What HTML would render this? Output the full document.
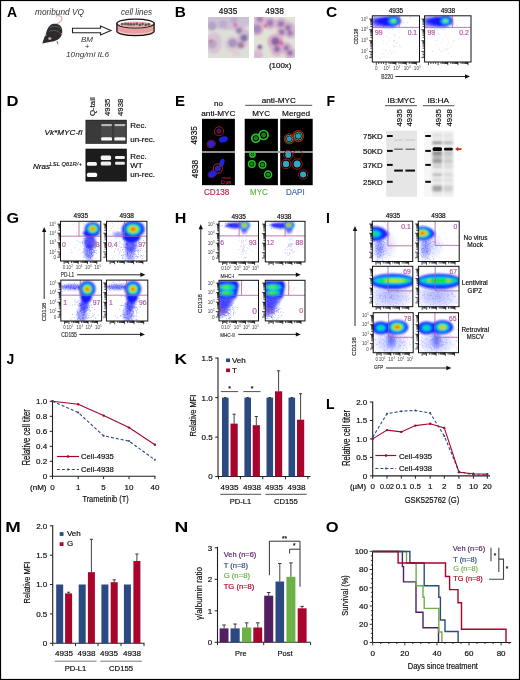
<!DOCTYPE html>
<html><head><meta charset="utf-8"><style>
html,body{margin:0;padding:0;background:#fff;}
svg{display:block;will-change:transform;}
text{font-family:"Liberation Sans", sans-serif;}
</style></head><body>
<svg width="520" height="680" viewBox="0 0 520 680">
<rect x="0" y="0" width="520" height="680" fill="#fff"/>
<defs>
<filter id="bl08" x="-30%" y="-30%" width="160%" height="160%"><feGaussianBlur stdDeviation="0.85"/></filter>
<filter id="bl1" x="-30%" y="-30%" width="160%" height="160%"><feGaussianBlur stdDeviation="1.2"/></filter>
<filter id="bl05" x="-30%" y="-30%" width="160%" height="160%"><feGaussianBlur stdDeviation="0.6"/></filter>
<filter id="bl2" x="-30%" y="-30%" width="160%" height="160%"><feGaussianBlur stdDeviation="2"/></filter>
<filter id="bl3" x="-50%" y="-50%" width="200%" height="200%"><feGaussianBlur stdDeviation="3"/></filter>
<radialGradient id="hz"><stop offset="0" stop-color="#2030ff" stop-opacity="1"/><stop offset="0.5" stop-color="#3040ff" stop-opacity="0.6"/><stop offset="1" stop-color="#4050ff" stop-opacity="0"/></radialGradient>
<linearGradient id="gel1" x1="0" y1="0" x2="0" y2="1"><stop offset="0" stop-color="#2a2a2a"/><stop offset="0.6" stop-color="#3c3c3c"/><stop offset="1" stop-color="#2c2c2c"/></linearGradient>
</defs>
<text x="7" y="17" font-size="14" fill="#000" font-weight="bold" >A</text>
<text x="35" y="14.5" font-size="9" fill="#333" textLength="49" lengthAdjust="spacingAndGlyphs" font-style="italic" >moribund VQ</text>
<path d="M56 24.5 C59 23 62.5 20.5 61.8 17.8 C61 15.5 58 15.2 55.8 16.2" fill="none" stroke="#e6a8a8" stroke-width="1.1"/>
<path d="M42.3 43.4 C43.5 40 44.6 36.5 46 33.5 C46.8 30 48 27 50.5 25 C53 23.3 57.5 23.4 60.3 25.8 C62.6 28 62.8 32.5 61.5 35.5 C60 38.5 57.5 40.3 54 41.2 C50.5 42 46.5 42.6 42.3 43.4 Z" fill="#2c2c2c"/>
<path d="M50 27.5 C53.5 25.5 58.5 26 61.3 29.5 M49 31.5 C52.5 29.5 57.5 30 60.5 33.5" fill="none" stroke="#5a5a5a" stroke-width="1"/>
<ellipse cx="49.8" cy="38.6" rx="1.6" ry="1.3" fill="#e8a0a8"/>
<circle cx="45.6" cy="35" r="0.9" fill="#e8a0a8"/>
<circle cx="57.7" cy="43.5" r="0.9" fill="#e8a0a8"/>
<path d="M57 41 L57.7 43.5" stroke="#555" stroke-width="0.8"/>
<circle cx="61.8" cy="33.8" r="0.8" fill="#e8a0a8"/>
<circle cx="42.7" cy="43.2" r="0.7" fill="#e8a0a8"/>
<path d="M72.5 28.2 L100.5 28.2 L100.5 26 L111 30.5 L100.5 35 L100.5 32.8 L72.5 32.8 Z" fill="#fff" stroke="#222" stroke-width="1.1"/>
<text x="87" y="42" font-size="8" text-anchor="middle" fill="#333" font-style="italic" >BM</text>
<text x="87" y="49" font-size="8" text-anchor="middle" fill="#333" font-style="italic" >+</text>
<text x="66" y="56.5" font-size="8" fill="#333" textLength="43" lengthAdjust="spacingAndGlyphs" font-style="italic" >10ng/ml IL6</text>
<text x="121" y="14.5" font-size="9" fill="#333" textLength="31" lengthAdjust="spacingAndGlyphs" font-style="italic" >cell lines</text>
<path d="M116.9 23.5 L116.9 31.3 A18.6 4.4 0 0 0 154.1 31.3 L154.1 23.5 Z" fill="#e6a0a0" stroke="#111" stroke-width="1.3"/>
<path d="M118.5 30.5 A17 3.6 0 0 0 152.5 30.5" fill="none" stroke="#f6d0d0" stroke-width="0.9"/>
<ellipse cx="135.5" cy="23.5" rx="18.6" ry="4.4" fill="#fff" stroke="#111" stroke-width="1.3"/>
<ellipse cx="135.5" cy="24.6" rx="16.2" ry="3.0" fill="#eaa8a8"/>
<circle cx="122.4" cy="24.0" r="1.35" fill="#5a5a5a"/>
<circle cx="125.5" cy="23.9" r="1.35" fill="#5a5a5a"/>
<circle cx="128.3" cy="24.2" r="1.35" fill="#5a5a5a"/>
<circle cx="130.8" cy="24.4" r="1.35" fill="#5a5a5a"/>
<circle cx="133.7" cy="24.3" r="1.35" fill="#5a5a5a"/>
<circle cx="136.7" cy="23.9" r="1.35" fill="#5a5a5a"/>
<circle cx="139.8" cy="24.8" r="1.35" fill="#5a5a5a"/>
<circle cx="142.5" cy="24.1" r="1.35" fill="#5a5a5a"/>
<circle cx="145.8" cy="24.9" r="1.35" fill="#5a5a5a"/>
<circle cx="148.7" cy="24.3" r="1.35" fill="#5a5a5a"/>
<text x="174.8" y="17" font-size="14" fill="#000" textLength="11.1" lengthAdjust="spacingAndGlyphs" font-weight="bold" >B</text>
<text x="228.1" y="13.8" font-size="8.3" text-anchor="middle" stroke="#231f20" stroke-width="0.18" >4935</text>
<text x="274.6" y="13.8" font-size="8.3" text-anchor="middle" stroke="#231f20" stroke-width="0.18" >4938</text>
<text x="268.9" y="67.7" font-size="7" stroke="#231f20" stroke-width="0.18" textLength="22.6" lengthAdjust="spacingAndGlyphs" >(100x)</text>
<svg x="208" y="17" width="41" height="41" overflow="hidden"><rect width="41" height="41" fill="#dde0d6"/><g filter="url(#bl1)" opacity="0.82">
<ellipse cx="20" cy="4" rx="24" ry="9" fill="#cbbad6"/>
<ellipse cx="6" cy="26" rx="8" ry="11" fill="#d6bed6"/>
<circle cx="24.5" cy="27" r="8" fill="#dcc4d6"/>
<circle cx="33" cy="26" r="6.5" fill="#d2b8d2"/>
<circle cx="36" cy="18" r="6" fill="#ccb0d0"/>
<circle cx="31" cy="12" r="5" fill="#cdb2d2"/>
<circle cx="4" cy="9" r="4.5" fill="#a896c4"/>
<circle cx="15" cy="7" r="4" fill="#b4a2cc"/>
<circle cx="26" cy="3" r="3.5" fill="#b6a0ca"/>
<circle cx="31" cy="13.5" r="3" fill="#8c74ac"/>
<circle cx="36" cy="21" r="3.6" fill="#6e5e9a"/>
<circle cx="24.5" cy="26" r="4.5" fill="#9c86b8"/>
<circle cx="32.7" cy="28" r="3.2" fill="#8a6aa6"/>
<circle cx="4.4" cy="27" r="4.5" fill="#b09ac2"/>
<circle cx="27.3" cy="8" r="2.2" fill="#e05c9c"/>
<circle cx="2.5" cy="24" r="1.6" fill="#c0306e"/>
<circle cx="34" cy="29" r="1.5" fill="#c05088"/>
<ellipse cx="28.5" cy="37" rx="4" ry="3" fill="#e2ccd6"/>
</g></svg>
<svg x="254" y="17" width="41" height="41" overflow="hidden"><rect width="41" height="41" fill="#e0e3d6"/><g filter="url(#bl1)" opacity="0.82">
<circle cx="5.8" cy="2.5" r="6" fill="#d8a6cc"/>
<circle cx="16" cy="6" r="6.5" fill="#d6aacd"/>
<circle cx="27" cy="7" r="6.5" fill="#d4a6cb"/>
<circle cx="35" cy="10.7" r="6" fill="#d2a4cb"/>
<circle cx="3" cy="12" r="6.5" fill="#cfa0c8"/>
<circle cx="28" cy="15" r="5.5" fill="#d8acd0"/>
<circle cx="36.5" cy="16" r="5.5" fill="#d4a8cc"/>
<circle cx="21.4" cy="25" r="8" fill="#d4a2c8"/>
<circle cx="23" cy="33" r="6.5" fill="#d8a8cc"/>
<circle cx="32.3" cy="31" r="6" fill="#d2a4ca"/>
<circle cx="36" cy="36" r="6" fill="#d4a8cc"/>
<circle cx="4" cy="38" r="5" fill="#dab2d0"/>
<circle cx="5.8" cy="31" r="3.5" fill="#dcc0d4"/>
<circle cx="5.8" cy="2" r="3" fill="#9270b0"/>
<circle cx="16" cy="6" r="3.4" fill="#8e6cae"/>
<circle cx="27" cy="7" r="3.2" fill="#8a68ac"/>
<circle cx="34" cy="10.7" r="2.8" fill="#8060a4"/>
<circle cx="3" cy="12" r="4" fill="#9a78b6"/>
<circle cx="27.8" cy="15" r="3" fill="#8a68ac"/>
<circle cx="36" cy="16" r="2.8" fill="#8a68ac"/>
<circle cx="21.4" cy="24.4" r="4.2" fill="#74489a"/>
<circle cx="23" cy="32" r="3.2" fill="#8460a6"/>
<circle cx="32.3" cy="31" r="2.8" fill="#8862a8"/>
<circle cx="36" cy="36" r="2.8" fill="#7a5ba0"/>
<circle cx="5.8" cy="30" r="2.2" fill="#5a3a8a"/>
<circle cx="11.3" cy="9" r="1.8" fill="#e0307a"/>
<circle cx="27" cy="26" r="2.4" fill="#e0408a"/>
</g></svg>
<text x="326.1" y="17" font-size="14" fill="#000" textLength="11.2" lengthAdjust="spacingAndGlyphs" font-weight="bold" >C</text>
<text x="395.9" y="12.5" font-size="6.5" text-anchor="middle" stroke="#231f20" stroke-width="0.18" >4935</text>
<text x="447.9" y="12.5" font-size="6.5" text-anchor="middle" stroke="#231f20" stroke-width="0.18" >4938</text>
<clipPath id="c372_15"><rect x="372.3" y="15.8" width="47.19999999999999" height="46.2"/></clipPath>
<g clip-path="url(#c372_15)">
<path fill="#b8b8f0" d="M392.9 40.8h.6v.6h-.6zM394.1 35.3h.6v.6h-.6zM392.9 44.9h.6v.6h-.6zM387.4 57.1h.6v.6h-.6zM394.3 52.3h.6v.6h-.6zM387.7 34.4h.6v.6h-.6zM389.2 40.2h.6v.6h-.6zM394.8 43.5h.6v.6h-.6zM388.6 32.4h.6v.6h-.6zM388.2 52.5h.6v.6h-.6zM386.6 43.5h.6v.6h-.6zM393.6 27.4h.6v.6h-.6zM391.5 53.3h.6v.6h-.6zM379.8 38.2h.6v.6h-.6zM390.6 33.7h.6v.6h-.6zM394.0 40.6h.6v.6h-.6zM382.9 48.9h.6v.6h-.6zM395.0 49.9h.6v.6h-.6zM399.3 44.6h.6v.6h-.6zM391.9 29.2h.6v.6h-.6zM394.7 35.6h.6v.6h-.6zM388.6 29.5h.6v.6h-.6zM385.7 36.3h.6v.6h-.6zM398.5 22.4h.6v.6h-.6zM382.9 43.4h.6v.6h-.6zM399.4 46.6h.6v.6h-.6zM380.4 17.9h.6v.6h-.6zM393.2 34.4h.6v.6h-.6zM384.8 50.2h.6v.6h-.6zM397.4 42.7h.6v.6h-.6zM392.6 45.2h.6v.6h-.6zM400.2 46.9h.6v.6h-.6zM394.1 46.3h.6v.6h-.6zM382.3 53.1h.6v.6h-.6zM396.6 46.1h.6v.6h-.6zM380.0 35.4h.6v.6h-.6zM396.0 24.5h.6v.6h-.6zM390.1 50.6h.6v.6h-.6zM383.8 56.1h.6v.6h-.6zM394.3 39.8h.6v.6h-.6zM393.0 47.2h.6v.6h-.6zM391.9 51.8h.6v.6h-.6zM387.4 37.4h.6v.6h-.6zM397.1 41.5h.6v.6h-.6zM386.2 50.0h.6v.6h-.6zM399.5 37.1h.6v.6h-.6zM383.4 40.0h.6v.6h-.6zM390.3 38.5h.6v.6h-.6zM399.1 31.7h.6v.6h-.6zM398.3 29.5h.6v.6h-.6z"/>
<path fill="#6060ff" d="M376.7 23.4h.6v.6h-.6zM394.8 24.1h.6v.6h-.6zM387.4 21.8h.6v.6h-.6zM385.5 23.2h.6v.6h-.6zM382.4 22.2h.6v.6h-.6zM389.5 21.3h.6v.6h-.6zM391.3 23.2h.6v.6h-.6zM403.1 22.4h.6v.6h-.6zM380.1 20.1h.6v.6h-.6zM384.0 24.3h.6v.6h-.6zM380.9 22.6h.6v.6h-.6zM401.4 13.0h.6v.6h-.6zM373.5 22.1h.6v.6h-.6zM387.9 22.1h.6v.6h-.6zM380.0 23.5h.6v.6h-.6zM386.8 19.7h.6v.6h-.6zM407.0 22.5h.6v.6h-.6zM378.9 21.0h.6v.6h-.6zM382.0 21.1h.6v.6h-.6zM358.3 19.8h.6v.6h-.6zM393.6 17.6h.6v.6h-.6zM383.5 24.4h.6v.6h-.6zM392.2 26.2h.6v.6h-.6zM368.0 20.2h.6v.6h-.6zM380.9 23.4h.6v.6h-.6zM394.4 12.7h.6v.6h-.6zM394.4 16.7h.6v.6h-.6zM390.5 16.5h.6v.6h-.6zM385.8 25.2h.6v.6h-.6zM382.7 22.0h.6v.6h-.6zM391.6 21.8h.6v.6h-.6zM383.3 26.3h.6v.6h-.6zM394.0 20.4h.6v.6h-.6zM410.0 17.6h.6v.6h-.6zM392.7 20.5h.6v.6h-.6zM385.3 23.6h.6v.6h-.6zM386.2 23.4h.6v.6h-.6zM369.7 16.5h.6v.6h-.6zM389.9 18.2h.6v.6h-.6zM374.4 16.6h.6v.6h-.6zM396.1 23.8h.6v.6h-.6zM398.0 18.3h.6v.6h-.6zM384.1 17.7h.6v.6h-.6zM391.3 26.5h.6v.6h-.6zM375.7 26.4h.6v.6h-.6zM393.4 20.8h.6v.6h-.6zM365.5 25.9h.6v.6h-.6zM383.2 19.4h.6v.6h-.6zM387.9 22.7h.6v.6h-.6zM398.2 18.0h.6v.6h-.6zM394.8 26.2h.6v.6h-.6zM397.8 20.8h.6v.6h-.6zM377.1 24.6h.6v.6h-.6zM385.2 21.7h.6v.6h-.6zM397.5 20.5h.6v.6h-.6zM362.4 20.1h.6v.6h-.6zM366.6 24.0h.6v.6h-.6zM387.1 19.4h.6v.6h-.6zM384.0 24.0h.6v.6h-.6zM384.8 25.6h.6v.6h-.6z"/>
<g filter="url(#bl08)">
<polygon points="372.3,17.2 386.5,16.7 398.3,16.7 399.2,24.1 393.5,27.8 381.7,27.4 372.3,26.4" fill="#1818ff" opacity="0.55"/>
<ellipse cx="387.9" cy="21.3" rx="10.4" ry="4.6" fill="#1818ff"/>
<ellipse cx="393.5" cy="20.9" rx="7.6" ry="5.1" fill="#1818ff"/>
<ellipse cx="379.9" cy="21.3" rx="6.6" ry="3.2" fill="#1818ff" opacity="0.7"/>
<ellipse cx="393.5" cy="20.9" rx="5.9" ry="4.0" fill="#0048ff"/>
<ellipse cx="393.5" cy="20.9" rx="4.4" ry="2.9" fill="#00c8ff"/>
<ellipse cx="393.5" cy="20.9" rx="2.9" ry="1.9" fill="#18e040"/>
<ellipse cx="393.5" cy="20.9" rx="1.5" ry="1.0" fill="#d0f000"/>
</g></g>
<polyline points="372.3,27.4 419.5,27.4" fill="none" stroke="#b05aa0" stroke-width="0.8"/>
<polyline points="399.2,15.8 399.2,27.4" fill="none" stroke="#b05aa0" stroke-width="0.8"/>
<text x="375.1" y="35.0" font-size="6.8" fill="#b05aa0" stroke="#b05aa0" stroke-width="0.18" >99</text>
<text x="417.1" y="35.0" font-size="6.8" text-anchor="end" fill="#b05aa0" stroke="#b05aa0" stroke-width="0.18" >0.1</text>
<rect x="372.3" y="15.8" width="47.19999999999999" height="46.2" fill="none" stroke="#111" stroke-width="1"/>
<path d="M369.1 57.6H372.3M369.1 51.4H372.3M370.3 48.2H372.3M370.3 46.3H372.3M370.3 45.0H372.3M370.3 43.9H372.3M370.3 43.1H372.3M370.3 42.4H372.3M370.3 41.8H372.3M370.3 41.2H372.3M369.1 40.7H372.3M370.3 37.4H372.3M370.3 35.5H372.3M370.3 34.1H372.3M370.3 33.0H372.3M370.3 32.1H372.3M370.3 31.4H372.3M370.3 30.7H372.3M370.3 30.2H372.3M369.1 29.7H372.3M370.3 26.5H372.3M370.3 24.6H372.3M370.3 23.3H372.3M370.3 22.2H372.3M370.3 21.4H372.3M370.3 20.7H372.3M370.3 20.1H372.3M370.3 19.5H372.3M369.1 19.0H372.3M370.3 56.1H372.3M370.3 54.5H372.3M370.3 52.9H372.3M376.3 62V65.2M386.0 62V65.2M389.0 62V64.0M390.7 62V64.0M392.0 62V64.0M392.9 62V64.0M393.7 62V64.0M394.4 62V64.0M394.9 62V64.0M395.4 62V64.0M395.9 62V65.2M399.0 62V64.0M400.9 62V64.0M402.2 62V64.0M403.2 62V64.0M404.0 62V64.0M404.7 62V64.0M405.3 62V64.0M405.8 62V64.0M406.3 62V65.2M409.3 62V64.0M411.1 62V64.0M412.4 62V64.0M413.4 62V64.0M414.2 62V64.0M414.9 62V64.0M415.4 62V64.0M416.0 62V64.0M416.4 62V65.2M378.7 62V64.0M381.2 62V64.0M383.6 62V64.0" stroke="#111" stroke-width="0.75"/>
<text x="367.8" y="59.2" font-size="4.6" text-anchor="end" fill="#444" >0</text>
<text x="367.8" y="53.0" font-size="4.6" text-anchor="end" fill="#444" >10<tspan font-size="2.8" dy="-2">2</tspan></text>
<text x="367.8" y="42.4" font-size="4.6" text-anchor="end" fill="#444" >10<tspan font-size="2.8" dy="-2">3</tspan></text>
<text x="367.8" y="31.3" font-size="4.6" text-anchor="end" fill="#444" >10<tspan font-size="2.8" dy="-2">4</tspan></text>
<text x="367.8" y="20.6" font-size="4.6" text-anchor="end" fill="#444" >10<tspan font-size="2.8" dy="-2">5</tspan></text>
<text x="376.3" y="70.4" font-size="4.6" text-anchor="middle" fill="#444" >0</text>
<text x="386.8" y="70.4" font-size="4.6" text-anchor="middle" fill="#444" >10<tspan font-size="2.8" dy="-2">2</tspan></text>
<text x="396.7" y="70.4" font-size="4.6" text-anchor="middle" fill="#444" >10<tspan font-size="2.8" dy="-2">3</tspan></text>
<text x="407.1" y="70.4" font-size="4.6" text-anchor="middle" fill="#444" >10<tspan font-size="2.8" dy="-2">4</tspan></text>
<text x="417.2" y="70.4" font-size="4.6" text-anchor="middle" fill="#444" >10<tspan font-size="2.8" dy="-2">5</tspan></text>
<clipPath id="c424_15"><rect x="424.6" y="15.8" width="46.39999999999998" height="46.2"/></clipPath>
<g clip-path="url(#c424_15)">
<path fill="#b8b8f0" d="M442.8 50.8h.6v.6h-.6zM451.5 56.1h.6v.6h-.6zM439.4 49.3h.6v.6h-.6zM432.7 31.2h.6v.6h-.6zM432.2 51.1h.6v.6h-.6zM436.3 41.1h.6v.6h-.6zM442.1 40.9h.6v.6h-.6zM439.9 43.4h.6v.6h-.6zM453.1 41.6h.6v.6h-.6zM446.1 50.5h.6v.6h-.6zM442.1 29.6h.6v.6h-.6zM440.1 51.1h.6v.6h-.6zM434.0 35.7h.6v.6h-.6zM448.8 48.5h.6v.6h-.6zM443.2 48.7h.6v.6h-.6zM444.1 30.3h.6v.6h-.6zM434.5 35.3h.6v.6h-.6zM448.3 36.0h.6v.6h-.6zM438.1 34.1h.6v.6h-.6zM434.6 40.1h.6v.6h-.6zM436.6 44.6h.6v.6h-.6zM430.0 44.2h.6v.6h-.6zM439.6 23.3h.6v.6h-.6zM447.2 38.7h.6v.6h-.6zM430.7 33.1h.6v.6h-.6zM444.8 37.0h.6v.6h-.6zM447.5 48.1h.6v.6h-.6zM446.9 44.2h.6v.6h-.6zM450.6 47.3h.6v.6h-.6zM445.7 22.0h.6v.6h-.6zM448.2 53.3h.6v.6h-.6zM441.5 36.9h.6v.6h-.6zM454.0 25.0h.6v.6h-.6zM445.8 63.6h.6v.6h-.6zM438.0 47.6h.6v.6h-.6zM453.7 40.1h.6v.6h-.6zM446.3 49.5h.6v.6h-.6zM438.1 40.4h.6v.6h-.6zM444.8 48.8h.6v.6h-.6zM443.0 39.4h.6v.6h-.6zM437.5 37.9h.6v.6h-.6zM448.1 42.2h.6v.6h-.6zM438.4 33.4h.6v.6h-.6zM458.0 51.7h.6v.6h-.6zM446.7 17.3h.6v.6h-.6zM446.6 45.7h.6v.6h-.6zM452.5 45.2h.6v.6h-.6zM442.8 46.0h.6v.6h-.6zM432.3 50.8h.6v.6h-.6zM445.0 34.7h.6v.6h-.6z"/>
<path fill="#6060ff" d="M448.5 27.2h.6v.6h-.6zM423.2 19.2h.6v.6h-.6zM438.9 21.9h.6v.6h-.6zM432.5 18.2h.6v.6h-.6zM455.9 24.7h.6v.6h-.6zM425.1 17.0h.6v.6h-.6zM452.0 24.5h.6v.6h-.6zM453.1 24.0h.6v.6h-.6zM428.1 22.2h.6v.6h-.6zM416.2 18.9h.6v.6h-.6zM435.7 23.0h.6v.6h-.6zM429.4 20.9h.6v.6h-.6zM440.5 22.6h.6v.6h-.6zM442.1 22.0h.6v.6h-.6zM433.2 23.9h.6v.6h-.6zM436.7 18.7h.6v.6h-.6zM430.4 21.3h.6v.6h-.6zM435.2 21.9h.6v.6h-.6zM436.2 21.9h.6v.6h-.6zM435.0 17.3h.6v.6h-.6zM440.1 24.8h.6v.6h-.6zM440.2 20.7h.6v.6h-.6zM440.3 18.2h.6v.6h-.6zM418.6 21.5h.6v.6h-.6zM427.6 23.7h.6v.6h-.6zM426.1 12.8h.6v.6h-.6zM426.6 26.4h.6v.6h-.6zM432.7 16.9h.6v.6h-.6zM429.1 23.0h.6v.6h-.6zM440.8 21.9h.6v.6h-.6zM450.0 23.6h.6v.6h-.6zM436.0 23.3h.6v.6h-.6zM451.6 24.5h.6v.6h-.6zM445.7 17.8h.6v.6h-.6zM434.8 23.7h.6v.6h-.6zM433.4 24.8h.6v.6h-.6zM441.7 24.3h.6v.6h-.6zM434.2 29.6h.6v.6h-.6zM447.7 20.6h.6v.6h-.6zM437.0 29.7h.6v.6h-.6zM433.0 24.2h.6v.6h-.6zM445.3 21.4h.6v.6h-.6zM425.4 22.0h.6v.6h-.6zM439.5 25.0h.6v.6h-.6zM443.5 21.4h.6v.6h-.6zM444.1 23.1h.6v.6h-.6zM438.1 21.5h.6v.6h-.6zM433.9 23.6h.6v.6h-.6zM426.4 19.3h.6v.6h-.6zM436.2 16.6h.6v.6h-.6zM432.2 14.8h.6v.6h-.6zM429.9 23.2h.6v.6h-.6zM441.5 21.2h.6v.6h-.6zM434.0 16.8h.6v.6h-.6zM453.2 23.0h.6v.6h-.6zM446.3 18.5h.6v.6h-.6zM434.5 15.5h.6v.6h-.6zM443.4 24.4h.6v.6h-.6zM418.6 21.2h.6v.6h-.6zM442.0 15.6h.6v.6h-.6z"/>
<g filter="url(#bl08)">
<polygon points="424.6,17.2 438.5,16.7 450.1,16.7 451.0,24.1 445.5,27.8 433.9,27.4 424.6,26.4" fill="#1818ff" opacity="0.55"/>
<ellipse cx="439.9" cy="21.3" rx="10.2" ry="4.6" fill="#1818ff"/>
<ellipse cx="445.5" cy="20.9" rx="7.4" ry="5.1" fill="#1818ff"/>
<ellipse cx="432.0" cy="21.3" rx="6.5" ry="3.2" fill="#1818ff" opacity="0.7"/>
<ellipse cx="445.5" cy="20.9" rx="5.8" ry="4.0" fill="#0048ff"/>
<ellipse cx="445.5" cy="20.9" rx="4.3" ry="2.9" fill="#00c8ff"/>
<ellipse cx="445.5" cy="20.9" rx="2.8" ry="1.9" fill="#18e040"/>
<ellipse cx="445.5" cy="20.9" rx="1.5" ry="1.0" fill="#d0f000"/>
</g></g>
<polyline points="424.6,27.4 471.0,27.4" fill="none" stroke="#b05aa0" stroke-width="0.8"/>
<polyline points="452.4,15.8 452.4,27.4" fill="none" stroke="#b05aa0" stroke-width="0.8"/>
<text x="427.4" y="35.0" font-size="6.8" fill="#b05aa0" stroke="#b05aa0" stroke-width="0.18" >99</text>
<text x="468.7" y="35.0" font-size="6.8" text-anchor="end" fill="#b05aa0" stroke="#b05aa0" stroke-width="0.18" >0.2</text>
<rect x="424.6" y="15.8" width="46.39999999999998" height="46.2" fill="none" stroke="#111" stroke-width="1"/>
<path d="M421.4 57.6H424.6M421.4 51.4H424.6M422.6 48.2H424.6M422.6 46.3H424.6M422.6 45.0H424.6M422.6 43.9H424.6M422.6 43.1H424.6M422.6 42.4H424.6M422.6 41.8H424.6M422.6 41.2H424.6M421.4 40.7H424.6M422.6 37.4H424.6M422.6 35.5H424.6M422.6 34.1H424.6M422.6 33.0H424.6M422.6 32.1H424.6M422.6 31.4H424.6M422.6 30.7H424.6M422.6 30.2H424.6M421.4 29.7H424.6M422.6 26.5H424.6M422.6 24.6H424.6M422.6 23.3H424.6M422.6 22.2H424.6M422.6 21.4H424.6M422.6 20.7H424.6M422.6 20.1H424.6M422.6 19.5H424.6M421.4 19.0H424.6M422.6 56.1H424.6M422.6 54.5H424.6M422.6 52.9H424.6M428.5 62V65.2M438.1 62V65.2M441.0 62V64.0M442.7 62V64.0M443.9 62V64.0M444.9 62V64.0M445.6 62V64.0M446.3 62V64.0M446.9 62V64.0M447.4 62V64.0M447.8 62V65.2M450.9 62V64.0M452.7 62V64.0M453.9 62V64.0M454.9 62V64.0M455.7 62V64.0M456.4 62V64.0M457.0 62V64.0M457.5 62V64.0M458.0 62V65.2M461.0 62V64.0M462.8 62V64.0M464.0 62V64.0M465.0 62V64.0M465.8 62V64.0M466.4 62V64.0M467.0 62V64.0M467.5 62V64.0M468.0 62V65.2M430.9 62V64.0M433.3 62V64.0M435.7 62V64.0" stroke="#111" stroke-width="0.75"/>
<text x="357.6" y="36.6" font-size="5.8" text-anchor="middle" fill="#333" stroke="#333" stroke-width="0.18" textLength="15.8" lengthAdjust="spacingAndGlyphs" transform="rotate(-90 357.6 36.6)" >CD138</text>
<text x="381.3" y="79.3" font-size="7" fill="#333" stroke="#333" stroke-width="0.18" textLength="11.8" lengthAdjust="spacingAndGlyphs" >B220</text>
<line x1="395.4" y1="76.5" x2="466" y2="76.5" stroke="#111" stroke-width="0.9"/>
<path d="M470 76.5 L465 74.3 L465 78.7 Z" fill="#111"/>
<text x="6.6" y="105.8" font-size="14" fill="#000" textLength="12" lengthAdjust="spacingAndGlyphs" font-weight="bold" >D</text>
<text x="44.6" y="134.7" font-size="8" textLength="37.6" lengthAdjust="spacingAndGlyphs" font-style="italic" stroke="#231f20" stroke-width="0.18">Vk*MYC-fl</text>
<text x="33.1" y="168.8" font-size="8" font-style="italic" stroke="#231f20" stroke-width="0.18">Nras</text>
<text x="49.6" y="166" font-size="5.6" textLength="32.3" lengthAdjust="spacingAndGlyphs" font-style="italic" stroke="#231f20" stroke-width="0.12">LSL Q61R/+</text>
<text x="95" y="116" font-size="7.8" stroke="#231f20" stroke-width="0.18" transform="rotate(-90 95 116)" >Q-tail</text>
<text x="110" y="116" font-size="7.8" stroke="#231f20" stroke-width="0.18" transform="rotate(-90 110 116)" >4935</text>
<text x="123" y="116" font-size="7.8" stroke="#231f20" stroke-width="0.18" transform="rotate(-90 123 116)" >4938</text>
<rect x="85.5" y="119.8" width="41.3" height="24" fill="#222"/>
<rect x="86.3" y="120.6" width="39.7" height="22.4" fill="#3a3a3a"/>
<rect x="85.5" y="148.7" width="41.3" height="32.8" fill="#0c0c0c"/>
<rect x="86.3" y="149.5" width="39.7" height="31.2" fill="#1c1c1c"/>
<g filter="url(#bl05)">
<rect x="101.2" y="127" width="10.799999999999997" height="10" fill="#4a4a4a"/>
<rect x="101.2" y="124" width="10.799999999999997" height="2.2" rx="1" fill="#b8b8b8"/>
<rect x="101.2" y="137.2" width="10.799999999999997" height="3.4" rx="1.2" fill="#fafafa"/>
<rect x="114.3" y="127" width="11.100000000000009" height="10" fill="#4a4a4a"/>
<rect x="114.3" y="124" width="11.100000000000009" height="2.2" rx="1" fill="#b8b8b8"/>
<rect x="114.3" y="137.2" width="11.100000000000009" height="3.4" rx="1.2" fill="#fafafa"/>
<rect x="86.9" y="162.1" width="10" height="3.7" rx="1.5" fill="#f4f4f4"/>
<rect x="86.9" y="172.7" width="10.2" height="4.4" rx="1.5" fill="#fafafa"/>
<rect x="100.7" y="155.4" width="10.4" height="4.5" rx="1.5" fill="#f4f4f4"/>
<rect x="100.7" y="161.5" width="10.4" height="4" rx="1.5" fill="#eeeeee"/>
<rect x="115" y="155.9" width="9.9" height="3.1" rx="1.3" fill="#eeeeee"/>
<rect x="115" y="161.8" width="9.9" height="3" rx="1.3" fill="#e8e8e8"/>
</g>
<text x="130.2" y="128" font-size="8" stroke="#231f20" stroke-width="0.18" >Rec.</text>
<text x="130.2" y="141.8" font-size="8" stroke="#231f20" stroke-width="0.18" >un-rec.</text>
<text x="130.2" y="158.6" font-size="8" stroke="#231f20" stroke-width="0.18" >Rec.</text>
<text x="130.2" y="167.8" font-size="8" stroke="#231f20" stroke-width="0.18" >WT</text>
<text x="130.2" y="177.3" font-size="8" stroke="#231f20" stroke-width="0.18" >un-rec.</text>
<text x="174.9" y="105.8" font-size="14" fill="#000" textLength="10" lengthAdjust="spacingAndGlyphs" font-weight="bold" >E</text>
<text x="218.4" y="106" font-size="8" text-anchor="middle" stroke="#231f20" stroke-width="0.18" >no</text>
<text x="218.4" y="115.7" font-size="8" text-anchor="middle" stroke="#231f20" stroke-width="0.18" textLength="34.2" lengthAdjust="spacingAndGlyphs" >anti-MYC</text>
<text x="278.8" y="102.7" font-size="8" text-anchor="middle" stroke="#231f20" stroke-width="0.18" textLength="34.2" lengthAdjust="spacingAndGlyphs" >anti-MYC</text>
<line x1="245.2" y1="105.3" x2="312.2" y2="105.3" stroke="#231f20" stroke-width="0.8" />
<text x="261.1" y="115.7" font-size="8" text-anchor="middle" stroke="#231f20" stroke-width="0.18" >MYC</text>
<text x="296.1" y="115.7" font-size="8" text-anchor="middle" stroke="#231f20" stroke-width="0.18" textLength="28" lengthAdjust="spacingAndGlyphs" >Merged</text>
<text x="197.5" y="135.3" font-size="8.3" text-anchor="middle" stroke="#231f20" stroke-width="0.18" transform="rotate(-90 197.5 135.3)" >4935</text>
<text x="197.5" y="169" font-size="8.3" text-anchor="middle" stroke="#231f20" stroke-width="0.18" transform="rotate(-90 197.5 169)" >4938</text>
<rect x="202" y="151.1" width="32.9" height="1.8" fill="#9a9a9a" />
<rect x="244.7" y="151.1" width="68" height="1.8" fill="#9a9a9a" />
<rect x="202" y="118.8" width="32.900000000000006" height="32.3" fill="#000" />
<rect x="202" y="152.9" width="32.900000000000006" height="32.3" fill="#000" />
<rect x="244.7" y="118.8" width="33.19999999999999" height="32.3" fill="#000" />
<rect x="244.7" y="152.9" width="33.19999999999999" height="32.3" fill="#000" />
<rect x="280.2" y="118.8" width="32.5" height="32.3" fill="#000" />
<rect x="280.2" y="152.9" width="32.5" height="32.3" fill="#000" />
<g filter="url(#bl05)">
<ellipse cx="219" cy="131.2" rx="4.5" ry="4.5" fill="none" stroke="#901828" stroke-width="1.1"/>
<ellipse cx="219" cy="131.2" rx="2.70" ry="2.70" fill="#4a1448"/>
<ellipse cx="223.4" cy="139.4" rx="4.60" ry="3.00" fill="#1a20d8" transform="rotate(-15 223.4 139.4)"/>
<ellipse cx="211.2" cy="143.9" rx="4.2" ry="3.6" fill="none" stroke="#801840" stroke-width="1" transform="rotate(-20 211.2 143.9)"/>
<ellipse cx="211.2" cy="143.9" rx="3.57" ry="3.06" fill="#3020d0" transform="rotate(-20 211.2 143.9)"/>
<ellipse cx="221.9" cy="162.9" rx="2.40" ry="4.20" fill="#1a28e0" transform="rotate(20 221.9 162.9)"/>
<ellipse cx="217.9" cy="168.5" rx="4.6" ry="4.6" fill="none" stroke="#981828" stroke-width="1.2"/>
<ellipse cx="217.9" cy="168.5" rx="2.99" ry="2.99" fill="#2828b0"/>
<ellipse cx="212.3" cy="174" rx="4.5" ry="3.4" fill="none" stroke="#701850" stroke-width="0.8" transform="rotate(-25 212.3 174)"/>
<ellipse cx="212.3" cy="174" rx="4.05" ry="3.06" fill="#2020e0" transform="rotate(-25 212.3 174)"/>
<ellipse cx="255.8" cy="138.3" rx="4" ry="4" fill="none" stroke="#2ac42a" stroke-width="1.7"/>
<ellipse cx="255.8" cy="138.3" rx="2.20" ry="2.20" fill="#138013"/>
<ellipse cx="263.6" cy="135" rx="4.5" ry="4.5" fill="none" stroke="#2ac42a" stroke-width="1.7"/>
<ellipse cx="263.6" cy="135" rx="2.48" ry="2.48" fill="#138013"/>
<ellipse cx="252.5" cy="154.5" rx="2.6" ry="2.6" fill="none" stroke="#2ac42a" stroke-width="1.5"/>
<ellipse cx="252.5" cy="154.5" rx="1.56" ry="1.56" fill="#139013"/>
<ellipse cx="251.8" cy="164" rx="3.3" ry="3.3" fill="none" stroke="#2ac42a" stroke-width="1.5"/>
<ellipse cx="251.8" cy="164" rx="1.98" ry="1.98" fill="#139013"/>
<ellipse cx="262.5" cy="164.7" rx="3.4" ry="3.4" fill="none" stroke="#2ac42a" stroke-width="1.5"/>
<ellipse cx="262.5" cy="164.7" rx="2.04" ry="2.04" fill="#139013"/>
<ellipse cx="268.1" cy="174.5" rx="3.5" ry="3.5" fill="none" stroke="#2ac42a" stroke-width="1.5"/>
<ellipse cx="268.1" cy="174.5" rx="2.10" ry="2.10" fill="#139013"/>
<ellipse cx="289.3" cy="138.8" rx="5" ry="5" fill="none" stroke="#b81818" stroke-width="1.1"/>
<ellipse cx="289.3" cy="138.8" rx="3.5999999999999996" ry="3.5999999999999996" fill="none" stroke="#40c040" stroke-width="0.9"/>
<ellipse cx="289.3" cy="138.8" rx="2.52" ry="2.52" fill="#3090c8"/>
<ellipse cx="298.2" cy="136.1" rx="5.5" ry="5.5" fill="none" stroke="#b81818" stroke-width="1.1"/>
<ellipse cx="298.2" cy="136.1" rx="3.96" ry="3.96" fill="none" stroke="#40c040" stroke-width="0.9"/>
<ellipse cx="298.2" cy="136.1" rx="2.77" ry="2.77" fill="#3090c8"/>
<ellipse cx="288.2" cy="155" rx="4.5" ry="4.5" fill="none" stroke="#981818" stroke-width="1.0"/>
<ellipse cx="288.2" cy="155" rx="2.97" ry="2.97" fill="#34a4c4"/>
<ellipse cx="286" cy="164" rx="4.8" ry="4.8" fill="none" stroke="#981818" stroke-width="1.0"/>
<ellipse cx="286" cy="164" rx="3.17" ry="3.17" fill="#34a4c4"/>
<ellipse cx="297.1" cy="164" rx="5.3" ry="5.3" fill="none" stroke="#981818" stroke-width="1.0"/>
<ellipse cx="297.1" cy="164" rx="3.50" ry="3.50" fill="#34a4c4"/>
<ellipse cx="303.1" cy="174.5" rx="4.6" ry="4.6" fill="none" stroke="#981818" stroke-width="1.0"/>
<ellipse cx="303.1" cy="174.5" rx="3.04" ry="3.04" fill="#34a4c4"/>
<ellipse cx="297.8" cy="154.5" rx="4.5" ry="4.5" fill="none" stroke="#701010" stroke-width="0.8"/>
</g>
<line x1="221.6" y1="178" x2="230.9" y2="178" stroke="#c02040" stroke-width="0.9" />
<text x="220.5" y="184" font-size="5.5" fill="#c02040" stroke="#c02040" stroke-width="0.18" textLength="10.5" lengthAdjust="spacingAndGlyphs" >10 µm</text>
<text x="204" y="195" font-size="8.5" fill="#c0284c" stroke="#c0284c" stroke-width="0.18" textLength="25.2" lengthAdjust="spacingAndGlyphs" >CD138</text>
<text x="250" y="195" font-size="8.5" fill="#6ab04c" stroke="#6ab04c" stroke-width="0.18" textLength="17.7" lengthAdjust="spacingAndGlyphs" >MYC</text>
<text x="286" y="195" font-size="8.5" fill="#4a6ab0" stroke="#4a6ab0" stroke-width="0.18" textLength="18.6" lengthAdjust="spacingAndGlyphs" >DAPI</text>
<text x="326.5" y="105.8" font-size="14" fill="#000" font-weight="bold" >F</text>
<text x="401.2" y="103" font-size="7.5" text-anchor="middle" stroke="#231f20" stroke-width="0.18" textLength="27.5" lengthAdjust="spacingAndGlyphs" >IB:MYC</text>
<line x1="385" y1="105.7" x2="417" y2="105.7" stroke="#231f20" stroke-width="0.8" />
<text x="438.3" y="103" font-size="7.5" text-anchor="middle" stroke="#231f20" stroke-width="0.18" textLength="21.7" lengthAdjust="spacingAndGlyphs" >IB:HA</text>
<line x1="422.7" y1="105.7" x2="454.4" y2="105.7" stroke="#231f20" stroke-width="0.8" />
<text x="402.40000000000003" y="126.5" font-size="7.8" stroke="#231f20" stroke-width="0.18" textLength="17.5" lengthAdjust="spacingAndGlyphs" transform="rotate(-90 402.40000000000003 126.5)" >4935</text>
<text x="412.40000000000003" y="126.5" font-size="7.8" stroke="#231f20" stroke-width="0.18" textLength="17.5" lengthAdjust="spacingAndGlyphs" transform="rotate(-90 412.40000000000003 126.5)" >4938</text>
<text x="440.8" y="126.5" font-size="7.8" stroke="#231f20" stroke-width="0.18" textLength="17.5" lengthAdjust="spacingAndGlyphs" transform="rotate(-90 440.8 126.5)" >4935</text>
<text x="451.5" y="126.5" font-size="7.8" stroke="#231f20" stroke-width="0.18" textLength="17.5" lengthAdjust="spacingAndGlyphs" transform="rotate(-90 451.5 126.5)" >4938</text>
<rect x="386.2" y="130.7" width="30.8" height="66" fill="#e6e6e6" />
<rect x="424" y="130.7" width="30" height="66" fill="#f6f6f6" />
<text x="382.7" y="138.8" font-size="7.8" text-anchor="end" stroke="#231f20" stroke-width="0.18" textLength="19.7" lengthAdjust="spacingAndGlyphs" >75KD</text>
<rect x="387" y="135" width="5.7" height="2" fill="#0a0a0a" />
<rect x="425.3" y="135" width="5.6" height="2" fill="#0a0a0a" />
<text x="382.7" y="153.70000000000002" font-size="7.8" text-anchor="end" stroke="#231f20" stroke-width="0.18" textLength="19.7" lengthAdjust="spacingAndGlyphs" >50KD</text>
<rect x="387" y="149.9" width="5.7" height="2" fill="#0a0a0a" />
<rect x="425.3" y="149.9" width="5.6" height="2" fill="#0a0a0a" />
<text x="382.7" y="167.70000000000002" font-size="7.8" text-anchor="end" stroke="#231f20" stroke-width="0.18" textLength="19.7" lengthAdjust="spacingAndGlyphs" >37KD</text>
<rect x="387" y="163.9" width="5.7" height="2" fill="#0a0a0a" />
<rect x="425.3" y="163.9" width="5.6" height="2" fill="#0a0a0a" />
<text x="382.7" y="184.60000000000002" font-size="7.8" text-anchor="end" stroke="#231f20" stroke-width="0.18" textLength="19.7" lengthAdjust="spacingAndGlyphs" >25KD</text>
<rect x="387" y="180.8" width="5.7" height="2" fill="#0a0a0a" />
<rect x="425.3" y="180.8" width="5.6" height="2" fill="#0a0a0a" />
<g filter="url(#bl05)">
<rect x="394.2" y="139.4" width="8.699999999999989" height="1.4" fill="#d0d0d0" />
<rect x="394.2" y="148.6" width="8.699999999999989" height="1.2" fill="#606060" />
<rect x="394.2" y="169.6" width="8.699999999999989" height="2.0" fill="#101010" />
<rect x="405.4" y="139.4" width="9.600000000000023" height="1.4" fill="#d0d0d0" />
<rect x="405.4" y="148.6" width="9.600000000000023" height="1.2" fill="#606060" />
<rect x="405.4" y="169.6" width="9.600000000000023" height="2.0" fill="#101010" />
</g>
<g filter="url(#bl08)">
<rect x="432.5" y="132" width="9.5" height="64" fill="#ebebeb" />
<rect x="432.5" y="134" width="9.5" height="3" fill="#dedede" />
<rect x="432.5" y="141.5" width="9.5" height="2.6" fill="#8a8a8a" />
<rect x="432.5" y="151" width="9.5" height="4" fill="#8c8c8c" />
<rect x="432.5" y="155" width="9.5" height="3" fill="#b4b4b4" />
<rect x="432.5" y="158.5" width="9.5" height="5" fill="#9c9c9c" />
<rect x="432.5" y="165" width="9.5" height="3" fill="#cacaca" />
<rect x="432.5" y="173.5" width="9.5" height="2.5" fill="#b4b4b4" />
<rect x="432.5" y="179" width="9.5" height="2" fill="#d0d0d0" />
<rect x="432.5" y="185.5" width="9.5" height="6" fill="#a4a4a4" />
<rect x="443.8" y="132" width="9.0" height="64" fill="#ebebeb" />
<rect x="443.8" y="134" width="9.0" height="3" fill="#e4e4e4" />
<rect x="443.8" y="141.5" width="9.0" height="2.6" fill="#b0b0b0" />
<rect x="443.8" y="151" width="9.0" height="4" fill="#c4c4c4" />
<rect x="443.8" y="155" width="9.0" height="3" fill="#d4d4d4" />
<rect x="443.8" y="158.5" width="9.0" height="5" fill="#cccccc" />
<rect x="443.8" y="165" width="9.0" height="3" fill="#dadada" />
<rect x="443.8" y="173.5" width="9.0" height="2.5" fill="#d6d6d6" />
<rect x="443.8" y="179" width="9.0" height="2" fill="#dcdcdc" />
<rect x="443.8" y="185.5" width="9.0" height="6" fill="#d0d0d0" />
</g>
<g filter="url(#bl05)">
<rect x="432.6" y="147.3" width="9.4" height="3.6" rx="1.5" fill="#000"/>
<rect x="444" y="147.8" width="8.8" height="2.6" rx="1.2" fill="#080808"/>
</g>
<path d="M455 149.1 L458.2 147 L458.2 148.2 L461.5 148.2 L461.5 150 L458.2 150 L458.2 151.2 Z" fill="#d02a10"/>
<text x="6.5" y="222.8" font-size="14" fill="#000" textLength="12.6" lengthAdjust="spacingAndGlyphs" font-weight="bold" >G</text>
<text x="80.8" y="218.3" font-size="6.5" text-anchor="middle" stroke="#231f20" stroke-width="0.18" >4935</text>
<text x="126.7" y="218.3" font-size="6.5" text-anchor="middle" stroke="#231f20" stroke-width="0.18" >4938</text>
<clipPath id="c60_221"><rect x="60.5" y="221.3" width="40.3" height="39.69999999999999"/></clipPath>
<g clip-path="url(#c60_221)">
<path fill="#6070ff" d="M82.2 242.3h.6v.6h-.6zM87.0 239.9h.6v.6h-.6zM89.6 251.7h.6v.6h-.6zM92.1 254.9h.6v.6h-.6zM95.6 258.2h.6v.6h-.6zM84.2 246.3h.6v.6h-.6zM85.2 242.2h.6v.6h-.6zM89.2 249.9h.6v.6h-.6zM91.5 238.5h.6v.6h-.6zM84.5 249.7h.6v.6h-.6zM88.7 247.7h.6v.6h-.6zM89.3 244.5h.6v.6h-.6zM92.3 252.4h.6v.6h-.6zM89.2 245.1h.6v.6h-.6zM88.8 230.4h.6v.6h-.6zM85.6 250.2h.6v.6h-.6zM83.5 251.3h.6v.6h-.6zM90.1 240.0h.6v.6h-.6zM88.5 247.6h.6v.6h-.6zM91.4 254.3h.6v.6h-.6zM89.4 243.8h.6v.6h-.6zM88.9 249.4h.6v.6h-.6zM92.5 252.0h.6v.6h-.6zM86.6 240.2h.6v.6h-.6zM88.0 244.6h.6v.6h-.6zM85.0 249.1h.6v.6h-.6zM87.5 250.6h.6v.6h-.6zM91.6 246.9h.6v.6h-.6zM98.9 247.6h.6v.6h-.6zM94.0 250.8h.6v.6h-.6zM94.0 232.9h.6v.6h-.6zM86.5 251.6h.6v.6h-.6zM91.9 266.6h.6v.6h-.6zM90.8 259.0h.6v.6h-.6zM92.6 256.7h.6v.6h-.6zM91.6 248.8h.6v.6h-.6zM91.6 242.2h.6v.6h-.6zM94.3 242.6h.6v.6h-.6zM90.5 265.0h.6v.6h-.6zM88.6 250.0h.6v.6h-.6zM94.2 250.1h.6v.6h-.6zM86.3 251.7h.6v.6h-.6zM91.9 255.0h.6v.6h-.6zM86.4 262.4h.6v.6h-.6zM96.2 250.0h.6v.6h-.6zM90.6 246.8h.6v.6h-.6zM95.2 244.8h.6v.6h-.6zM92.2 246.5h.6v.6h-.6zM86.7 255.0h.6v.6h-.6zM94.9 249.8h.6v.6h-.6zM86.8 255.7h.6v.6h-.6zM89.3 252.1h.6v.6h-.6zM95.7 258.0h.6v.6h-.6zM87.4 266.2h.6v.6h-.6zM89.5 255.5h.6v.6h-.6zM86.9 249.6h.6v.6h-.6zM82.5 262.7h.6v.6h-.6zM95.0 241.2h.6v.6h-.6zM83.5 238.3h.6v.6h-.6zM94.3 246.6h.6v.6h-.6zM89.3 247.6h.6v.6h-.6zM89.0 242.1h.6v.6h-.6zM89.6 239.6h.6v.6h-.6zM89.2 252.1h.6v.6h-.6zM91.4 248.2h.6v.6h-.6zM85.9 251.0h.6v.6h-.6zM87.6 261.1h.6v.6h-.6zM92.6 249.1h.6v.6h-.6zM87.6 244.9h.6v.6h-.6zM85.7 247.4h.6v.6h-.6zM90.7 253.6h.6v.6h-.6zM91.8 264.9h.6v.6h-.6zM86.7 250.0h.6v.6h-.6zM100.8 236.5h.6v.6h-.6zM87.4 251.1h.6v.6h-.6zM90.1 252.8h.6v.6h-.6zM88.6 252.5h.6v.6h-.6zM89.7 255.4h.6v.6h-.6zM81.9 243.6h.6v.6h-.6zM89.5 242.5h.6v.6h-.6zM85.3 254.4h.6v.6h-.6zM86.9 254.4h.6v.6h-.6zM92.5 252.1h.6v.6h-.6zM91.6 249.1h.6v.6h-.6zM83.8 249.7h.6v.6h-.6zM91.3 246.1h.6v.6h-.6zM89.1 255.2h.6v.6h-.6zM86.0 254.5h.6v.6h-.6zM97.0 245.9h.6v.6h-.6zM90.1 248.8h.6v.6h-.6zM95.7 252.1h.6v.6h-.6zM93.1 245.0h.6v.6h-.6zM89.5 249.8h.6v.6h-.6zM82.4 260.2h.6v.6h-.6zM93.1 237.4h.6v.6h-.6zM92.5 248.9h.6v.6h-.6zM91.3 252.5h.6v.6h-.6zM83.5 248.4h.6v.6h-.6zM95.5 245.8h.6v.6h-.6zM85.4 240.2h.6v.6h-.6zM84.6 252.3h.6v.6h-.6zM96.3 253.0h.6v.6h-.6zM90.5 265.8h.6v.6h-.6zM87.4 245.1h.6v.6h-.6zM91.6 253.8h.6v.6h-.6zM85.4 241.5h.6v.6h-.6zM90.7 251.7h.6v.6h-.6zM84.2 248.4h.6v.6h-.6zM87.3 253.2h.6v.6h-.6zM89.0 249.3h.6v.6h-.6zM88.1 257.4h.6v.6h-.6zM95.1 247.3h.6v.6h-.6zM92.9 244.5h.6v.6h-.6zM89.8 255.2h.6v.6h-.6zM95.6 247.2h.6v.6h-.6zM89.2 251.3h.6v.6h-.6zM83.5 250.0h.6v.6h-.6zM86.8 252.5h.6v.6h-.6zM85.0 235.8h.6v.6h-.6zM89.7 251.7h.6v.6h-.6zM87.3 256.2h.6v.6h-.6zM88.4 245.6h.6v.6h-.6zM91.4 238.7h.6v.6h-.6zM86.8 249.7h.6v.6h-.6zM92.9 248.7h.6v.6h-.6zM90.8 245.2h.6v.6h-.6zM90.7 261.8h.6v.6h-.6zM86.7 266.8h.6v.6h-.6zM86.9 250.0h.6v.6h-.6zM90.2 257.2h.6v.6h-.6zM84.5 234.9h.6v.6h-.6zM92.0 255.6h.6v.6h-.6zM92.0 268.7h.6v.6h-.6zM90.3 251.7h.6v.6h-.6zM93.3 252.5h.6v.6h-.6zM96.2 241.0h.6v.6h-.6zM88.0 225.3h.6v.6h-.6zM92.8 247.2h.6v.6h-.6zM93.2 265.3h.6v.6h-.6zM89.5 248.1h.6v.6h-.6zM87.5 243.9h.6v.6h-.6zM87.0 254.5h.6v.6h-.6zM89.7 250.4h.6v.6h-.6zM88.8 256.4h.6v.6h-.6zM91.5 248.9h.6v.6h-.6zM92.2 248.8h.6v.6h-.6zM84.9 260.3h.6v.6h-.6zM91.4 243.0h.6v.6h-.6zM93.9 252.3h.6v.6h-.6zM83.2 261.4h.6v.6h-.6zM90.9 256.3h.6v.6h-.6zM90.3 248.8h.6v.6h-.6zM83.3 256.8h.6v.6h-.6zM89.6 247.8h.6v.6h-.6zM90.9 250.4h.6v.6h-.6zM92.2 247.2h.6v.6h-.6zM89.4 234.6h.6v.6h-.6zM87.8 254.7h.6v.6h-.6zM94.9 247.3h.6v.6h-.6zM89.0 261.2h.6v.6h-.6zM88.2 255.1h.6v.6h-.6zM96.3 250.2h.6v.6h-.6zM94.5 244.8h.6v.6h-.6zM90.4 249.3h.6v.6h-.6zM90.0 258.0h.6v.6h-.6zM99.1 245.1h.6v.6h-.6zM87.2 253.4h.6v.6h-.6zM85.3 253.4h.6v.6h-.6zM91.8 247.9h.6v.6h-.6zM91.7 238.8h.6v.6h-.6zM92.6 238.8h.6v.6h-.6zM86.7 245.9h.6v.6h-.6zM87.9 256.0h.6v.6h-.6zM89.8 247.0h.6v.6h-.6zM91.7 261.2h.6v.6h-.6zM89.5 252.5h.6v.6h-.6zM94.5 251.8h.6v.6h-.6zM84.3 267.7h.6v.6h-.6zM98.4 235.7h.6v.6h-.6zM89.4 252.9h.6v.6h-.6zM93.4 254.7h.6v.6h-.6zM88.4 242.4h.6v.6h-.6zM89.9 257.3h.6v.6h-.6zM85.1 242.5h.6v.6h-.6zM89.4 236.0h.6v.6h-.6zM88.5 246.8h.6v.6h-.6zM91.3 244.9h.6v.6h-.6zM86.0 247.1h.6v.6h-.6zM89.3 245.1h.6v.6h-.6zM89.6 255.2h.6v.6h-.6zM94.3 262.1h.6v.6h-.6zM86.4 246.9h.6v.6h-.6zM79.5 263.5h.6v.6h-.6zM86.6 249.6h.6v.6h-.6zM91.6 240.2h.6v.6h-.6zM91.4 249.7h.6v.6h-.6zM82.2 252.0h.6v.6h-.6zM94.3 236.5h.6v.6h-.6zM92.8 251.4h.6v.6h-.6zM91.4 253.0h.6v.6h-.6zM94.8 248.3h.6v.6h-.6zM93.0 247.0h.6v.6h-.6zM92.4 244.1h.6v.6h-.6zM89.1 262.3h.6v.6h-.6zM91.3 248.8h.6v.6h-.6zM84.9 244.2h.6v.6h-.6zM90.3 256.6h.6v.6h-.6zM91.2 253.6h.6v.6h-.6zM89.3 259.5h.6v.6h-.6zM87.9 246.0h.6v.6h-.6zM93.1 250.3h.6v.6h-.6zM88.4 245.8h.6v.6h-.6zM88.5 254.3h.6v.6h-.6zM90.9 241.2h.6v.6h-.6zM91.2 251.2h.6v.6h-.6zM85.5 255.4h.6v.6h-.6zM88.4 247.5h.6v.6h-.6zM92.7 259.3h.6v.6h-.6zM86.7 253.0h.6v.6h-.6zM86.0 266.4h.6v.6h-.6z"/>
<path fill="#a0a8ff" d="M80.7 253.0h.6v.6h-.6zM79.5 249.2h.6v.6h-.6zM102.6 215.9h.6v.6h-.6zM81.2 246.1h.6v.6h-.6zM83.9 234.5h.6v.6h-.6zM102.0 241.9h.6v.6h-.6zM71.4 249.6h.6v.6h-.6zM70.8 252.6h.6v.6h-.6zM80.0 242.6h.6v.6h-.6zM94.8 242.3h.6v.6h-.6zM73.5 224.3h.6v.6h-.6zM94.2 248.5h.6v.6h-.6zM78.1 249.7h.6v.6h-.6zM88.7 247.6h.6v.6h-.6zM66.5 238.2h.6v.6h-.6zM91.9 248.4h.6v.6h-.6zM91.8 216.8h.6v.6h-.6zM86.0 246.0h.6v.6h-.6zM105.2 231.7h.6v.6h-.6zM82.0 241.5h.6v.6h-.6zM91.8 236.7h.6v.6h-.6zM93.9 233.3h.6v.6h-.6zM86.8 235.9h.6v.6h-.6zM86.0 234.3h.6v.6h-.6zM71.8 252.0h.6v.6h-.6zM87.1 235.6h.6v.6h-.6zM86.3 251.0h.6v.6h-.6zM76.8 240.1h.6v.6h-.6zM89.0 246.4h.6v.6h-.6zM82.0 220.2h.6v.6h-.6zM94.7 244.4h.6v.6h-.6zM84.8 238.4h.6v.6h-.6zM86.8 236.9h.6v.6h-.6zM76.4 233.8h.6v.6h-.6zM79.9 235.1h.6v.6h-.6zM75.3 247.5h.6v.6h-.6zM74.1 247.7h.6v.6h-.6zM76.5 244.6h.6v.6h-.6zM95.8 243.2h.6v.6h-.6zM78.8 241.6h.6v.6h-.6zM85.9 223.9h.6v.6h-.6zM79.8 242.8h.6v.6h-.6zM80.9 241.9h.6v.6h-.6zM90.6 248.8h.6v.6h-.6zM92.0 247.0h.6v.6h-.6zM82.4 241.0h.6v.6h-.6zM82.5 238.0h.6v.6h-.6zM83.2 224.0h.6v.6h-.6zM82.0 240.9h.6v.6h-.6zM76.8 240.9h.6v.6h-.6zM88.8 239.5h.6v.6h-.6zM101.4 215.3h.6v.6h-.6zM83.0 223.0h.6v.6h-.6zM92.6 267.5h.6v.6h-.6zM64.5 242.4h.6v.6h-.6zM88.9 238.1h.6v.6h-.6zM89.1 218.9h.6v.6h-.6zM91.5 244.8h.6v.6h-.6zM84.9 235.3h.6v.6h-.6zM89.8 236.3h.6v.6h-.6z"/>
<g filter="url(#bl08)">
<ellipse cx="91.1" cy="233.2" rx="8.1" ry="3.6" fill="#1818ff"/>
<ellipse cx="92.7" cy="228.8" rx="8.1" ry="6.7" fill="#1818ff"/>
<ellipse cx="89.9" cy="241.9" rx="6.0" ry="7.1" fill="#1818ff" opacity="0.75"/>
<ellipse cx="88.7" cy="252.3" rx="4.8" ry="7.9" fill="#1818ff" opacity="0.4"/>
<ellipse cx="92.7" cy="228.8" rx="6.8" ry="5.7" fill="#0048ff"/>
<ellipse cx="92.7" cy="228.8" rx="5.6" ry="4.7" fill="#00c8ff"/>
<ellipse cx="92.7" cy="228.8" rx="4.4" ry="3.7" fill="#18e040"/>
<ellipse cx="92.7" cy="228.8" rx="3.2" ry="2.7" fill="#d0f000"/>
<ellipse cx="92.7" cy="228.8" rx="2.1" ry="1.8" fill="#ff9000"/>
<ellipse cx="92.7" cy="228.8" rx="1.1" ry="0.9" fill="#ff0800"/>
</g></g>
<polyline points="60.5,236.2 100.8,236.2" fill="none" stroke="#b05aa0" stroke-width="0.8"/>
<polyline points="79.0,221.3 79.0,236.2" fill="none" stroke="#b05aa0" stroke-width="0.8"/>
<text x="62.1" y="246.7" font-size="6.8" fill="#b05aa0" stroke="#b05aa0" stroke-width="0.18" >0</text>
<text x="99.6" y="246.7" font-size="6.8" text-anchor="end" fill="#b05aa0" stroke="#b05aa0" stroke-width="0.18" >98</text>
<rect x="60.5" y="221.3" width="40.3" height="39.69999999999999" fill="none" stroke="#111" stroke-width="1"/>
<path d="M57.3 257.2H60.5M57.3 251.9H60.5M58.5 249.1H60.5M58.5 247.5H60.5M58.5 246.4H60.5M58.5 245.5H60.5M58.5 244.8H60.5M58.5 244.2H60.5M58.5 243.6H60.5M58.5 243.2H60.5M57.3 242.7H60.5M58.5 239.9H60.5M58.5 238.2H60.5M58.5 237.0H60.5M58.5 236.1H60.5M58.5 235.3H60.5M58.5 234.7H60.5M58.5 234.1H60.5M58.5 233.6H60.5M57.3 233.2H60.5M58.5 230.5H60.5M58.5 228.9H60.5M58.5 227.7H60.5M58.5 226.8H60.5M58.5 226.1H60.5M58.5 225.5H60.5M58.5 225.0H60.5M58.5 224.5H60.5M57.3 224.1H60.5M58.5 255.9H60.5M58.5 254.5H60.5M58.5 253.2H60.5M64.1 261V264.2M68.6 261V264.2M71.5 261V263.0M73.2 261V263.0M74.4 261V263.0M75.3 261V263.0M76.1 261V263.0M76.7 261V263.0M77.3 261V263.0M77.8 261V263.0M78.2 261V264.2M81.0 261V263.0M82.7 261V263.0M83.8 261V263.0M84.7 261V263.0M85.4 261V263.0M86.1 261V263.0M86.6 261V263.0M87.1 261V263.0M87.5 261V264.2M90.3 261V263.0M91.9 261V263.0M93.1 261V263.0M94.0 261V263.0M94.7 261V263.0M95.3 261V263.0M95.9 261V263.0M96.3 261V263.0M96.8 261V264.2M65.2 261V263.0M66.3 261V263.0M67.5 261V263.0" stroke="#111" stroke-width="0.75"/>
<text x="56.0" y="258.8" font-size="4.6" text-anchor="end" fill="#444" >0</text>
<text x="56.0" y="253.5" font-size="4.6" text-anchor="end" fill="#444" >10<tspan font-size="2.8" dy="-2">2</tspan></text>
<text x="56.0" y="244.3" font-size="4.6" text-anchor="end" fill="#444" >10<tspan font-size="2.8" dy="-2">3</tspan></text>
<text x="56.0" y="234.8" font-size="4.6" text-anchor="end" fill="#444" >10<tspan font-size="2.8" dy="-2">4</tspan></text>
<text x="56.0" y="225.7" font-size="4.6" text-anchor="end" fill="#444" >10<tspan font-size="2.8" dy="-2">5</tspan></text>
<text x="64.1" y="269.4" font-size="4.6" text-anchor="middle" fill="#444" >0</text>
<text x="69.4" y="269.4" font-size="4.6" text-anchor="middle" fill="#444" >10<tspan font-size="2.8" dy="-2">2</tspan></text>
<text x="79.0" y="269.4" font-size="4.6" text-anchor="middle" fill="#444" >10<tspan font-size="2.8" dy="-2">3</tspan></text>
<text x="88.3" y="269.4" font-size="4.6" text-anchor="middle" fill="#444" >10<tspan font-size="2.8" dy="-2">4</tspan></text>
<text x="97.6" y="269.4" font-size="4.6" text-anchor="middle" fill="#444" >10<tspan font-size="2.8" dy="-2">5</tspan></text>
<clipPath id="c106_221"><rect x="106.5" y="221.3" width="40.400000000000006" height="39.69999999999999"/></clipPath>
<g clip-path="url(#c106_221)">
<path fill="#6070ff" d="M132.1 245.8h.6v.6h-.6zM117.1 249.6h.6v.6h-.6zM132.0 255.9h.6v.6h-.6zM125.4 249.6h.6v.6h-.6zM134.5 251.0h.6v.6h-.6zM138.3 265.7h.6v.6h-.6zM125.2 234.6h.6v.6h-.6zM135.9 262.0h.6v.6h-.6zM136.3 256.3h.6v.6h-.6zM127.0 244.2h.6v.6h-.6zM136.1 242.6h.6v.6h-.6zM119.8 242.0h.6v.6h-.6zM145.8 265.2h.6v.6h-.6zM126.6 244.1h.6v.6h-.6zM132.1 243.9h.6v.6h-.6zM138.7 249.3h.6v.6h-.6zM124.2 260.3h.6v.6h-.6zM127.2 251.6h.6v.6h-.6zM130.7 247.4h.6v.6h-.6zM132.7 244.4h.6v.6h-.6zM119.6 232.4h.6v.6h-.6zM123.1 243.9h.6v.6h-.6zM130.6 250.3h.6v.6h-.6zM134.1 250.8h.6v.6h-.6zM125.9 244.3h.6v.6h-.6zM117.9 248.5h.6v.6h-.6zM133.7 254.1h.6v.6h-.6zM130.0 248.5h.6v.6h-.6zM136.4 250.0h.6v.6h-.6zM135.2 254.5h.6v.6h-.6zM132.0 260.3h.6v.6h-.6zM127.3 247.0h.6v.6h-.6zM125.8 243.6h.6v.6h-.6zM140.2 263.9h.6v.6h-.6zM130.9 254.4h.6v.6h-.6zM137.9 256.3h.6v.6h-.6zM138.0 239.9h.6v.6h-.6zM126.9 253.5h.6v.6h-.6zM139.4 250.7h.6v.6h-.6zM125.5 247.1h.6v.6h-.6zM126.7 243.1h.6v.6h-.6zM139.8 244.9h.6v.6h-.6zM130.9 267.1h.6v.6h-.6zM137.9 252.6h.6v.6h-.6zM127.0 253.1h.6v.6h-.6zM140.6 254.8h.6v.6h-.6zM138.4 250.7h.6v.6h-.6zM133.9 248.3h.6v.6h-.6zM133.3 260.2h.6v.6h-.6zM122.1 249.4h.6v.6h-.6zM132.2 245.3h.6v.6h-.6zM128.9 256.1h.6v.6h-.6zM142.9 254.9h.6v.6h-.6zM132.7 237.6h.6v.6h-.6zM142.4 250.5h.6v.6h-.6zM130.5 241.0h.6v.6h-.6zM130.4 241.2h.6v.6h-.6zM131.2 253.6h.6v.6h-.6zM130.9 252.1h.6v.6h-.6zM125.6 261.2h.6v.6h-.6zM126.8 235.4h.6v.6h-.6zM129.6 243.8h.6v.6h-.6zM124.6 247.1h.6v.6h-.6zM132.5 240.5h.6v.6h-.6zM129.9 261.2h.6v.6h-.6zM134.9 248.7h.6v.6h-.6zM131.5 248.9h.6v.6h-.6zM130.5 255.7h.6v.6h-.6zM130.2 230.8h.6v.6h-.6zM130.6 242.8h.6v.6h-.6zM134.7 245.0h.6v.6h-.6zM131.6 267.2h.6v.6h-.6zM124.4 241.0h.6v.6h-.6zM122.2 230.9h.6v.6h-.6zM119.4 252.8h.6v.6h-.6zM126.9 235.1h.6v.6h-.6zM121.8 254.8h.6v.6h-.6zM126.0 247.0h.6v.6h-.6zM132.7 260.7h.6v.6h-.6zM142.5 258.1h.6v.6h-.6zM131.6 251.3h.6v.6h-.6zM141.7 261.2h.6v.6h-.6zM128.9 253.5h.6v.6h-.6zM132.5 250.3h.6v.6h-.6zM127.7 239.4h.6v.6h-.6zM127.5 237.6h.6v.6h-.6zM138.2 254.1h.6v.6h-.6zM123.4 261.0h.6v.6h-.6zM136.1 234.7h.6v.6h-.6zM141.9 256.3h.6v.6h-.6zM143.2 240.1h.6v.6h-.6zM134.0 253.2h.6v.6h-.6zM132.0 251.2h.6v.6h-.6zM137.1 238.0h.6v.6h-.6zM123.2 238.8h.6v.6h-.6zM127.4 245.1h.6v.6h-.6zM133.0 252.0h.6v.6h-.6zM130.9 244.5h.6v.6h-.6zM128.1 257.4h.6v.6h-.6zM135.4 250.7h.6v.6h-.6zM128.8 262.2h.6v.6h-.6zM127.1 255.0h.6v.6h-.6zM137.7 247.8h.6v.6h-.6zM135.7 241.0h.6v.6h-.6zM136.9 251.5h.6v.6h-.6zM121.1 255.2h.6v.6h-.6zM125.3 260.1h.6v.6h-.6zM126.6 248.6h.6v.6h-.6zM132.5 247.2h.6v.6h-.6zM132.3 245.5h.6v.6h-.6zM134.8 249.9h.6v.6h-.6zM132.0 228.0h.6v.6h-.6zM137.8 250.1h.6v.6h-.6zM119.9 250.6h.6v.6h-.6zM133.6 258.4h.6v.6h-.6zM124.2 262.2h.6v.6h-.6zM129.8 268.9h.6v.6h-.6zM129.9 255.3h.6v.6h-.6zM128.5 241.0h.6v.6h-.6zM137.4 257.1h.6v.6h-.6zM140.1 256.7h.6v.6h-.6zM127.3 236.7h.6v.6h-.6zM126.8 244.5h.6v.6h-.6zM125.8 254.5h.6v.6h-.6zM132.7 247.7h.6v.6h-.6zM131.8 248.7h.6v.6h-.6zM132.0 255.9h.6v.6h-.6zM136.6 244.4h.6v.6h-.6zM121.6 261.2h.6v.6h-.6zM131.4 258.7h.6v.6h-.6zM120.8 247.3h.6v.6h-.6zM130.9 238.4h.6v.6h-.6zM127.6 255.6h.6v.6h-.6zM137.3 262.5h.6v.6h-.6zM125.5 238.8h.6v.6h-.6zM133.9 257.4h.6v.6h-.6zM131.9 239.6h.6v.6h-.6zM135.5 256.2h.6v.6h-.6zM134.1 246.0h.6v.6h-.6zM132.6 256.2h.6v.6h-.6zM127.4 235.2h.6v.6h-.6zM132.7 253.7h.6v.6h-.6zM130.8 256.9h.6v.6h-.6zM127.2 249.2h.6v.6h-.6zM128.9 254.4h.6v.6h-.6zM140.4 247.9h.6v.6h-.6zM143.2 262.0h.6v.6h-.6zM135.5 254.5h.6v.6h-.6zM141.5 248.5h.6v.6h-.6zM130.1 241.4h.6v.6h-.6zM133.6 260.6h.6v.6h-.6zM134.0 253.2h.6v.6h-.6zM129.5 251.2h.6v.6h-.6zM122.1 258.2h.6v.6h-.6zM128.3 241.1h.6v.6h-.6zM126.2 243.3h.6v.6h-.6zM135.9 258.3h.6v.6h-.6zM122.5 257.2h.6v.6h-.6zM136.1 245.3h.6v.6h-.6zM121.7 244.0h.6v.6h-.6zM126.9 252.6h.6v.6h-.6zM128.6 233.8h.6v.6h-.6zM132.2 237.7h.6v.6h-.6zM136.2 240.3h.6v.6h-.6zM126.5 243.1h.6v.6h-.6zM127.5 260.2h.6v.6h-.6zM135.9 254.7h.6v.6h-.6zM132.7 237.6h.6v.6h-.6zM127.6 245.5h.6v.6h-.6zM124.8 253.9h.6v.6h-.6zM126.2 244.2h.6v.6h-.6zM124.4 233.5h.6v.6h-.6zM134.3 260.5h.6v.6h-.6zM131.8 242.1h.6v.6h-.6zM114.3 251.3h.6v.6h-.6zM138.1 252.2h.6v.6h-.6zM136.4 261.6h.6v.6h-.6zM137.6 246.4h.6v.6h-.6zM137.1 256.0h.6v.6h-.6zM121.4 246.7h.6v.6h-.6zM122.1 249.0h.6v.6h-.6zM134.2 241.4h.6v.6h-.6zM118.3 260.2h.6v.6h-.6zM133.0 261.6h.6v.6h-.6zM122.7 258.3h.6v.6h-.6zM143.3 265.8h.6v.6h-.6zM129.5 252.0h.6v.6h-.6zM129.8 257.8h.6v.6h-.6zM137.0 250.6h.6v.6h-.6zM122.5 255.8h.6v.6h-.6zM127.9 254.9h.6v.6h-.6zM132.3 262.8h.6v.6h-.6zM137.6 246.3h.6v.6h-.6zM132.9 263.9h.6v.6h-.6zM127.5 253.3h.6v.6h-.6zM138.0 259.9h.6v.6h-.6zM133.9 239.4h.6v.6h-.6zM123.1 251.8h.6v.6h-.6zM133.1 270.1h.6v.6h-.6zM125.5 258.9h.6v.6h-.6zM135.4 236.6h.6v.6h-.6zM125.8 251.2h.6v.6h-.6zM127.7 248.7h.6v.6h-.6zM133.6 243.5h.6v.6h-.6zM133.6 244.8h.6v.6h-.6zM127.4 254.1h.6v.6h-.6zM127.3 252.2h.6v.6h-.6zM140.4 250.1h.6v.6h-.6zM129.9 255.7h.6v.6h-.6zM128.5 258.5h.6v.6h-.6zM123.0 254.8h.6v.6h-.6zM127.6 243.5h.6v.6h-.6zM141.5 243.1h.6v.6h-.6zM141.4 255.1h.6v.6h-.6zM139.5 242.1h.6v.6h-.6zM138.0 261.5h.6v.6h-.6zM130.0 248.9h.6v.6h-.6zM145.6 251.3h.6v.6h-.6zM128.2 244.9h.6v.6h-.6zM133.4 252.5h.6v.6h-.6z"/>
<path fill="#a0a8ff" d="M124.5 258.2h.6v.6h-.6zM119.3 245.8h.6v.6h-.6zM137.4 231.2h.6v.6h-.6zM133.2 259.3h.6v.6h-.6zM109.0 230.3h.6v.6h-.6zM112.2 222.8h.6v.6h-.6zM127.2 222.7h.6v.6h-.6zM127.7 255.6h.6v.6h-.6zM106.3 238.0h.6v.6h-.6zM103.3 248.9h.6v.6h-.6zM115.2 238.5h.6v.6h-.6zM123.2 246.6h.6v.6h-.6zM119.2 241.3h.6v.6h-.6zM117.1 242.3h.6v.6h-.6zM110.8 241.8h.6v.6h-.6zM103.1 236.3h.6v.6h-.6zM142.0 241.9h.6v.6h-.6zM109.9 243.7h.6v.6h-.6zM112.8 224.8h.6v.6h-.6zM115.2 248.5h.6v.6h-.6zM126.5 240.2h.6v.6h-.6zM113.3 230.4h.6v.6h-.6zM136.3 243.6h.6v.6h-.6zM113.0 220.2h.6v.6h-.6zM108.8 265.7h.6v.6h-.6zM111.1 240.4h.6v.6h-.6zM124.8 239.6h.6v.6h-.6zM119.8 227.5h.6v.6h-.6zM112.0 257.9h.6v.6h-.6zM115.0 249.5h.6v.6h-.6zM105.6 238.4h.6v.6h-.6zM125.3 251.4h.6v.6h-.6zM111.3 247.1h.6v.6h-.6zM126.6 233.8h.6v.6h-.6zM127.5 232.2h.6v.6h-.6zM114.6 241.0h.6v.6h-.6zM95.2 240.1h.6v.6h-.6zM112.6 226.6h.6v.6h-.6zM118.4 248.7h.6v.6h-.6zM118.6 253.7h.6v.6h-.6zM110.9 228.1h.6v.6h-.6zM138.3 245.1h.6v.6h-.6zM132.2 232.9h.6v.6h-.6zM130.8 243.7h.6v.6h-.6zM129.2 241.4h.6v.6h-.6zM134.8 234.7h.6v.6h-.6zM112.9 226.5h.6v.6h-.6zM134.4 233.8h.6v.6h-.6zM112.1 231.8h.6v.6h-.6zM118.2 228.5h.6v.6h-.6zM119.7 234.9h.6v.6h-.6zM117.1 231.6h.6v.6h-.6zM123.0 236.6h.6v.6h-.6zM123.8 243.6h.6v.6h-.6zM126.1 219.4h.6v.6h-.6zM117.2 233.3h.6v.6h-.6zM130.5 225.5h.6v.6h-.6zM115.4 238.2h.6v.6h-.6zM119.3 251.0h.6v.6h-.6zM118.2 250.7h.6v.6h-.6zM107.9 223.2h.6v.6h-.6zM135.0 245.5h.6v.6h-.6zM127.6 242.4h.6v.6h-.6zM127.6 229.1h.6v.6h-.6zM132.2 235.9h.6v.6h-.6zM132.6 242.0h.6v.6h-.6zM102.7 228.4h.6v.6h-.6zM134.0 239.8h.6v.6h-.6zM118.7 243.6h.6v.6h-.6zM118.4 235.7h.6v.6h-.6zM123.7 242.6h.6v.6h-.6zM138.0 241.6h.6v.6h-.6zM141.6 259.0h.6v.6h-.6zM140.0 251.7h.6v.6h-.6zM124.0 242.5h.6v.6h-.6zM121.2 233.9h.6v.6h-.6zM122.0 234.8h.6v.6h-.6zM139.2 246.5h.6v.6h-.6zM118.2 222.1h.6v.6h-.6zM122.1 237.0h.6v.6h-.6z"/>
<g filter="url(#bl08)">
<ellipse cx="133.2" cy="229.2" rx="11.3" ry="8.3" fill="#1818ff"/>
<ellipse cx="131.5" cy="237.2" rx="8.9" ry="5.2" fill="#1818ff"/>
<ellipse cx="130.7" cy="245.9" rx="6.1" ry="6.0" fill="#1818ff" opacity="0.6"/>
<ellipse cx="129.9" cy="253.9" rx="4.8" ry="7.1" fill="#1818ff" opacity="0.35"/>
<ellipse cx="118.6" cy="234.4" rx="5.7" ry="2.4" fill="#1818ff" opacity="0.45"/>
<ellipse cx="133.2" cy="229.2" rx="9.5" ry="7.0" fill="#0048ff"/>
<ellipse cx="133.2" cy="229.2" rx="7.8" ry="5.8" fill="#00c8ff"/>
<ellipse cx="133.2" cy="229.2" rx="6.2" ry="4.5" fill="#18e040"/>
<ellipse cx="133.2" cy="229.2" rx="4.5" ry="3.3" fill="#d0f000"/>
<ellipse cx="133.2" cy="229.2" rx="3.0" ry="2.2" fill="#ff9000"/>
<ellipse cx="133.2" cy="229.2" rx="1.6" ry="1.1" fill="#ff0800"/>
</g></g>
<polyline points="106.5,236.2 146.9,236.2" fill="none" stroke="#b05aa0" stroke-width="0.8"/>
<polyline points="124.6,221.3 124.6,236.2" fill="none" stroke="#b05aa0" stroke-width="0.8"/>
<text x="108.1" y="246.7" font-size="6.8" fill="#b05aa0" stroke="#b05aa0" stroke-width="0.18" >0.4</text>
<text x="145.7" y="246.7" font-size="6.8" text-anchor="end" fill="#b05aa0" stroke="#b05aa0" stroke-width="0.18" >97</text>
<rect x="106.5" y="221.3" width="40.400000000000006" height="39.69999999999999" fill="none" stroke="#111" stroke-width="1"/>
<path d="M103.3 257.2H106.5M103.3 251.9H106.5M104.5 249.1H106.5M104.5 247.5H106.5M104.5 246.4H106.5M104.5 245.5H106.5M104.5 244.8H106.5M104.5 244.2H106.5M104.5 243.6H106.5M104.5 243.2H106.5M103.3 242.7H106.5M104.5 239.9H106.5M104.5 238.2H106.5M104.5 237.0H106.5M104.5 236.1H106.5M104.5 235.3H106.5M104.5 234.7H106.5M104.5 234.1H106.5M104.5 233.6H106.5M103.3 233.2H106.5M104.5 230.5H106.5M104.5 228.9H106.5M104.5 227.7H106.5M104.5 226.8H106.5M104.5 226.1H106.5M104.5 225.5H106.5M104.5 225.0H106.5M104.5 224.5H106.5M103.3 224.1H106.5M104.5 255.9H106.5M104.5 254.5H106.5M104.5 253.2H106.5M110.1 261V264.2M114.6 261V264.2M117.5 261V263.0M119.2 261V263.0M120.4 261V263.0M121.4 261V263.0M122.1 261V263.0M122.8 261V263.0M123.3 261V263.0M123.8 261V263.0M124.3 261V264.2M127.1 261V263.0M128.7 261V263.0M129.9 261V263.0M130.8 261V263.0M131.5 261V263.0M132.1 261V263.0M132.7 261V263.0M133.1 261V263.0M133.6 261V264.2M136.4 261V263.0M138.0 261V263.0M139.2 261V263.0M140.1 261V263.0M140.8 261V263.0M141.4 261V263.0M142.0 261V263.0M142.4 261V263.0M142.9 261V264.2M111.2 261V263.0M112.4 261V263.0M113.5 261V263.0" stroke="#111" stroke-width="0.75"/>
<clipPath id="c60_280"><rect x="60.8" y="280.1" width="40.8" height="40.89999999999998"/></clipPath>
<g clip-path="url(#c60_280)">
<path fill="#6070ff" d="M77.9 300.3h.6v.6h-.6zM72.2 314.2h.6v.6h-.6zM82.9 330.7h.6v.6h-.6zM83.1 308.3h.6v.6h-.6zM90.3 310.6h.6v.6h-.6zM84.1 306.5h.6v.6h-.6zM80.3 321.8h.6v.6h-.6zM88.1 323.6h.6v.6h-.6zM81.5 309.8h.6v.6h-.6zM78.9 317.5h.6v.6h-.6zM76.4 314.2h.6v.6h-.6zM88.6 321.1h.6v.6h-.6zM78.6 318.5h.6v.6h-.6zM79.7 303.4h.6v.6h-.6zM76.8 319.0h.6v.6h-.6zM91.3 304.7h.6v.6h-.6zM79.5 306.8h.6v.6h-.6zM95.5 317.8h.6v.6h-.6zM80.6 294.9h.6v.6h-.6zM79.9 319.3h.6v.6h-.6zM92.4 307.4h.6v.6h-.6zM79.9 305.4h.6v.6h-.6zM74.0 317.0h.6v.6h-.6zM77.9 318.2h.6v.6h-.6zM74.9 299.2h.6v.6h-.6zM84.7 303.3h.6v.6h-.6zM87.1 309.6h.6v.6h-.6zM77.5 314.6h.6v.6h-.6zM87.4 293.9h.6v.6h-.6zM92.2 313.6h.6v.6h-.6zM87.0 294.3h.6v.6h-.6zM79.7 306.7h.6v.6h-.6zM88.5 297.6h.6v.6h-.6zM78.9 292.9h.6v.6h-.6zM82.1 312.4h.6v.6h-.6zM75.0 304.7h.6v.6h-.6zM85.7 322.5h.6v.6h-.6zM86.5 307.1h.6v.6h-.6zM77.5 301.9h.6v.6h-.6zM80.0 310.8h.6v.6h-.6zM83.0 323.2h.6v.6h-.6zM84.6 300.8h.6v.6h-.6zM90.8 317.3h.6v.6h-.6zM83.7 303.6h.6v.6h-.6zM74.1 301.2h.6v.6h-.6zM87.7 303.0h.6v.6h-.6zM76.8 311.1h.6v.6h-.6zM84.4 314.5h.6v.6h-.6zM86.4 321.1h.6v.6h-.6zM79.1 317.6h.6v.6h-.6zM78.4 315.2h.6v.6h-.6zM84.1 311.5h.6v.6h-.6zM88.0 309.4h.6v.6h-.6zM88.7 316.7h.6v.6h-.6zM83.9 304.9h.6v.6h-.6zM79.6 305.2h.6v.6h-.6zM82.2 309.3h.6v.6h-.6zM97.8 314.8h.6v.6h-.6zM87.0 302.5h.6v.6h-.6zM79.8 306.9h.6v.6h-.6zM84.2 301.1h.6v.6h-.6zM91.1 304.9h.6v.6h-.6zM88.5 290.4h.6v.6h-.6zM83.2 311.8h.6v.6h-.6zM84.2 314.5h.6v.6h-.6zM84.6 310.9h.6v.6h-.6zM74.0 303.7h.6v.6h-.6zM71.8 314.7h.6v.6h-.6zM84.7 308.0h.6v.6h-.6zM79.2 304.8h.6v.6h-.6zM92.3 323.7h.6v.6h-.6zM83.0 320.1h.6v.6h-.6zM75.5 293.7h.6v.6h-.6zM80.9 302.4h.6v.6h-.6zM80.5 311.1h.6v.6h-.6zM98.0 304.1h.6v.6h-.6zM83.5 311.8h.6v.6h-.6zM83.1 317.2h.6v.6h-.6zM91.9 299.4h.6v.6h-.6zM84.0 307.4h.6v.6h-.6zM85.0 297.0h.6v.6h-.6zM74.6 290.6h.6v.6h-.6zM85.8 311.1h.6v.6h-.6zM83.6 290.2h.6v.6h-.6zM81.4 303.4h.6v.6h-.6zM76.3 302.1h.6v.6h-.6zM86.7 314.0h.6v.6h-.6zM83.1 313.8h.6v.6h-.6zM80.3 310.1h.6v.6h-.6zM83.4 314.1h.6v.6h-.6zM82.9 308.4h.6v.6h-.6zM82.6 304.3h.6v.6h-.6zM94.2 313.8h.6v.6h-.6zM85.3 328.3h.6v.6h-.6zM90.1 296.8h.6v.6h-.6zM86.6 316.4h.6v.6h-.6zM92.5 320.3h.6v.6h-.6zM87.0 299.9h.6v.6h-.6zM79.0 311.7h.6v.6h-.6zM85.7 301.2h.6v.6h-.6zM81.4 306.3h.6v.6h-.6zM83.5 312.3h.6v.6h-.6zM81.8 299.4h.6v.6h-.6zM89.3 322.6h.6v.6h-.6zM82.7 317.9h.6v.6h-.6zM85.4 314.9h.6v.6h-.6zM85.6 303.3h.6v.6h-.6zM86.0 317.8h.6v.6h-.6zM78.9 325.6h.6v.6h-.6zM93.5 324.5h.6v.6h-.6zM93.0 315.6h.6v.6h-.6zM81.6 304.6h.6v.6h-.6zM79.3 310.5h.6v.6h-.6zM83.1 315.0h.6v.6h-.6zM73.4 328.5h.6v.6h-.6zM94.4 309.3h.6v.6h-.6zM86.6 313.4h.6v.6h-.6zM84.6 307.8h.6v.6h-.6zM82.6 302.8h.6v.6h-.6zM84.1 309.4h.6v.6h-.6zM84.8 302.6h.6v.6h-.6zM83.4 309.9h.6v.6h-.6zM86.2 300.9h.6v.6h-.6zM85.3 317.6h.6v.6h-.6zM86.2 306.5h.6v.6h-.6zM80.8 307.6h.6v.6h-.6zM86.8 322.3h.6v.6h-.6zM82.5 304.3h.6v.6h-.6zM85.1 311.2h.6v.6h-.6zM78.8 303.5h.6v.6h-.6zM82.7 315.0h.6v.6h-.6zM77.4 301.2h.6v.6h-.6zM85.7 299.5h.6v.6h-.6zM83.8 312.4h.6v.6h-.6zM82.7 301.2h.6v.6h-.6zM82.9 306.8h.6v.6h-.6zM84.9 302.7h.6v.6h-.6zM88.6 295.8h.6v.6h-.6zM82.4 309.6h.6v.6h-.6zM87.9 304.6h.6v.6h-.6zM85.9 304.9h.6v.6h-.6zM86.9 323.8h.6v.6h-.6zM81.3 313.2h.6v.6h-.6zM78.7 317.5h.6v.6h-.6zM89.2 309.8h.6v.6h-.6zM77.7 312.8h.6v.6h-.6zM88.9 318.5h.6v.6h-.6zM87.2 294.6h.6v.6h-.6zM79.9 321.2h.6v.6h-.6zM77.2 318.8h.6v.6h-.6zM92.5 315.8h.6v.6h-.6zM88.7 306.8h.6v.6h-.6zM77.2 308.7h.6v.6h-.6zM82.3 309.2h.6v.6h-.6zM86.7 308.4h.6v.6h-.6zM84.2 313.0h.6v.6h-.6zM83.2 324.6h.6v.6h-.6zM85.4 310.2h.6v.6h-.6zM82.2 304.4h.6v.6h-.6zM89.8 310.8h.6v.6h-.6zM78.0 304.9h.6v.6h-.6zM82.6 305.9h.6v.6h-.6zM88.5 300.0h.6v.6h-.6zM85.6 310.7h.6v.6h-.6zM77.5 309.9h.6v.6h-.6zM82.8 313.6h.6v.6h-.6zM81.0 312.0h.6v.6h-.6zM75.1 300.7h.6v.6h-.6zM87.1 318.1h.6v.6h-.6zM83.2 304.6h.6v.6h-.6zM88.5 292.4h.6v.6h-.6zM79.3 315.0h.6v.6h-.6zM86.4 301.1h.6v.6h-.6zM74.0 321.4h.6v.6h-.6zM84.0 302.2h.6v.6h-.6zM83.5 316.9h.6v.6h-.6zM70.6 318.6h.6v.6h-.6zM86.9 292.5h.6v.6h-.6zM87.0 295.0h.6v.6h-.6zM88.8 312.8h.6v.6h-.6zM94.3 304.6h.6v.6h-.6zM83.3 318.1h.6v.6h-.6zM80.1 303.8h.6v.6h-.6zM81.4 309.0h.6v.6h-.6zM77.9 313.5h.6v.6h-.6zM85.9 310.1h.6v.6h-.6zM91.6 306.9h.6v.6h-.6zM89.6 305.1h.6v.6h-.6zM86.9 293.7h.6v.6h-.6zM84.2 308.1h.6v.6h-.6zM80.8 304.6h.6v.6h-.6zM81.5 303.7h.6v.6h-.6zM72.5 304.7h.6v.6h-.6zM80.5 305.3h.6v.6h-.6zM78.1 308.4h.6v.6h-.6zM87.1 307.5h.6v.6h-.6zM80.8 320.7h.6v.6h-.6zM88.0 317.1h.6v.6h-.6zM88.9 306.9h.6v.6h-.6zM82.6 318.7h.6v.6h-.6zM80.5 308.6h.6v.6h-.6zM85.1 312.6h.6v.6h-.6zM81.9 317.6h.6v.6h-.6zM82.4 315.5h.6v.6h-.6zM88.5 314.9h.6v.6h-.6zM86.8 300.1h.6v.6h-.6zM76.8 304.5h.6v.6h-.6zM85.6 321.8h.6v.6h-.6zM77.3 312.1h.6v.6h-.6zM79.1 303.6h.6v.6h-.6zM81.9 315.2h.6v.6h-.6zM84.3 319.2h.6v.6h-.6zM78.4 316.8h.6v.6h-.6zM87.8 310.1h.6v.6h-.6zM85.6 304.9h.6v.6h-.6zM77.9 306.2h.6v.6h-.6zM80.1 333.2h.6v.6h-.6zM80.9 323.0h.6v.6h-.6zM84.2 312.1h.6v.6h-.6zM86.9 303.2h.6v.6h-.6z"/>
<path fill="#6070ff" d="M79.1 287.8h.6v.6h-.6zM54.3 288.3h.6v.6h-.6zM75.4 288.0h.6v.6h-.6zM85.9 286.2h.6v.6h-.6zM75.0 288.6h.6v.6h-.6zM60.6 289.5h.6v.6h-.6zM55.0 284.4h.6v.6h-.6zM75.1 284.8h.6v.6h-.6zM68.6 283.7h.6v.6h-.6zM70.5 284.7h.6v.6h-.6zM73.3 283.9h.6v.6h-.6zM74.4 286.5h.6v.6h-.6zM70.4 286.9h.6v.6h-.6zM71.1 284.4h.6v.6h-.6zM43.6 287.1h.6v.6h-.6zM60.2 286.1h.6v.6h-.6zM74.1 283.0h.6v.6h-.6zM62.0 285.8h.6v.6h-.6zM59.0 287.7h.6v.6h-.6zM68.3 285.4h.6v.6h-.6zM59.7 288.7h.6v.6h-.6zM63.0 288.2h.6v.6h-.6zM74.4 283.2h.6v.6h-.6zM58.7 287.1h.6v.6h-.6zM73.3 288.6h.6v.6h-.6zM78.0 289.2h.6v.6h-.6zM66.0 286.6h.6v.6h-.6zM77.7 286.2h.6v.6h-.6zM80.6 283.8h.6v.6h-.6zM76.4 286.7h.6v.6h-.6zM49.7 289.1h.6v.6h-.6zM72.9 287.1h.6v.6h-.6zM58.8 286.1h.6v.6h-.6zM85.2 285.4h.6v.6h-.6zM34.4 285.3h.6v.6h-.6zM57.5 286.8h.6v.6h-.6zM65.8 285.2h.6v.6h-.6zM61.2 289.2h.6v.6h-.6zM55.1 291.1h.6v.6h-.6zM64.2 284.8h.6v.6h-.6zM77.8 288.2h.6v.6h-.6zM59.1 288.6h.6v.6h-.6zM51.0 285.2h.6v.6h-.6zM81.3 286.5h.6v.6h-.6zM56.5 288.1h.6v.6h-.6zM79.1 287.0h.6v.6h-.6zM51.3 286.3h.6v.6h-.6zM74.0 288.6h.6v.6h-.6zM88.7 286.5h.6v.6h-.6zM64.9 287.0h.6v.6h-.6zM82.1 285.1h.6v.6h-.6zM83.1 281.4h.6v.6h-.6zM77.9 285.7h.6v.6h-.6zM74.5 288.5h.6v.6h-.6zM57.7 286.9h.6v.6h-.6zM72.2 288.3h.6v.6h-.6zM60.3 285.0h.6v.6h-.6zM50.2 292.2h.6v.6h-.6zM67.8 286.6h.6v.6h-.6zM54.5 289.0h.6v.6h-.6zM64.3 290.0h.6v.6h-.6zM78.5 287.1h.6v.6h-.6zM77.2 284.8h.6v.6h-.6zM66.5 285.9h.6v.6h-.6zM56.8 287.1h.6v.6h-.6zM68.3 290.0h.6v.6h-.6zM35.6 285.7h.6v.6h-.6zM60.4 286.1h.6v.6h-.6zM74.1 287.9h.6v.6h-.6zM70.1 286.1h.6v.6h-.6zM74.8 287.8h.6v.6h-.6zM51.0 286.5h.6v.6h-.6zM55.8 284.6h.6v.6h-.6zM71.3 287.2h.6v.6h-.6zM70.9 285.3h.6v.6h-.6zM67.7 285.2h.6v.6h-.6zM73.7 288.5h.6v.6h-.6zM87.7 289.6h.6v.6h-.6zM61.6 286.1h.6v.6h-.6zM60.2 287.7h.6v.6h-.6zM90.0 288.5h.6v.6h-.6zM47.3 284.5h.6v.6h-.6zM56.6 288.1h.6v.6h-.6zM69.8 287.7h.6v.6h-.6zM87.9 285.4h.6v.6h-.6zM61.1 291.1h.6v.6h-.6zM73.3 285.5h.6v.6h-.6zM49.1 283.9h.6v.6h-.6zM44.8 287.2h.6v.6h-.6zM70.2 289.1h.6v.6h-.6zM68.4 285.6h.6v.6h-.6zM62.2 290.9h.6v.6h-.6zM51.8 287.4h.6v.6h-.6zM70.0 288.3h.6v.6h-.6zM65.6 288.1h.6v.6h-.6zM78.1 286.8h.6v.6h-.6zM65.1 286.7h.6v.6h-.6zM59.9 286.6h.6v.6h-.6zM66.7 287.5h.6v.6h-.6zM83.4 289.7h.6v.6h-.6z"/>
<g filter="url(#bl08)">
<ellipse cx="87.3" cy="289.1" rx="8.2" ry="8.2" fill="#1818ff"/>
<ellipse cx="72.2" cy="287.1" rx="12.2" ry="2.5" fill="#1818ff" opacity="0.55"/>
<ellipse cx="86.1" cy="297.3" rx="5.7" ry="5.7" fill="#1818ff"/>
<ellipse cx="84.1" cy="305.5" rx="4.5" ry="5.7" fill="#1818ff" opacity="0.7"/>
<ellipse cx="82.0" cy="314.9" rx="4.9" ry="6.5" fill="#1818ff" opacity="0.4"/>
<ellipse cx="87.3" cy="289.1" rx="6.9" ry="6.9" fill="#0048ff"/>
<ellipse cx="87.3" cy="289.1" rx="5.6" ry="5.7" fill="#00c8ff"/>
<ellipse cx="87.3" cy="289.1" rx="4.4" ry="4.5" fill="#18e040"/>
<ellipse cx="87.3" cy="289.1" rx="3.3" ry="3.3" fill="#d0f000"/>
<ellipse cx="87.3" cy="289.1" rx="2.2" ry="2.2" fill="#ff9000"/>
<ellipse cx="87.3" cy="289.1" rx="1.1" ry="1.1" fill="#ff0800"/>
</g></g>
<polyline points="60.8,295.2 101.6,295.2" fill="none" stroke="#b05aa0" stroke-width="0.8"/>
<polyline points="80.3,280.1 80.3,295.2" fill="none" stroke="#b05aa0" stroke-width="0.8"/>
<text x="63.2" y="304.6" font-size="6.8" fill="#b05aa0" stroke="#b05aa0" stroke-width="0.18" >1</text>
<text x="100.4" y="304.6" font-size="6.8" text-anchor="end" fill="#b05aa0" stroke="#b05aa0" stroke-width="0.18" >97</text>
<rect x="60.8" y="280.1" width="40.8" height="40.89999999999998" fill="none" stroke="#111" stroke-width="1"/>
<path d="M57.6 317.1H60.8M57.6 311.6H60.8M58.8 308.8H60.8M58.8 307.1H60.8M58.8 305.9H60.8M58.8 305.0H60.8M58.8 304.3H60.8M58.8 303.6H60.8M58.8 303.1H60.8M58.8 302.6H60.8M57.6 302.2H60.8M58.8 299.2H60.8M58.8 297.5H60.8M58.8 296.3H60.8M58.8 295.3H60.8M58.8 294.5H60.8M58.8 293.9H60.8M58.8 293.3H60.8M58.8 292.8H60.8M57.6 292.4H60.8M58.8 289.5H60.8M58.8 287.9H60.8M58.8 286.7H60.8M58.8 285.8H60.8M58.8 285.0H60.8M58.8 284.4H60.8M58.8 283.9H60.8M58.8 283.4H60.8M57.6 283.0H60.8M58.8 315.7H60.8M58.8 314.4H60.8M58.8 313.0H60.8M64.5 321V324.2M69.0 321V324.2M71.9 321V323.0M73.6 321V323.0M74.9 321V323.0M75.8 321V323.0M76.6 321V323.0M77.2 321V323.0M77.8 321V323.0M78.3 321V323.0M78.8 321V324.2M81.6 321V323.0M83.2 321V323.0M84.4 321V323.0M85.3 321V323.0M86.1 321V323.0M86.7 321V323.0M87.2 321V323.0M87.7 321V323.0M88.1 321V324.2M91.0 321V323.0M92.6 321V323.0M93.8 321V323.0M94.7 321V323.0M95.4 321V323.0M96.1 321V323.0M96.6 321V323.0M97.1 321V323.0M97.5 321V324.2M65.6 321V323.0M66.7 321V323.0M67.8 321V323.0" stroke="#111" stroke-width="0.75"/>
<text x="56.3" y="318.7" font-size="4.6" text-anchor="end" fill="#444" >0</text>
<text x="56.3" y="313.2" font-size="4.6" text-anchor="end" fill="#444" >10<tspan font-size="2.8" dy="-2">2</tspan></text>
<text x="56.3" y="303.8" font-size="4.6" text-anchor="end" fill="#444" >10<tspan font-size="2.8" dy="-2">3</tspan></text>
<text x="56.3" y="294.0" font-size="4.6" text-anchor="end" fill="#444" >10<tspan font-size="2.8" dy="-2">4</tspan></text>
<text x="56.3" y="284.6" font-size="4.6" text-anchor="end" fill="#444" >10<tspan font-size="2.8" dy="-2">5</tspan></text>
<text x="64.5" y="329.4" font-size="4.6" text-anchor="middle" fill="#444" >0</text>
<text x="69.8" y="329.4" font-size="4.6" text-anchor="middle" fill="#444" >10<tspan font-size="2.8" dy="-2">2</tspan></text>
<text x="79.6" y="329.4" font-size="4.6" text-anchor="middle" fill="#444" >10<tspan font-size="2.8" dy="-2">3</tspan></text>
<text x="88.9" y="329.4" font-size="4.6" text-anchor="middle" fill="#444" >10<tspan font-size="2.8" dy="-2">4</tspan></text>
<text x="98.3" y="329.4" font-size="4.6" text-anchor="middle" fill="#444" >10<tspan font-size="2.8" dy="-2">5</tspan></text>
<clipPath id="c106_280"><rect x="106.4" y="280.1" width="41.400000000000006" height="40.89999999999998"/></clipPath>
<g clip-path="url(#c106_280)">
<path fill="#6070ff" d="M127.0 314.5h.6v.6h-.6zM130.6 315.8h.6v.6h-.6zM129.3 311.7h.6v.6h-.6zM126.8 303.1h.6v.6h-.6zM133.5 320.2h.6v.6h-.6zM132.5 313.1h.6v.6h-.6zM130.5 305.9h.6v.6h-.6zM120.3 315.0h.6v.6h-.6zM130.2 305.0h.6v.6h-.6zM124.4 320.0h.6v.6h-.6zM120.2 324.0h.6v.6h-.6zM132.3 328.9h.6v.6h-.6zM125.6 309.4h.6v.6h-.6zM126.7 310.8h.6v.6h-.6zM128.1 303.4h.6v.6h-.6zM134.5 303.1h.6v.6h-.6zM126.6 314.1h.6v.6h-.6zM126.5 306.0h.6v.6h-.6zM130.9 306.5h.6v.6h-.6zM123.0 308.7h.6v.6h-.6zM128.1 323.5h.6v.6h-.6zM123.7 317.5h.6v.6h-.6zM125.3 306.6h.6v.6h-.6zM127.5 311.8h.6v.6h-.6zM133.5 323.9h.6v.6h-.6zM126.0 320.4h.6v.6h-.6zM134.1 316.2h.6v.6h-.6zM125.4 316.9h.6v.6h-.6zM128.6 312.4h.6v.6h-.6zM127.8 315.0h.6v.6h-.6zM134.7 318.8h.6v.6h-.6zM128.2 317.7h.6v.6h-.6zM136.4 301.9h.6v.6h-.6zM136.5 298.6h.6v.6h-.6zM131.9 314.4h.6v.6h-.6zM136.5 311.8h.6v.6h-.6zM126.8 303.0h.6v.6h-.6zM123.0 315.8h.6v.6h-.6zM128.0 303.7h.6v.6h-.6zM131.8 303.3h.6v.6h-.6zM127.0 305.8h.6v.6h-.6zM137.4 321.5h.6v.6h-.6zM128.4 296.7h.6v.6h-.6zM130.5 310.1h.6v.6h-.6zM130.9 314.2h.6v.6h-.6zM127.6 317.1h.6v.6h-.6zM133.3 311.3h.6v.6h-.6zM127.2 305.6h.6v.6h-.6zM132.6 300.6h.6v.6h-.6zM128.4 303.4h.6v.6h-.6zM122.2 314.5h.6v.6h-.6zM129.0 309.8h.6v.6h-.6zM133.5 297.3h.6v.6h-.6zM128.8 311.9h.6v.6h-.6zM133.3 300.7h.6v.6h-.6zM132.7 311.3h.6v.6h-.6zM135.9 318.9h.6v.6h-.6zM131.9 327.1h.6v.6h-.6zM129.2 306.1h.6v.6h-.6zM127.5 301.9h.6v.6h-.6zM129.0 294.2h.6v.6h-.6zM128.8 313.0h.6v.6h-.6zM134.1 306.7h.6v.6h-.6zM136.1 304.2h.6v.6h-.6zM128.5 294.2h.6v.6h-.6zM125.4 303.1h.6v.6h-.6zM136.4 313.8h.6v.6h-.6zM123.8 313.8h.6v.6h-.6zM131.5 307.7h.6v.6h-.6zM129.3 307.1h.6v.6h-.6zM126.5 295.4h.6v.6h-.6zM128.7 319.8h.6v.6h-.6zM136.1 307.3h.6v.6h-.6zM125.5 307.9h.6v.6h-.6zM133.5 312.4h.6v.6h-.6zM126.3 312.4h.6v.6h-.6zM128.2 313.7h.6v.6h-.6zM127.2 297.8h.6v.6h-.6zM129.5 315.6h.6v.6h-.6zM123.8 308.7h.6v.6h-.6zM133.4 306.6h.6v.6h-.6zM126.0 325.7h.6v.6h-.6zM133.2 317.7h.6v.6h-.6zM124.6 322.6h.6v.6h-.6zM121.2 305.4h.6v.6h-.6zM132.7 320.1h.6v.6h-.6zM124.7 304.3h.6v.6h-.6zM130.1 294.2h.6v.6h-.6zM132.3 314.0h.6v.6h-.6zM127.0 313.8h.6v.6h-.6zM132.9 312.0h.6v.6h-.6zM131.7 321.6h.6v.6h-.6zM126.9 310.8h.6v.6h-.6zM126.7 317.8h.6v.6h-.6zM127.2 313.3h.6v.6h-.6zM129.8 310.1h.6v.6h-.6zM137.4 308.9h.6v.6h-.6zM136.0 316.1h.6v.6h-.6zM135.5 308.2h.6v.6h-.6zM133.6 315.5h.6v.6h-.6zM126.2 311.7h.6v.6h-.6zM128.6 309.3h.6v.6h-.6zM135.4 303.9h.6v.6h-.6zM121.1 295.8h.6v.6h-.6zM127.0 304.5h.6v.6h-.6zM129.2 314.0h.6v.6h-.6zM137.6 312.0h.6v.6h-.6zM131.4 303.7h.6v.6h-.6zM132.0 320.3h.6v.6h-.6zM135.6 294.1h.6v.6h-.6zM133.4 322.0h.6v.6h-.6zM133.1 297.8h.6v.6h-.6zM127.7 314.2h.6v.6h-.6zM131.2 303.2h.6v.6h-.6zM124.9 317.2h.6v.6h-.6zM122.8 320.8h.6v.6h-.6zM129.3 311.9h.6v.6h-.6zM122.8 304.9h.6v.6h-.6zM132.5 298.0h.6v.6h-.6zM139.1 298.5h.6v.6h-.6zM123.3 309.9h.6v.6h-.6zM131.5 315.3h.6v.6h-.6zM127.4 307.9h.6v.6h-.6zM128.0 305.0h.6v.6h-.6zM116.9 317.1h.6v.6h-.6zM130.4 310.8h.6v.6h-.6zM126.2 311.5h.6v.6h-.6zM129.1 308.9h.6v.6h-.6zM134.4 296.0h.6v.6h-.6zM130.4 301.2h.6v.6h-.6zM127.7 321.3h.6v.6h-.6zM124.0 308.8h.6v.6h-.6zM126.3 317.0h.6v.6h-.6zM124.5 296.3h.6v.6h-.6zM131.6 306.8h.6v.6h-.6zM127.6 318.0h.6v.6h-.6zM124.9 306.6h.6v.6h-.6zM129.9 312.8h.6v.6h-.6zM126.7 317.7h.6v.6h-.6zM139.9 306.3h.6v.6h-.6zM138.1 293.0h.6v.6h-.6zM135.9 306.8h.6v.6h-.6zM129.8 306.9h.6v.6h-.6zM126.1 299.5h.6v.6h-.6zM127.3 319.7h.6v.6h-.6zM134.6 306.8h.6v.6h-.6zM126.7 304.0h.6v.6h-.6zM123.4 323.7h.6v.6h-.6zM132.3 310.5h.6v.6h-.6zM126.8 301.5h.6v.6h-.6zM135.5 315.7h.6v.6h-.6zM124.6 317.3h.6v.6h-.6zM123.9 314.6h.6v.6h-.6zM124.6 306.3h.6v.6h-.6zM131.5 312.9h.6v.6h-.6zM134.0 303.0h.6v.6h-.6zM136.7 320.1h.6v.6h-.6zM129.1 313.2h.6v.6h-.6zM125.5 308.4h.6v.6h-.6zM122.9 310.2h.6v.6h-.6zM130.1 320.1h.6v.6h-.6zM133.7 315.9h.6v.6h-.6zM127.4 307.8h.6v.6h-.6zM127.5 311.3h.6v.6h-.6zM120.0 315.6h.6v.6h-.6zM121.7 305.5h.6v.6h-.6zM129.3 305.5h.6v.6h-.6zM137.1 308.8h.6v.6h-.6zM136.7 318.8h.6v.6h-.6zM126.8 312.7h.6v.6h-.6zM135.4 306.9h.6v.6h-.6zM129.6 305.2h.6v.6h-.6zM129.4 306.8h.6v.6h-.6zM129.6 317.4h.6v.6h-.6zM135.8 310.6h.6v.6h-.6zM130.1 316.3h.6v.6h-.6zM127.8 301.2h.6v.6h-.6zM134.5 302.2h.6v.6h-.6zM133.6 302.0h.6v.6h-.6zM137.9 301.3h.6v.6h-.6zM133.2 321.3h.6v.6h-.6zM124.6 321.2h.6v.6h-.6zM125.2 295.7h.6v.6h-.6zM132.6 315.1h.6v.6h-.6zM128.2 289.7h.6v.6h-.6zM128.9 307.1h.6v.6h-.6zM127.4 307.3h.6v.6h-.6zM120.6 305.1h.6v.6h-.6zM137.8 321.7h.6v.6h-.6zM127.4 304.0h.6v.6h-.6zM131.1 317.9h.6v.6h-.6zM132.6 300.4h.6v.6h-.6zM129.9 310.7h.6v.6h-.6zM136.0 318.9h.6v.6h-.6zM131.7 319.1h.6v.6h-.6zM127.3 321.6h.6v.6h-.6zM127.1 312.7h.6v.6h-.6zM133.5 302.4h.6v.6h-.6zM125.8 295.7h.6v.6h-.6zM130.0 309.1h.6v.6h-.6zM127.6 313.5h.6v.6h-.6zM119.1 309.4h.6v.6h-.6zM129.6 307.5h.6v.6h-.6zM133.0 323.3h.6v.6h-.6zM127.0 302.2h.6v.6h-.6zM126.3 310.3h.6v.6h-.6zM132.0 302.8h.6v.6h-.6zM133.9 301.5h.6v.6h-.6zM133.1 312.9h.6v.6h-.6zM131.4 326.5h.6v.6h-.6zM127.9 308.2h.6v.6h-.6zM131.4 316.3h.6v.6h-.6zM122.8 311.7h.6v.6h-.6zM125.6 314.5h.6v.6h-.6zM135.7 310.0h.6v.6h-.6zM128.7 311.0h.6v.6h-.6zM115.1 315.6h.6v.6h-.6zM131.8 310.8h.6v.6h-.6zM127.3 303.8h.6v.6h-.6zM128.3 319.1h.6v.6h-.6z"/>
<path fill="#6070ff" d="M114.5 289.7h.6v.6h-.6zM90.0 286.2h.6v.6h-.6zM118.2 287.0h.6v.6h-.6zM99.0 285.7h.6v.6h-.6zM127.9 284.5h.6v.6h-.6zM105.7 284.9h.6v.6h-.6zM110.0 288.3h.6v.6h-.6zM121.4 283.1h.6v.6h-.6zM130.0 285.9h.6v.6h-.6zM109.7 290.3h.6v.6h-.6zM114.7 284.6h.6v.6h-.6zM109.2 285.6h.6v.6h-.6zM105.5 286.4h.6v.6h-.6zM124.2 287.7h.6v.6h-.6zM101.8 292.5h.6v.6h-.6zM105.7 287.3h.6v.6h-.6zM115.8 288.5h.6v.6h-.6zM112.2 287.9h.6v.6h-.6zM136.4 287.2h.6v.6h-.6zM104.8 287.7h.6v.6h-.6zM107.5 286.3h.6v.6h-.6zM117.4 287.7h.6v.6h-.6zM112.7 288.7h.6v.6h-.6zM113.6 284.5h.6v.6h-.6zM124.2 286.3h.6v.6h-.6zM127.6 285.8h.6v.6h-.6zM121.2 287.7h.6v.6h-.6zM88.7 284.1h.6v.6h-.6zM104.4 289.8h.6v.6h-.6zM96.7 288.8h.6v.6h-.6zM126.4 288.0h.6v.6h-.6zM122.2 286.1h.6v.6h-.6zM115.4 287.5h.6v.6h-.6zM119.7 288.4h.6v.6h-.6zM113.5 285.7h.6v.6h-.6zM109.9 287.9h.6v.6h-.6zM99.0 284.6h.6v.6h-.6zM111.4 286.0h.6v.6h-.6zM112.8 281.8h.6v.6h-.6zM112.1 286.6h.6v.6h-.6zM123.2 283.2h.6v.6h-.6zM112.5 288.0h.6v.6h-.6zM120.4 289.4h.6v.6h-.6zM126.0 285.0h.6v.6h-.6zM121.8 286.4h.6v.6h-.6zM107.5 290.1h.6v.6h-.6zM109.2 285.4h.6v.6h-.6zM111.5 285.4h.6v.6h-.6zM125.5 287.8h.6v.6h-.6zM129.4 287.9h.6v.6h-.6zM109.4 289.1h.6v.6h-.6zM109.0 286.1h.6v.6h-.6zM113.8 287.1h.6v.6h-.6zM127.4 285.9h.6v.6h-.6zM119.0 287.0h.6v.6h-.6zM103.0 284.9h.6v.6h-.6zM113.3 287.8h.6v.6h-.6zM118.7 288.0h.6v.6h-.6zM116.0 286.2h.6v.6h-.6zM119.8 285.1h.6v.6h-.6zM102.1 286.4h.6v.6h-.6zM101.3 286.0h.6v.6h-.6zM108.1 286.0h.6v.6h-.6zM115.1 285.5h.6v.6h-.6zM111.3 283.7h.6v.6h-.6zM117.0 285.3h.6v.6h-.6zM119.5 281.5h.6v.6h-.6zM107.5 287.5h.6v.6h-.6zM91.2 286.3h.6v.6h-.6zM116.5 287.3h.6v.6h-.6zM100.6 287.5h.6v.6h-.6zM117.0 285.1h.6v.6h-.6zM122.9 287.0h.6v.6h-.6zM115.7 286.2h.6v.6h-.6zM121.0 287.2h.6v.6h-.6zM126.9 287.9h.6v.6h-.6zM109.3 286.6h.6v.6h-.6zM124.7 286.3h.6v.6h-.6zM119.3 288.1h.6v.6h-.6zM113.7 282.5h.6v.6h-.6zM116.8 287.5h.6v.6h-.6zM116.9 285.6h.6v.6h-.6zM127.6 286.8h.6v.6h-.6zM109.3 285.6h.6v.6h-.6zM119.1 284.9h.6v.6h-.6zM105.5 291.0h.6v.6h-.6zM128.6 289.1h.6v.6h-.6zM129.2 288.2h.6v.6h-.6zM98.6 289.4h.6v.6h-.6zM127.9 288.0h.6v.6h-.6zM95.9 289.5h.6v.6h-.6zM129.2 286.1h.6v.6h-.6zM116.8 288.6h.6v.6h-.6zM114.7 289.2h.6v.6h-.6zM116.3 288.4h.6v.6h-.6zM116.4 284.1h.6v.6h-.6zM105.5 293.3h.6v.6h-.6zM118.3 289.6h.6v.6h-.6zM126.9 290.5h.6v.6h-.6zM121.1 285.9h.6v.6h-.6z"/>
<g filter="url(#bl08)">
<ellipse cx="132.9" cy="289.1" rx="8.3" ry="8.2" fill="#1818ff"/>
<ellipse cx="118.0" cy="287.1" rx="12.4" ry="2.5" fill="#1818ff" opacity="0.55"/>
<ellipse cx="132.1" cy="297.3" rx="5.8" ry="5.7" fill="#1818ff"/>
<ellipse cx="130.0" cy="305.5" rx="4.6" ry="5.7" fill="#1818ff" opacity="0.7"/>
<ellipse cx="127.9" cy="314.9" rx="5.0" ry="6.5" fill="#1818ff" opacity="0.4"/>
<ellipse cx="132.9" cy="289.1" rx="7.0" ry="6.9" fill="#0048ff"/>
<ellipse cx="132.9" cy="289.1" rx="5.7" ry="5.7" fill="#00c8ff"/>
<ellipse cx="132.9" cy="289.1" rx="4.5" ry="4.5" fill="#18e040"/>
<ellipse cx="132.9" cy="289.1" rx="3.3" ry="3.3" fill="#d0f000"/>
<ellipse cx="132.9" cy="289.1" rx="2.2" ry="2.2" fill="#ff9000"/>
<ellipse cx="132.9" cy="289.1" rx="1.1" ry="1.1" fill="#ff0800"/>
</g></g>
<polyline points="106.4,295.2 147.8,295.2" fill="none" stroke="#b05aa0" stroke-width="0.8"/>
<polyline points="126.6,280.1 126.6,295.2" fill="none" stroke="#b05aa0" stroke-width="0.8"/>
<text x="108.9" y="304.6" font-size="6.8" fill="#b05aa0" stroke="#b05aa0" stroke-width="0.18" >1</text>
<text x="146.6" y="304.6" font-size="6.8" text-anchor="end" fill="#b05aa0" stroke="#b05aa0" stroke-width="0.18" >96</text>
<rect x="106.4" y="280.1" width="41.400000000000006" height="40.89999999999998" fill="none" stroke="#111" stroke-width="1"/>
<path d="M103.2 317.1H106.4M103.2 311.6H106.4M104.4 308.8H106.4M104.4 307.1H106.4M104.4 305.9H106.4M104.4 305.0H106.4M104.4 304.3H106.4M104.4 303.6H106.4M104.4 303.1H106.4M104.4 302.6H106.4M103.2 302.2H106.4M104.4 299.2H106.4M104.4 297.5H106.4M104.4 296.3H106.4M104.4 295.3H106.4M104.4 294.5H106.4M104.4 293.9H106.4M104.4 293.3H106.4M104.4 292.8H106.4M103.2 292.4H106.4M104.4 289.5H106.4M104.4 287.9H106.4M104.4 286.7H106.4M104.4 285.8H106.4M104.4 285.0H106.4M104.4 284.4H106.4M104.4 283.9H106.4M104.4 283.4H106.4M103.2 283.0H106.4M104.4 315.7H106.4M104.4 314.4H106.4M104.4 313.0H106.4M110.1 321V324.2M114.7 321V324.2M117.7 321V323.0M119.4 321V323.0M120.7 321V323.0M121.6 321V323.0M122.4 321V323.0M123.1 321V323.0M123.7 321V323.0M124.2 321V323.0M124.6 321V324.2M127.5 321V323.0M129.2 321V323.0M130.3 321V323.0M131.3 321V323.0M132.0 321V323.0M132.7 321V323.0M133.2 321V323.0M133.7 321V323.0M134.1 321V324.2M137.0 321V323.0M138.7 321V323.0M139.9 321V323.0M140.8 321V323.0M141.5 321V323.0M142.2 321V323.0M142.7 321V323.0M143.2 321V323.0M143.7 321V324.2M111.3 321V323.0M112.4 321V323.0M113.5 321V323.0" stroke="#111" stroke-width="0.75"/>
<text x="60.8" y="277.1" font-size="6.6" fill="#333" stroke="#333" stroke-width="0.18" textLength="13.4" lengthAdjust="spacingAndGlyphs" >PD-L1</text>
<line x1="77" y1="274.8" x2="141.4" y2="274.8" stroke="#111" stroke-width="0.9"/>
<path d="M145.4 274.8 L140.4 272.6 L140.4 277.0 Z" fill="#111"/>
<text x="61.2" y="336.8" font-size="6.6" fill="#333" stroke="#333" stroke-width="0.18" textLength="15.6" lengthAdjust="spacingAndGlyphs" >CD155</text>
<line x1="79.3" y1="334.4" x2="141" y2="334.4" stroke="#111" stroke-width="0.9"/>
<path d="M145 334.4 L140 332.2 L140 336.59999999999997 Z" fill="#111"/>
<line x1="44.2" y1="231" x2="44.2" y2="299" stroke="#111" stroke-width="0.9"/>
<path d="M44.2 227 L42.0 232 L46.400000000000006 232 Z" fill="#111"/>
<text x="45.6" y="312" font-size="6" text-anchor="middle" fill="#333" stroke="#333" stroke-width="0.18" transform="rotate(-90 45.6 312)" >CD138</text>
<text x="174.7" y="222.8" font-size="14" fill="#000" textLength="11.6" lengthAdjust="spacingAndGlyphs" font-weight="bold" >H</text>
<text x="238.7" y="218.5" font-size="6.5" text-anchor="middle" stroke="#231f20" stroke-width="0.18" >4935</text>
<text x="284.2" y="218.5" font-size="6.5" text-anchor="middle" stroke="#231f20" stroke-width="0.18" >4938</text>
<clipPath id="c219_221"><rect x="219" y="221.3" width="39.5" height="40.599999999999966"/></clipPath>
<g clip-path="url(#c219_221)">
<path fill="#a0a8ff" d="M243.5 234.1h.6v.6h-.6zM243.1 254.1h.6v.6h-.6zM238.5 249.1h.6v.6h-.6zM245.4 257.1h.6v.6h-.6zM241.4 243.1h.6v.6h-.6zM239.2 240.5h.6v.6h-.6zM244.7 262.4h.6v.6h-.6zM240.9 257.5h.6v.6h-.6zM244.5 244.2h.6v.6h-.6zM248.5 229.8h.6v.6h-.6zM243.3 249.2h.6v.6h-.6zM248.4 260.4h.6v.6h-.6zM248.7 248.6h.6v.6h-.6zM245.7 257.4h.6v.6h-.6zM244.7 250.2h.6v.6h-.6zM243.1 244.8h.6v.6h-.6zM240.7 261.5h.6v.6h-.6zM242.5 232.9h.6v.6h-.6zM244.1 247.4h.6v.6h-.6zM243.9 260.6h.6v.6h-.6zM243.2 245.8h.6v.6h-.6zM241.8 247.5h.6v.6h-.6zM242.5 249.1h.6v.6h-.6zM250.7 250.5h.6v.6h-.6zM241.5 261.4h.6v.6h-.6zM245.5 253.5h.6v.6h-.6zM245.1 253.5h.6v.6h-.6zM245.0 257.7h.6v.6h-.6zM245.8 257.3h.6v.6h-.6zM242.3 247.7h.6v.6h-.6zM241.8 254.5h.6v.6h-.6zM245.4 244.4h.6v.6h-.6zM244.8 266.4h.6v.6h-.6zM246.3 239.8h.6v.6h-.6zM243.3 252.2h.6v.6h-.6zM243.4 250.4h.6v.6h-.6zM246.2 250.0h.6v.6h-.6zM241.0 252.8h.6v.6h-.6zM243.3 248.5h.6v.6h-.6zM242.2 237.8h.6v.6h-.6zM240.6 245.2h.6v.6h-.6zM241.0 228.4h.6v.6h-.6zM246.1 239.4h.6v.6h-.6zM241.8 251.5h.6v.6h-.6zM237.9 257.2h.6v.6h-.6zM241.7 252.4h.6v.6h-.6zM242.4 249.9h.6v.6h-.6zM243.7 247.7h.6v.6h-.6zM239.3 237.2h.6v.6h-.6zM243.4 257.7h.6v.6h-.6zM242.2 251.5h.6v.6h-.6zM243.9 251.1h.6v.6h-.6zM245.8 237.0h.6v.6h-.6zM244.1 246.4h.6v.6h-.6zM242.8 241.6h.6v.6h-.6zM241.7 240.4h.6v.6h-.6zM241.0 265.6h.6v.6h-.6zM247.4 247.8h.6v.6h-.6zM245.2 240.7h.6v.6h-.6zM237.1 234.7h.6v.6h-.6zM243.8 257.9h.6v.6h-.6zM243.4 240.6h.6v.6h-.6zM242.9 240.6h.6v.6h-.6zM240.3 246.0h.6v.6h-.6zM242.6 241.9h.6v.6h-.6zM241.4 241.1h.6v.6h-.6zM244.0 257.6h.6v.6h-.6zM243.0 263.6h.6v.6h-.6zM239.8 249.6h.6v.6h-.6zM240.8 246.5h.6v.6h-.6z"/>
<path fill="#6070ff" d="M233.4 226.0h.6v.6h-.6zM239.3 224.7h.6v.6h-.6zM225.7 225.1h.6v.6h-.6zM234.5 224.5h.6v.6h-.6zM238.0 227.4h.6v.6h-.6zM224.6 225.8h.6v.6h-.6zM238.7 223.1h.6v.6h-.6zM234.0 225.1h.6v.6h-.6zM224.6 226.9h.6v.6h-.6zM234.1 224.8h.6v.6h-.6zM235.4 226.1h.6v.6h-.6zM237.3 226.0h.6v.6h-.6zM235.2 224.0h.6v.6h-.6zM230.4 225.5h.6v.6h-.6zM216.8 227.9h.6v.6h-.6zM230.6 224.1h.6v.6h-.6zM222.3 225.7h.6v.6h-.6zM233.0 224.7h.6v.6h-.6zM230.4 224.3h.6v.6h-.6zM228.5 225.2h.6v.6h-.6zM229.1 226.2h.6v.6h-.6zM232.0 225.5h.6v.6h-.6zM235.2 226.9h.6v.6h-.6zM236.3 225.6h.6v.6h-.6zM231.9 224.4h.6v.6h-.6zM230.8 226.2h.6v.6h-.6zM234.1 224.9h.6v.6h-.6zM225.1 223.5h.6v.6h-.6zM234.7 226.6h.6v.6h-.6zM235.0 223.7h.6v.6h-.6zM231.6 225.6h.6v.6h-.6zM227.5 225.8h.6v.6h-.6zM231.7 224.4h.6v.6h-.6zM225.7 226.3h.6v.6h-.6zM234.9 224.3h.6v.6h-.6zM227.0 226.4h.6v.6h-.6zM236.3 225.0h.6v.6h-.6zM242.0 225.0h.6v.6h-.6zM226.7 226.7h.6v.6h-.6zM231.7 225.8h.6v.6h-.6zM233.0 224.2h.6v.6h-.6zM226.0 225.1h.6v.6h-.6zM240.9 224.2h.6v.6h-.6zM240.7 225.6h.6v.6h-.6zM226.4 225.7h.6v.6h-.6zM236.1 224.3h.6v.6h-.6zM220.5 225.8h.6v.6h-.6zM226.4 225.9h.6v.6h-.6zM221.8 225.2h.6v.6h-.6zM228.2 223.6h.6v.6h-.6zM231.4 225.6h.6v.6h-.6zM229.6 224.0h.6v.6h-.6zM234.0 223.3h.6v.6h-.6zM235.9 225.9h.6v.6h-.6zM242.5 226.4h.6v.6h-.6zM234.9 225.7h.6v.6h-.6zM233.0 223.8h.6v.6h-.6zM241.3 226.0h.6v.6h-.6zM231.2 224.0h.6v.6h-.6zM241.4 226.0h.6v.6h-.6z"/>
<g filter="url(#bl08)">
<ellipse cx="244.3" cy="225.4" rx="5.5" ry="4.5" fill="#1818ff"/>
<ellipse cx="235.6" cy="225.4" rx="8.7" ry="3.0" fill="#1818ff" opacity="0.85"/>
<ellipse cx="229.3" cy="225.0" rx="4.0" ry="2.0" fill="#1818ff" opacity="0.5"/>
<ellipse cx="244.3" cy="229.4" rx="3.2" ry="4.1" fill="#1818ff" opacity="0.6"/>
<ellipse cx="244.3" cy="225.4" rx="4.7" ry="3.8" fill="#0048ff"/>
<ellipse cx="244.3" cy="225.4" rx="3.8" ry="3.1" fill="#00c8ff"/>
<ellipse cx="244.3" cy="225.4" rx="3.0" ry="2.4" fill="#18e040"/>
<ellipse cx="244.3" cy="225.4" rx="2.2" ry="1.8" fill="#d0f000"/>
<ellipse cx="244.3" cy="225.4" rx="1.5" ry="1.2" fill="#ff9000"/>
<ellipse cx="244.3" cy="225.4" rx="0.8" ry="0.6" fill="#ff0800"/>
</g></g>
<polyline points="219.0,235.9 258.5,235.9" fill="none" stroke="#b05aa0" stroke-width="0.8"/>
<polyline points="239.1,221.3 239.1,235.9" fill="none" stroke="#b05aa0" stroke-width="0.8"/>
<text x="220.2" y="244.8" font-size="6.8" fill="#b05aa0" stroke="#b05aa0" stroke-width="0.18" >6</text>
<text x="256.5" y="244.8" font-size="6.8" text-anchor="end" fill="#b05aa0" stroke="#b05aa0" stroke-width="0.18" >93</text>
<rect x="219" y="221.3" width="39.5" height="40.599999999999966" fill="none" stroke="#111" stroke-width="1"/>
<path d="M215.8 258.0H219M215.8 252.6H219M217.0 249.8H219M217.0 248.1H219M217.0 246.9H219M217.0 246.0H219M217.0 245.3H219M217.0 244.7H219M217.0 244.1H219M217.0 243.7H219M215.8 243.2H219M217.0 240.3H219M217.0 238.6H219M217.0 237.4H219M217.0 236.4H219M217.0 235.6H219M217.0 235.0H219M217.0 234.4H219M217.0 233.9H219M215.8 233.5H219M217.0 230.7H219M217.0 229.0H219M217.0 227.9H219M217.0 227.0H219M217.0 226.2H219M217.0 225.6H219M217.0 225.0H219M217.0 224.6H219M215.8 224.1H219M217.0 256.7H219M217.0 255.3H219M217.0 253.9H219M222.6 261.9V265.1M226.9 261.9V265.1M229.8 261.9V263.9M231.4 261.9V263.9M232.6 261.9V263.9M233.5 261.9V263.9M234.3 261.9V263.9M234.9 261.9V263.9M235.5 261.9V263.9M235.9 261.9V263.9M236.4 261.9V265.1M239.1 261.9V263.9M240.7 261.9V263.9M241.8 261.9V263.9M242.7 261.9V263.9M243.4 261.9V263.9M244.1 261.9V263.9M244.6 261.9V263.9M245.0 261.9V263.9M245.5 261.9V265.1M248.2 261.9V263.9M249.8 261.9V263.9M250.9 261.9V263.9M251.8 261.9V263.9M252.5 261.9V263.9M253.1 261.9V263.9M253.7 261.9V263.9M254.1 261.9V263.9M254.6 261.9V265.1M223.6 261.9V263.9M224.7 261.9V263.9M225.8 261.9V263.9" stroke="#111" stroke-width="0.75"/>
<text x="214.5" y="259.7" font-size="4.6" text-anchor="end" fill="#444" >0</text>
<text x="214.5" y="254.2" font-size="4.6" text-anchor="end" fill="#444" >10<tspan font-size="2.8" dy="-2">2</tspan></text>
<text x="214.5" y="244.8" font-size="4.6" text-anchor="end" fill="#444" >10<tspan font-size="2.8" dy="-2">3</tspan></text>
<text x="214.5" y="235.1" font-size="4.6" text-anchor="end" fill="#444" >10<tspan font-size="2.8" dy="-2">4</tspan></text>
<text x="214.5" y="225.8" font-size="4.6" text-anchor="end" fill="#444" >10<tspan font-size="2.8" dy="-2">5</tspan></text>
<text x="222.6" y="270.3" font-size="4.6" text-anchor="middle" fill="#444" >0</text>
<text x="227.7" y="270.3" font-size="4.6" text-anchor="middle" fill="#444" >10<tspan font-size="2.8" dy="-2">2</tspan></text>
<text x="237.2" y="270.3" font-size="4.6" text-anchor="middle" fill="#444" >10<tspan font-size="2.8" dy="-2">3</tspan></text>
<text x="246.3" y="270.3" font-size="4.6" text-anchor="middle" fill="#444" >10<tspan font-size="2.8" dy="-2">4</tspan></text>
<text x="255.4" y="270.3" font-size="4.6" text-anchor="middle" fill="#444" >10<tspan font-size="2.8" dy="-2">5</tspan></text>
<clipPath id="c265_221"><rect x="265.3" y="221.3" width="39.69999999999999" height="40.599999999999966"/></clipPath>
<g clip-path="url(#c265_221)">
<path fill="#a0a8ff" d="M287.2 252.5h.6v.6h-.6zM294.3 247.5h.6v.6h-.6zM290.8 244.7h.6v.6h-.6zM288.5 255.3h.6v.6h-.6zM297.0 248.5h.6v.6h-.6zM289.6 253.3h.6v.6h-.6zM289.2 252.9h.6v.6h-.6zM291.8 240.5h.6v.6h-.6zM287.4 247.2h.6v.6h-.6zM291.8 249.7h.6v.6h-.6zM292.8 237.9h.6v.6h-.6zM291.1 243.3h.6v.6h-.6zM290.1 250.0h.6v.6h-.6zM287.7 246.1h.6v.6h-.6zM287.2 249.6h.6v.6h-.6zM287.9 244.2h.6v.6h-.6zM290.4 243.1h.6v.6h-.6zM292.6 243.2h.6v.6h-.6zM291.9 249.7h.6v.6h-.6zM287.5 246.1h.6v.6h-.6zM288.0 245.1h.6v.6h-.6zM289.3 260.6h.6v.6h-.6zM288.9 258.8h.6v.6h-.6zM290.9 238.4h.6v.6h-.6zM284.6 252.5h.6v.6h-.6zM285.3 252.8h.6v.6h-.6zM292.3 250.5h.6v.6h-.6zM289.4 245.9h.6v.6h-.6zM290.5 245.5h.6v.6h-.6zM288.7 245.1h.6v.6h-.6zM292.6 243.3h.6v.6h-.6zM290.8 239.5h.6v.6h-.6zM288.3 238.0h.6v.6h-.6zM289.5 252.5h.6v.6h-.6zM290.6 244.2h.6v.6h-.6zM291.3 245.2h.6v.6h-.6zM290.8 249.6h.6v.6h-.6zM291.2 230.2h.6v.6h-.6zM286.9 253.2h.6v.6h-.6zM289.7 263.6h.6v.6h-.6zM289.4 243.8h.6v.6h-.6zM293.4 251.6h.6v.6h-.6zM294.3 251.3h.6v.6h-.6zM289.4 252.8h.6v.6h-.6zM288.1 244.5h.6v.6h-.6zM288.6 246.1h.6v.6h-.6zM291.7 244.3h.6v.6h-.6zM290.7 244.2h.6v.6h-.6zM291.9 228.2h.6v.6h-.6zM289.4 248.9h.6v.6h-.6zM287.4 254.8h.6v.6h-.6zM290.4 256.7h.6v.6h-.6zM292.1 252.2h.6v.6h-.6zM289.6 240.0h.6v.6h-.6zM289.4 244.4h.6v.6h-.6zM290.5 244.4h.6v.6h-.6zM296.9 236.4h.6v.6h-.6zM292.6 244.4h.6v.6h-.6zM289.4 254.2h.6v.6h-.6zM289.9 239.1h.6v.6h-.6zM290.9 246.3h.6v.6h-.6zM285.2 249.1h.6v.6h-.6zM287.5 242.4h.6v.6h-.6zM291.0 249.8h.6v.6h-.6zM289.2 263.0h.6v.6h-.6zM290.9 243.4h.6v.6h-.6zM290.5 246.8h.6v.6h-.6zM284.8 236.6h.6v.6h-.6zM286.7 262.3h.6v.6h-.6zM289.5 245.7h.6v.6h-.6z"/>
<path fill="#6070ff" d="M275.9 226.5h.6v.6h-.6zM279.4 227.4h.6v.6h-.6zM283.7 227.3h.6v.6h-.6zM278.5 225.8h.6v.6h-.6zM276.7 225.2h.6v.6h-.6zM269.3 224.7h.6v.6h-.6zM273.7 224.6h.6v.6h-.6zM286.2 225.7h.6v.6h-.6zM286.2 226.4h.6v.6h-.6zM284.5 226.5h.6v.6h-.6zM275.7 226.3h.6v.6h-.6zM277.3 224.7h.6v.6h-.6zM286.1 227.9h.6v.6h-.6zM273.6 227.4h.6v.6h-.6zM284.0 224.4h.6v.6h-.6zM280.8 225.8h.6v.6h-.6zM281.3 224.9h.6v.6h-.6zM271.8 225.4h.6v.6h-.6zM284.1 226.3h.6v.6h-.6zM283.0 226.7h.6v.6h-.6zM273.5 225.3h.6v.6h-.6zM281.1 226.5h.6v.6h-.6zM280.1 226.0h.6v.6h-.6zM280.0 227.8h.6v.6h-.6zM266.7 225.3h.6v.6h-.6zM293.4 225.6h.6v.6h-.6zM268.7 225.5h.6v.6h-.6zM271.0 224.6h.6v.6h-.6zM280.5 227.4h.6v.6h-.6zM281.8 226.1h.6v.6h-.6zM285.0 225.6h.6v.6h-.6zM274.3 225.2h.6v.6h-.6zM281.1 225.0h.6v.6h-.6zM275.4 224.9h.6v.6h-.6zM270.6 224.2h.6v.6h-.6zM278.7 224.9h.6v.6h-.6zM279.4 227.0h.6v.6h-.6zM280.9 225.3h.6v.6h-.6zM272.5 224.1h.6v.6h-.6zM281.3 224.3h.6v.6h-.6zM281.7 224.1h.6v.6h-.6zM280.0 225.3h.6v.6h-.6zM284.9 224.9h.6v.6h-.6zM277.1 225.6h.6v.6h-.6zM279.5 227.3h.6v.6h-.6zM277.7 224.7h.6v.6h-.6zM277.4 225.9h.6v.6h-.6zM280.5 226.2h.6v.6h-.6zM271.3 228.3h.6v.6h-.6zM289.7 225.3h.6v.6h-.6zM272.3 225.5h.6v.6h-.6zM281.6 222.7h.6v.6h-.6zM279.3 223.6h.6v.6h-.6zM281.8 227.0h.6v.6h-.6zM285.1 223.6h.6v.6h-.6zM287.1 226.4h.6v.6h-.6zM277.1 225.9h.6v.6h-.6zM287.9 225.0h.6v.6h-.6zM279.1 224.7h.6v.6h-.6zM285.8 222.8h.6v.6h-.6z"/>
<g filter="url(#bl08)">
<ellipse cx="288.7" cy="225.0" rx="5.6" ry="4.5" fill="#1818ff"/>
<ellipse cx="280.4" cy="225.4" rx="8.7" ry="3.0" fill="#1818ff" opacity="0.85"/>
<ellipse cx="274.0" cy="225.0" rx="4.0" ry="2.0" fill="#1818ff" opacity="0.5"/>
<ellipse cx="289.1" cy="229.4" rx="3.2" ry="4.1" fill="#1818ff" opacity="0.6"/>
<ellipse cx="288.7" cy="225.0" rx="4.7" ry="3.8" fill="#0048ff"/>
<ellipse cx="288.7" cy="225.0" rx="3.8" ry="3.1" fill="#00c8ff"/>
<ellipse cx="288.7" cy="225.0" rx="3.0" ry="2.4" fill="#18e040"/>
<ellipse cx="288.7" cy="225.0" rx="2.2" ry="1.8" fill="#d0f000"/>
<ellipse cx="288.7" cy="225.0" rx="1.5" ry="1.2" fill="#ff9000"/>
<ellipse cx="288.7" cy="225.0" rx="0.8" ry="0.6" fill="#ff0800"/>
</g></g>
<polyline points="265.3,235.9 305.0,235.9" fill="none" stroke="#b05aa0" stroke-width="0.8"/>
<polyline points="285.1,221.3 285.1,235.9" fill="none" stroke="#b05aa0" stroke-width="0.8"/>
<text x="266.5" y="244.8" font-size="6.8" fill="#b05aa0" stroke="#b05aa0" stroke-width="0.18" >12</text>
<text x="303.0" y="244.8" font-size="6.8" text-anchor="end" fill="#b05aa0" stroke="#b05aa0" stroke-width="0.18" >88</text>
<rect x="265.3" y="221.3" width="39.69999999999999" height="40.599999999999966" fill="none" stroke="#111" stroke-width="1"/>
<path d="M262.1 258.0H265.3M262.1 252.6H265.3M263.3 249.8H265.3M263.3 248.1H265.3M263.3 246.9H265.3M263.3 246.0H265.3M263.3 245.3H265.3M263.3 244.7H265.3M263.3 244.1H265.3M263.3 243.7H265.3M262.1 243.2H265.3M263.3 240.3H265.3M263.3 238.6H265.3M263.3 237.4H265.3M263.3 236.4H265.3M263.3 235.6H265.3M263.3 235.0H265.3M263.3 234.4H265.3M263.3 233.9H265.3M262.1 233.5H265.3M263.3 230.7H265.3M263.3 229.0H265.3M263.3 227.9H265.3M263.3 227.0H265.3M263.3 226.2H265.3M263.3 225.6H265.3M263.3 225.0H265.3M263.3 224.6H265.3M262.1 224.1H265.3M263.3 256.7H265.3M263.3 255.3H265.3M263.3 253.9H265.3M268.9 261.9V265.1M273.2 261.9V265.1M276.1 261.9V263.9M277.8 261.9V263.9M279.0 261.9V263.9M279.9 261.9V263.9M280.7 261.9V263.9M281.3 261.9V263.9M281.8 261.9V263.9M282.3 261.9V263.9M282.8 261.9V265.1M285.5 261.9V263.9M287.1 261.9V263.9M288.3 261.9V263.9M289.2 261.9V263.9M289.9 261.9V263.9M290.5 261.9V263.9M291.0 261.9V263.9M291.5 261.9V263.9M291.9 261.9V265.1M294.6 261.9V263.9M296.3 261.9V263.9M297.4 261.9V263.9M298.3 261.9V263.9M299.0 261.9V263.9M299.6 261.9V263.9M300.1 261.9V263.9M300.6 261.9V263.9M301.0 261.9V265.1M270.0 261.9V263.9M271.1 261.9V263.9M272.1 261.9V263.9" stroke="#111" stroke-width="0.75"/>
<clipPath id="c219_280"><rect x="219" y="280.3" width="39.5" height="40.599999999999966"/></clipPath>
<g clip-path="url(#c219_280)">
<path fill="#6070ff" d="M231.4 305.1h.6v.6h-.6zM229.2 301.2h.6v.6h-.6zM220.7 307.2h.6v.6h-.6zM228.7 301.2h.6v.6h-.6zM227.7 307.0h.6v.6h-.6zM230.6 308.9h.6v.6h-.6zM227.1 309.7h.6v.6h-.6zM233.1 308.6h.6v.6h-.6zM224.8 322.4h.6v.6h-.6zM225.3 314.8h.6v.6h-.6zM221.6 311.9h.6v.6h-.6zM214.6 311.4h.6v.6h-.6zM222.0 301.9h.6v.6h-.6zM218.5 317.4h.6v.6h-.6zM226.9 301.9h.6v.6h-.6zM233.2 306.7h.6v.6h-.6zM223.2 312.2h.6v.6h-.6zM219.7 301.3h.6v.6h-.6zM221.5 317.7h.6v.6h-.6zM229.3 301.5h.6v.6h-.6zM230.4 310.9h.6v.6h-.6zM227.2 311.1h.6v.6h-.6zM226.8 304.9h.6v.6h-.6zM220.8 306.6h.6v.6h-.6zM223.2 314.4h.6v.6h-.6zM219.4 320.1h.6v.6h-.6zM222.0 307.3h.6v.6h-.6zM228.1 313.3h.6v.6h-.6zM223.4 304.5h.6v.6h-.6zM220.4 301.4h.6v.6h-.6zM230.1 317.1h.6v.6h-.6zM233.4 313.7h.6v.6h-.6zM226.4 315.2h.6v.6h-.6zM229.3 309.2h.6v.6h-.6zM226.5 323.4h.6v.6h-.6zM217.2 302.5h.6v.6h-.6zM220.5 315.2h.6v.6h-.6zM230.3 308.8h.6v.6h-.6zM228.0 310.5h.6v.6h-.6zM226.3 307.6h.6v.6h-.6zM224.8 310.7h.6v.6h-.6zM230.1 323.8h.6v.6h-.6zM216.6 313.9h.6v.6h-.6zM224.9 316.4h.6v.6h-.6zM229.8 315.3h.6v.6h-.6zM228.6 305.2h.6v.6h-.6zM217.1 320.5h.6v.6h-.6zM230.4 305.2h.6v.6h-.6zM230.8 314.7h.6v.6h-.6zM213.7 316.0h.6v.6h-.6zM220.4 317.6h.6v.6h-.6zM221.8 306.4h.6v.6h-.6zM217.9 309.5h.6v.6h-.6zM229.6 306.8h.6v.6h-.6zM216.4 323.3h.6v.6h-.6zM233.3 314.8h.6v.6h-.6zM222.5 303.6h.6v.6h-.6zM217.4 314.0h.6v.6h-.6zM230.9 304.5h.6v.6h-.6zM224.9 309.1h.6v.6h-.6zM223.8 313.7h.6v.6h-.6zM234.5 307.0h.6v.6h-.6zM228.8 317.1h.6v.6h-.6zM223.6 309.9h.6v.6h-.6zM218.8 317.1h.6v.6h-.6zM222.5 306.9h.6v.6h-.6zM225.2 305.7h.6v.6h-.6zM220.2 309.0h.6v.6h-.6zM231.7 309.5h.6v.6h-.6zM227.3 302.1h.6v.6h-.6zM216.0 321.4h.6v.6h-.6zM223.1 301.7h.6v.6h-.6zM224.4 314.3h.6v.6h-.6zM217.0 305.6h.6v.6h-.6zM226.1 305.3h.6v.6h-.6zM228.6 316.4h.6v.6h-.6zM226.9 308.2h.6v.6h-.6zM224.7 307.0h.6v.6h-.6zM224.3 312.6h.6v.6h-.6zM223.6 316.5h.6v.6h-.6zM236.8 307.5h.6v.6h-.6zM226.5 315.6h.6v.6h-.6zM227.9 309.4h.6v.6h-.6zM222.7 316.7h.6v.6h-.6zM227.8 313.7h.6v.6h-.6zM221.2 314.5h.6v.6h-.6zM228.6 309.7h.6v.6h-.6zM227.9 323.5h.6v.6h-.6zM216.3 314.3h.6v.6h-.6zM219.6 302.7h.6v.6h-.6zM223.8 314.0h.6v.6h-.6zM225.2 303.9h.6v.6h-.6zM218.3 307.5h.6v.6h-.6zM225.0 305.9h.6v.6h-.6zM218.0 321.1h.6v.6h-.6zM221.1 309.8h.6v.6h-.6zM222.4 307.3h.6v.6h-.6zM225.1 309.0h.6v.6h-.6zM227.8 303.8h.6v.6h-.6zM218.1 322.2h.6v.6h-.6zM224.6 315.3h.6v.6h-.6zM230.3 314.0h.6v.6h-.6zM225.1 301.6h.6v.6h-.6zM217.6 316.5h.6v.6h-.6zM228.0 314.1h.6v.6h-.6zM217.3 298.2h.6v.6h-.6zM220.1 303.8h.6v.6h-.6zM225.7 304.7h.6v.6h-.6zM232.2 307.1h.6v.6h-.6zM222.3 315.8h.6v.6h-.6zM226.4 305.4h.6v.6h-.6zM228.7 322.1h.6v.6h-.6zM219.3 309.3h.6v.6h-.6zM220.0 299.3h.6v.6h-.6zM227.8 314.9h.6v.6h-.6zM229.4 313.3h.6v.6h-.6zM215.7 310.6h.6v.6h-.6zM221.9 303.8h.6v.6h-.6zM219.8 315.3h.6v.6h-.6zM223.6 322.4h.6v.6h-.6zM227.1 299.5h.6v.6h-.6zM229.0 318.1h.6v.6h-.6zM225.1 303.6h.6v.6h-.6zM233.1 303.0h.6v.6h-.6zM224.5 299.5h.6v.6h-.6zM219.1 300.7h.6v.6h-.6zM229.9 317.7h.6v.6h-.6zM223.1 302.7h.6v.6h-.6zM224.6 313.0h.6v.6h-.6zM217.9 303.9h.6v.6h-.6zM224.5 314.9h.6v.6h-.6zM225.3 313.4h.6v.6h-.6zM219.2 296.0h.6v.6h-.6zM226.4 305.3h.6v.6h-.6zM224.4 308.5h.6v.6h-.6zM227.1 306.2h.6v.6h-.6zM231.6 310.9h.6v.6h-.6zM227.4 314.5h.6v.6h-.6zM229.7 313.2h.6v.6h-.6zM216.8 307.0h.6v.6h-.6zM233.5 313.6h.6v.6h-.6zM227.5 313.5h.6v.6h-.6zM222.0 306.7h.6v.6h-.6zM221.9 317.6h.6v.6h-.6zM226.6 321.3h.6v.6h-.6zM227.2 322.0h.6v.6h-.6zM227.0 303.7h.6v.6h-.6zM233.0 312.8h.6v.6h-.6zM230.5 312.0h.6v.6h-.6zM223.4 311.8h.6v.6h-.6zM219.7 303.6h.6v.6h-.6zM220.8 307.6h.6v.6h-.6zM218.6 310.1h.6v.6h-.6zM226.3 322.9h.6v.6h-.6zM233.5 310.5h.6v.6h-.6zM229.0 309.4h.6v.6h-.6zM226.7 310.5h.6v.6h-.6zM222.4 311.2h.6v.6h-.6zM218.0 313.4h.6v.6h-.6zM223.6 304.3h.6v.6h-.6zM223.2 314.1h.6v.6h-.6zM221.8 313.6h.6v.6h-.6zM227.6 320.1h.6v.6h-.6zM219.9 310.1h.6v.6h-.6zM227.3 319.7h.6v.6h-.6zM226.1 315.3h.6v.6h-.6zM218.1 307.3h.6v.6h-.6zM232.7 309.0h.6v.6h-.6zM235.0 306.4h.6v.6h-.6zM223.6 301.2h.6v.6h-.6zM227.9 312.3h.6v.6h-.6zM234.4 311.7h.6v.6h-.6zM223.8 302.3h.6v.6h-.6zM224.5 316.4h.6v.6h-.6zM228.4 318.1h.6v.6h-.6zM229.0 310.5h.6v.6h-.6zM227.8 311.8h.6v.6h-.6zM218.7 321.0h.6v.6h-.6zM226.7 304.4h.6v.6h-.6zM226.7 312.5h.6v.6h-.6zM229.6 319.4h.6v.6h-.6zM210.7 314.1h.6v.6h-.6zM232.1 305.0h.6v.6h-.6zM216.2 312.4h.6v.6h-.6zM226.5 312.9h.6v.6h-.6zM219.7 307.9h.6v.6h-.6zM225.8 315.2h.6v.6h-.6zM235.2 312.5h.6v.6h-.6zM222.1 296.5h.6v.6h-.6zM230.0 310.0h.6v.6h-.6zM224.4 304.8h.6v.6h-.6zM228.4 299.9h.6v.6h-.6zM225.4 311.5h.6v.6h-.6zM226.3 318.6h.6v.6h-.6zM224.5 311.3h.6v.6h-.6zM228.9 301.4h.6v.6h-.6zM223.6 311.2h.6v.6h-.6zM229.4 305.9h.6v.6h-.6zM228.7 313.1h.6v.6h-.6zM217.9 301.8h.6v.6h-.6z"/>
<path fill="#d0d0ff" d="M237.9 288.9h.6v.6h-.6zM245.6 290.8h.6v.6h-.6zM248.5 286.6h.6v.6h-.6zM249.7 291.1h.6v.6h-.6zM246.9 290.0h.6v.6h-.6zM238.6 289.6h.6v.6h-.6zM239.8 284.6h.6v.6h-.6zM243.0 288.9h.6v.6h-.6zM244.4 287.4h.6v.6h-.6zM240.0 289.0h.6v.6h-.6zM241.2 283.9h.6v.6h-.6zM245.1 293.1h.6v.6h-.6zM242.8 285.0h.6v.6h-.6zM251.2 294.0h.6v.6h-.6zM243.3 287.7h.6v.6h-.6zM245.7 298.0h.6v.6h-.6zM245.3 291.6h.6v.6h-.6zM246.8 282.5h.6v.6h-.6zM239.5 284.4h.6v.6h-.6zM246.7 288.8h.6v.6h-.6zM253.1 287.5h.6v.6h-.6zM246.1 288.7h.6v.6h-.6zM245.3 295.9h.6v.6h-.6zM246.0 293.2h.6v.6h-.6zM250.8 286.5h.6v.6h-.6z"/>
<g filter="url(#bl08)">
<polygon points="219.0,281.1 237.2,281.1 238.8,285.2 236.4,297.4 219.0,297.4" fill="#1818ff"/>
<polygon points="219.0,296.5 236.4,296.5 231.6,304.7 226.9,312.0 222.2,316.0 219.0,316.8" fill="#1818ff" opacity="0.55"/>
<polygon points="219.0,296.5 232.4,296.5 228.9,304.7 223.7,310.8 219.0,312.8" fill="#1818ff" opacity="0.5"/>
<ellipse cx="226.9" cy="290.0" rx="8.7" ry="6.9" fill="#0048ff"/>
<ellipse cx="227.3" cy="287.2" rx="7.9" ry="3.2" fill="#00c8ff"/>
<ellipse cx="226.9" cy="292.9" rx="7.1" ry="2.8" fill="#00c8ff"/>
<ellipse cx="226.9" cy="287.0" rx="6.7" ry="2.0" fill="#18e040"/>
<ellipse cx="226.5" cy="292.9" rx="5.9" ry="1.8" fill="#18e040"/>
<ellipse cx="225.7" cy="287.0" rx="4.0" ry="1.0" fill="#d0f000" opacity="0.5"/>
<ellipse cx="225.3" cy="292.9" rx="3.2" ry="0.9" fill="#d0f000" opacity="0.35"/>
</g></g>
<polyline points="219.0,295.3 258.5,295.3" fill="none" stroke="#b05aa0" stroke-width="0.8"/>
<polyline points="241.5,280.3 241.5,295.3" fill="none" stroke="#b05aa0" stroke-width="0.8"/>
<text x="220.6" y="312.8" font-size="6.8" fill="#b05aa0" stroke="#b05aa0" stroke-width="0.18" >91</text>
<rect x="219" y="280.3" width="39.5" height="40.599999999999966" fill="none" stroke="#111" stroke-width="1"/>
<path d="M215.8 317.0H219M215.8 311.6H219M217.0 308.8H219M217.0 307.1H219M217.0 305.9H219M217.0 305.0H219M217.0 304.3H219M217.0 303.7H219M217.0 303.1H219M217.0 302.7H219M215.8 302.2H219M217.0 299.3H219M217.0 297.6H219M217.0 296.4H219M217.0 295.4H219M217.0 294.6H219M217.0 294.0H219M217.0 293.4H219M217.0 292.9H219M215.8 292.5H219M217.0 289.7H219M217.0 288.0H219M217.0 286.9H219M217.0 286.0H219M217.0 285.2H219M217.0 284.6H219M217.0 284.0H219M217.0 283.6H219M215.8 283.1H219M217.0 315.7H219M217.0 314.3H219M217.0 312.9H219M222.6 320.9V324.1M226.9 320.9V324.1M229.8 320.9V322.9M231.4 320.9V322.9M232.6 320.9V322.9M233.5 320.9V322.9M234.3 320.9V322.9M234.9 320.9V322.9M235.5 320.9V322.9M235.9 320.9V322.9M236.4 320.9V324.1M239.1 320.9V322.9M240.7 320.9V322.9M241.8 320.9V322.9M242.7 320.9V322.9M243.4 320.9V322.9M244.1 320.9V322.9M244.6 320.9V322.9M245.0 320.9V322.9M245.5 320.9V324.1M248.2 320.9V322.9M249.8 320.9V322.9M250.9 320.9V322.9M251.8 320.9V322.9M252.5 320.9V322.9M253.1 320.9V322.9M253.7 320.9V322.9M254.1 320.9V322.9M254.6 320.9V324.1M223.6 320.9V322.9M224.7 320.9V322.9M225.8 320.9V322.9" stroke="#111" stroke-width="0.75"/>
<text x="214.5" y="318.7" font-size="4.6" text-anchor="end" fill="#444" >0</text>
<text x="214.5" y="313.2" font-size="4.6" text-anchor="end" fill="#444" >10<tspan font-size="2.8" dy="-2">2</tspan></text>
<text x="214.5" y="303.8" font-size="4.6" text-anchor="end" fill="#444" >10<tspan font-size="2.8" dy="-2">3</tspan></text>
<text x="214.5" y="294.1" font-size="4.6" text-anchor="end" fill="#444" >10<tspan font-size="2.8" dy="-2">4</tspan></text>
<text x="214.5" y="284.8" font-size="4.6" text-anchor="end" fill="#444" >10<tspan font-size="2.8" dy="-2">5</tspan></text>
<text x="222.6" y="329.3" font-size="4.6" text-anchor="middle" fill="#444" >0</text>
<text x="227.7" y="329.3" font-size="4.6" text-anchor="middle" fill="#444" >10<tspan font-size="2.8" dy="-2">2</tspan></text>
<text x="237.2" y="329.3" font-size="4.6" text-anchor="middle" fill="#444" >10<tspan font-size="2.8" dy="-2">3</tspan></text>
<text x="246.3" y="329.3" font-size="4.6" text-anchor="middle" fill="#444" >10<tspan font-size="2.8" dy="-2">4</tspan></text>
<text x="255.4" y="329.3" font-size="4.6" text-anchor="middle" fill="#444" >10<tspan font-size="2.8" dy="-2">5</tspan></text>
<text x="257" y="313.5" font-size="8.5" text-anchor="end" fill="#b05aa0" stroke="#b05aa0" stroke-width="0.18" >0</text>
<clipPath id="c265_280"><rect x="265.3" y="280.3" width="39.69999999999999" height="40.599999999999966"/></clipPath>
<g clip-path="url(#c265_280)">
<path fill="#6070ff" d="M274.5 308.4h.6v.6h-.6zM271.8 311.7h.6v.6h-.6zM271.4 307.9h.6v.6h-.6zM278.6 309.1h.6v.6h-.6zM274.6 320.9h.6v.6h-.6zM274.2 317.0h.6v.6h-.6zM277.8 317.4h.6v.6h-.6zM279.4 302.1h.6v.6h-.6zM280.6 310.9h.6v.6h-.6zM263.0 306.9h.6v.6h-.6zM264.6 310.6h.6v.6h-.6zM264.2 304.6h.6v.6h-.6zM272.7 311.7h.6v.6h-.6zM267.5 309.3h.6v.6h-.6zM270.8 311.2h.6v.6h-.6zM271.2 309.4h.6v.6h-.6zM275.4 301.0h.6v.6h-.6zM268.9 311.6h.6v.6h-.6zM269.3 307.4h.6v.6h-.6zM269.2 312.0h.6v.6h-.6zM277.2 309.6h.6v.6h-.6zM270.0 312.9h.6v.6h-.6zM270.1 299.0h.6v.6h-.6zM272.5 308.5h.6v.6h-.6zM268.5 314.6h.6v.6h-.6zM271.5 307.3h.6v.6h-.6zM260.9 300.3h.6v.6h-.6zM271.3 310.0h.6v.6h-.6zM273.3 312.1h.6v.6h-.6zM269.0 303.1h.6v.6h-.6zM266.0 309.9h.6v.6h-.6zM265.8 315.3h.6v.6h-.6zM264.9 299.8h.6v.6h-.6zM270.3 299.9h.6v.6h-.6zM279.0 304.7h.6v.6h-.6zM271.0 309.3h.6v.6h-.6zM267.3 300.0h.6v.6h-.6zM262.4 316.0h.6v.6h-.6zM276.1 323.9h.6v.6h-.6zM264.3 314.2h.6v.6h-.6zM271.2 315.9h.6v.6h-.6zM268.8 315.1h.6v.6h-.6zM275.5 314.4h.6v.6h-.6zM278.1 309.7h.6v.6h-.6zM278.6 306.5h.6v.6h-.6zM279.2 294.0h.6v.6h-.6zM271.3 305.9h.6v.6h-.6zM271.3 317.0h.6v.6h-.6zM274.7 311.3h.6v.6h-.6zM279.4 301.8h.6v.6h-.6zM267.4 319.9h.6v.6h-.6zM272.8 298.1h.6v.6h-.6zM272.9 303.5h.6v.6h-.6zM278.3 317.7h.6v.6h-.6zM268.6 318.6h.6v.6h-.6zM267.3 316.4h.6v.6h-.6zM274.0 310.0h.6v.6h-.6zM264.5 309.0h.6v.6h-.6zM260.3 307.3h.6v.6h-.6zM262.4 318.2h.6v.6h-.6zM266.7 295.9h.6v.6h-.6zM274.0 313.0h.6v.6h-.6zM268.8 323.6h.6v.6h-.6zM274.9 311.2h.6v.6h-.6zM268.2 292.8h.6v.6h-.6zM273.5 316.6h.6v.6h-.6zM268.4 302.1h.6v.6h-.6zM271.1 300.6h.6v.6h-.6zM271.3 315.4h.6v.6h-.6zM278.4 312.4h.6v.6h-.6zM272.2 315.3h.6v.6h-.6zM277.9 308.8h.6v.6h-.6zM265.4 305.9h.6v.6h-.6zM265.3 305.3h.6v.6h-.6zM270.7 312.8h.6v.6h-.6zM272.0 311.2h.6v.6h-.6zM269.6 313.3h.6v.6h-.6zM275.5 315.4h.6v.6h-.6zM278.4 309.0h.6v.6h-.6zM270.1 321.1h.6v.6h-.6zM272.2 313.3h.6v.6h-.6zM269.7 316.7h.6v.6h-.6zM269.3 304.6h.6v.6h-.6zM271.0 308.1h.6v.6h-.6zM275.2 308.4h.6v.6h-.6zM271.8 309.4h.6v.6h-.6zM272.9 306.9h.6v.6h-.6zM276.5 302.1h.6v.6h-.6zM269.4 306.4h.6v.6h-.6zM274.3 311.0h.6v.6h-.6zM273.6 308.7h.6v.6h-.6zM267.8 303.9h.6v.6h-.6zM269.7 307.5h.6v.6h-.6zM272.6 312.9h.6v.6h-.6zM275.9 310.1h.6v.6h-.6zM267.7 304.3h.6v.6h-.6zM271.5 312.9h.6v.6h-.6zM280.5 311.9h.6v.6h-.6zM279.6 322.2h.6v.6h-.6zM266.3 318.1h.6v.6h-.6zM276.7 318.9h.6v.6h-.6zM271.2 316.6h.6v.6h-.6zM269.0 310.3h.6v.6h-.6zM271.3 321.6h.6v.6h-.6zM270.2 316.6h.6v.6h-.6zM271.6 306.4h.6v.6h-.6zM272.4 314.8h.6v.6h-.6zM267.9 314.6h.6v.6h-.6zM267.9 305.4h.6v.6h-.6zM272.3 309.3h.6v.6h-.6zM266.6 300.8h.6v.6h-.6zM271.4 312.2h.6v.6h-.6zM269.1 311.9h.6v.6h-.6zM264.0 313.1h.6v.6h-.6zM273.2 312.4h.6v.6h-.6zM268.3 311.2h.6v.6h-.6zM271.9 317.3h.6v.6h-.6zM272.6 312.3h.6v.6h-.6zM267.8 316.0h.6v.6h-.6zM276.8 307.7h.6v.6h-.6zM274.3 312.6h.6v.6h-.6zM271.0 302.9h.6v.6h-.6zM279.6 299.4h.6v.6h-.6zM272.7 308.5h.6v.6h-.6zM276.7 308.2h.6v.6h-.6zM271.4 314.5h.6v.6h-.6zM273.4 307.6h.6v.6h-.6zM274.5 313.1h.6v.6h-.6zM276.0 307.6h.6v.6h-.6zM271.0 308.4h.6v.6h-.6zM267.3 312.3h.6v.6h-.6zM273.2 319.4h.6v.6h-.6zM269.7 313.1h.6v.6h-.6zM276.7 310.1h.6v.6h-.6zM271.6 311.6h.6v.6h-.6zM268.0 304.7h.6v.6h-.6zM276.6 311.8h.6v.6h-.6zM270.9 303.2h.6v.6h-.6zM271.8 317.9h.6v.6h-.6zM265.8 305.3h.6v.6h-.6zM276.5 319.4h.6v.6h-.6zM278.6 307.4h.6v.6h-.6zM274.1 306.2h.6v.6h-.6zM273.7 308.5h.6v.6h-.6zM272.2 318.9h.6v.6h-.6zM272.9 309.3h.6v.6h-.6zM271.5 312.4h.6v.6h-.6zM268.8 312.0h.6v.6h-.6zM274.1 320.2h.6v.6h-.6zM261.5 303.5h.6v.6h-.6zM265.4 316.1h.6v.6h-.6zM282.8 311.9h.6v.6h-.6zM271.8 317.6h.6v.6h-.6zM259.7 309.7h.6v.6h-.6zM256.5 311.7h.6v.6h-.6zM268.8 307.8h.6v.6h-.6zM272.9 307.2h.6v.6h-.6zM276.5 310.7h.6v.6h-.6zM273.1 326.1h.6v.6h-.6zM269.1 316.4h.6v.6h-.6zM267.3 318.3h.6v.6h-.6zM275.8 311.6h.6v.6h-.6zM275.9 320.5h.6v.6h-.6zM277.8 310.8h.6v.6h-.6zM271.0 317.4h.6v.6h-.6zM264.3 307.1h.6v.6h-.6zM273.5 314.2h.6v.6h-.6zM280.0 321.4h.6v.6h-.6zM272.8 313.4h.6v.6h-.6zM265.0 309.6h.6v.6h-.6zM272.5 309.4h.6v.6h-.6zM271.5 314.4h.6v.6h-.6zM266.8 307.3h.6v.6h-.6zM262.9 317.7h.6v.6h-.6zM266.3 300.5h.6v.6h-.6zM274.9 309.5h.6v.6h-.6zM275.8 308.5h.6v.6h-.6zM281.3 315.1h.6v.6h-.6zM272.0 311.4h.6v.6h-.6zM270.3 315.6h.6v.6h-.6zM280.7 308.2h.6v.6h-.6zM266.1 314.3h.6v.6h-.6zM276.3 301.8h.6v.6h-.6zM268.0 304.8h.6v.6h-.6zM273.9 313.8h.6v.6h-.6zM267.8 304.0h.6v.6h-.6zM274.5 298.4h.6v.6h-.6zM274.3 309.8h.6v.6h-.6zM280.3 316.7h.6v.6h-.6zM268.5 309.1h.6v.6h-.6zM270.0 306.4h.6v.6h-.6zM271.6 316.5h.6v.6h-.6zM264.2 309.4h.6v.6h-.6zM278.3 315.2h.6v.6h-.6zM267.4 305.9h.6v.6h-.6zM267.2 301.1h.6v.6h-.6zM276.7 311.2h.6v.6h-.6zM268.0 302.1h.6v.6h-.6zM269.5 307.7h.6v.6h-.6zM279.3 308.0h.6v.6h-.6z"/>
<path fill="#d0d0ff" d="M291.6 291.8h.6v.6h-.6zM294.2 287.8h.6v.6h-.6zM280.9 292.9h.6v.6h-.6zM293.9 287.0h.6v.6h-.6zM290.7 285.4h.6v.6h-.6zM286.9 283.7h.6v.6h-.6zM293.5 290.1h.6v.6h-.6zM291.9 290.9h.6v.6h-.6zM293.6 288.8h.6v.6h-.6zM287.0 290.3h.6v.6h-.6zM296.7 290.4h.6v.6h-.6zM296.9 286.9h.6v.6h-.6zM286.5 292.4h.6v.6h-.6zM288.4 289.2h.6v.6h-.6zM290.2 288.5h.6v.6h-.6zM289.8 286.7h.6v.6h-.6zM282.8 294.5h.6v.6h-.6zM292.1 282.3h.6v.6h-.6zM286.9 284.8h.6v.6h-.6zM287.6 280.3h.6v.6h-.6zM293.8 293.6h.6v.6h-.6zM290.0 290.8h.6v.6h-.6zM293.9 284.5h.6v.6h-.6zM296.8 283.1h.6v.6h-.6zM288.4 287.3h.6v.6h-.6z"/>
<g filter="url(#bl08)">
<polygon points="265.3,281.1 283.6,281.1 285.1,285.2 282.8,297.4 265.3,297.4" fill="#1818ff"/>
<polygon points="265.3,296.5 282.8,296.5 278.0,304.7 273.2,312.0 268.5,316.0 265.3,316.8" fill="#1818ff" opacity="0.55"/>
<polygon points="265.3,296.5 278.8,296.5 275.2,304.7 270.1,310.8 265.3,312.8" fill="#1818ff" opacity="0.5"/>
<ellipse cx="273.2" cy="290.0" rx="8.7" ry="6.9" fill="#0048ff"/>
<ellipse cx="273.6" cy="287.2" rx="7.9" ry="3.2" fill="#00c8ff"/>
<ellipse cx="273.2" cy="292.9" rx="7.1" ry="2.8" fill="#00c8ff"/>
<ellipse cx="273.2" cy="287.0" rx="6.7" ry="2.0" fill="#18e040"/>
<ellipse cx="272.8" cy="292.9" rx="6.0" ry="1.8" fill="#18e040"/>
<ellipse cx="272.0" cy="287.0" rx="4.0" ry="1.0" fill="#d0f000" opacity="0.5"/>
<ellipse cx="271.7" cy="292.9" rx="3.2" ry="0.9" fill="#d0f000" opacity="0.35"/>
</g></g>
<polyline points="265.3,295.3 305.0,295.3" fill="none" stroke="#b05aa0" stroke-width="0.8"/>
<polyline points="288.7,280.3 288.7,295.3" fill="none" stroke="#b05aa0" stroke-width="0.8"/>
<text x="266.9" y="312.8" font-size="6.8" fill="#b05aa0" stroke="#b05aa0" stroke-width="0.18" >93</text>
<text x="303.0" y="312.8" font-size="6.8" text-anchor="end" fill="#b05aa0" stroke="#b05aa0" stroke-width="0.18" >0</text>
<rect x="265.3" y="280.3" width="39.69999999999999" height="40.599999999999966" fill="none" stroke="#111" stroke-width="1"/>
<path d="M262.1 317.0H265.3M262.1 311.6H265.3M263.3 308.8H265.3M263.3 307.1H265.3M263.3 305.9H265.3M263.3 305.0H265.3M263.3 304.3H265.3M263.3 303.7H265.3M263.3 303.1H265.3M263.3 302.7H265.3M262.1 302.2H265.3M263.3 299.3H265.3M263.3 297.6H265.3M263.3 296.4H265.3M263.3 295.4H265.3M263.3 294.6H265.3M263.3 294.0H265.3M263.3 293.4H265.3M263.3 292.9H265.3M262.1 292.5H265.3M263.3 289.7H265.3M263.3 288.0H265.3M263.3 286.9H265.3M263.3 286.0H265.3M263.3 285.2H265.3M263.3 284.6H265.3M263.3 284.0H265.3M263.3 283.6H265.3M262.1 283.1H265.3M263.3 315.7H265.3M263.3 314.3H265.3M263.3 312.9H265.3M268.9 320.9V324.1M273.2 320.9V324.1M276.1 320.9V322.9M277.8 320.9V322.9M279.0 320.9V322.9M279.9 320.9V322.9M280.7 320.9V322.9M281.3 320.9V322.9M281.8 320.9V322.9M282.3 320.9V322.9M282.8 320.9V324.1M285.5 320.9V322.9M287.1 320.9V322.9M288.3 320.9V322.9M289.2 320.9V322.9M289.9 320.9V322.9M290.5 320.9V322.9M291.0 320.9V322.9M291.5 320.9V322.9M291.9 320.9V324.1M294.6 320.9V322.9M296.3 320.9V322.9M297.4 320.9V322.9M298.3 320.9V322.9M299.0 320.9V322.9M299.6 320.9V322.9M300.1 320.9V322.9M300.6 320.9V322.9M301.0 320.9V324.1M270.0 320.9V322.9M271.1 320.9V322.9M272.1 320.9V322.9" stroke="#111" stroke-width="0.75"/>
<text x="220.4" y="277.8" font-size="6" fill="#333" stroke="#333" stroke-width="0.18" textLength="14" lengthAdjust="spacingAndGlyphs" >MHC-I</text>
<line x1="238.3" y1="274.8" x2="296.8" y2="274.8" stroke="#111" stroke-width="0.9"/>
<path d="M300.8 274.8 L295.8 272.6 L295.8 277.0 Z" fill="#111"/>
<text x="220.2" y="336.6" font-size="6" fill="#333" stroke="#333" stroke-width="0.18" textLength="14.5" lengthAdjust="spacingAndGlyphs" >MHC-II</text>
<line x1="238.3" y1="334.4" x2="296.8" y2="334.4" stroke="#111" stroke-width="0.9"/>
<path d="M300.8 334.4 L295.8 332.2 L295.8 336.59999999999997 Z" fill="#111"/>
<line x1="200.8" y1="228.2" x2="200.8" y2="290" stroke="#111" stroke-width="0.9"/>
<path d="M200.8 224.2 L198.60000000000002 229.2 L203.0 229.2 Z" fill="#111"/>
<text x="202.4" y="303.6" font-size="6" text-anchor="middle" fill="#333" stroke="#333" stroke-width="0.18" transform="rotate(-90 202.4 303.6)" >CD138</text>
<text x="326" y="222.8" font-size="14" fill="#000" font-weight="bold" >I</text>
<text x="392.9" y="218.3" font-size="6.5" text-anchor="middle" stroke="#231f20" stroke-width="0.18" >4935</text>
<text x="438.5" y="218.3" font-size="6.5" text-anchor="middle" stroke="#231f20" stroke-width="0.18" >4938</text>
<clipPath id="c372_221"><rect x="372.3" y="221.2" width="40.39999999999998" height="40.30000000000001"/></clipPath>
<g clip-path="url(#c372_221)">
<path fill="#8088ff" d="M384.5 248.4h.6v.6h-.6zM379.1 240.4h.6v.6h-.6zM379.9 247.8h.6v.6h-.6zM382.5 259.5h.6v.6h-.6zM382.5 247.6h.6v.6h-.6zM379.0 261.3h.6v.6h-.6zM380.4 247.3h.6v.6h-.6zM386.7 261.0h.6v.6h-.6zM381.8 246.5h.6v.6h-.6zM377.1 256.7h.6v.6h-.6zM377.8 255.7h.6v.6h-.6zM376.5 248.3h.6v.6h-.6zM381.2 248.7h.6v.6h-.6zM380.5 250.7h.6v.6h-.6zM375.1 237.8h.6v.6h-.6zM379.0 263.0h.6v.6h-.6zM379.1 239.4h.6v.6h-.6zM377.0 247.7h.6v.6h-.6zM384.2 242.5h.6v.6h-.6zM381.8 249.0h.6v.6h-.6zM378.2 239.2h.6v.6h-.6zM379.0 241.1h.6v.6h-.6zM381.7 232.1h.6v.6h-.6zM384.0 254.0h.6v.6h-.6zM381.9 260.4h.6v.6h-.6zM382.0 232.6h.6v.6h-.6zM379.8 251.3h.6v.6h-.6zM376.9 237.6h.6v.6h-.6zM381.3 251.8h.6v.6h-.6zM377.9 245.3h.6v.6h-.6zM377.6 242.5h.6v.6h-.6zM379.3 256.7h.6v.6h-.6zM373.2 244.5h.6v.6h-.6zM385.9 250.1h.6v.6h-.6zM380.2 254.6h.6v.6h-.6zM375.6 236.9h.6v.6h-.6zM373.0 234.8h.6v.6h-.6zM380.6 254.7h.6v.6h-.6zM377.9 241.5h.6v.6h-.6zM381.2 252.7h.6v.6h-.6zM380.6 230.9h.6v.6h-.6zM377.4 225.5h.6v.6h-.6zM380.5 240.1h.6v.6h-.6zM377.0 260.4h.6v.6h-.6zM384.8 251.6h.6v.6h-.6zM380.7 248.9h.6v.6h-.6zM377.3 247.0h.6v.6h-.6zM387.1 239.8h.6v.6h-.6zM377.0 248.8h.6v.6h-.6zM383.1 254.6h.6v.6h-.6zM375.8 246.3h.6v.6h-.6zM378.5 236.8h.6v.6h-.6zM379.9 243.2h.6v.6h-.6zM383.2 251.1h.6v.6h-.6zM376.5 248.1h.6v.6h-.6zM378.2 241.9h.6v.6h-.6zM377.7 256.6h.6v.6h-.6zM377.9 232.6h.6v.6h-.6zM376.5 254.4h.6v.6h-.6zM388.0 238.3h.6v.6h-.6zM378.2 244.6h.6v.6h-.6zM374.0 250.9h.6v.6h-.6zM379.4 249.8h.6v.6h-.6zM388.4 245.1h.6v.6h-.6zM382.7 254.6h.6v.6h-.6zM377.1 242.3h.6v.6h-.6zM385.7 253.6h.6v.6h-.6zM380.1 238.0h.6v.6h-.6zM383.0 251.9h.6v.6h-.6zM388.2 260.1h.6v.6h-.6zM382.7 249.7h.6v.6h-.6zM379.8 242.6h.6v.6h-.6zM380.8 249.5h.6v.6h-.6zM382.1 256.8h.6v.6h-.6zM380.8 242.7h.6v.6h-.6zM382.7 260.8h.6v.6h-.6zM376.3 251.0h.6v.6h-.6zM381.7 252.0h.6v.6h-.6zM381.6 246.6h.6v.6h-.6zM379.2 261.9h.6v.6h-.6zM386.4 235.3h.6v.6h-.6zM369.6 251.2h.6v.6h-.6zM376.9 242.9h.6v.6h-.6zM373.3 250.4h.6v.6h-.6zM379.4 242.7h.6v.6h-.6zM383.1 268.4h.6v.6h-.6zM385.4 257.5h.6v.6h-.6zM378.0 253.1h.6v.6h-.6zM379.4 257.4h.6v.6h-.6zM381.9 247.1h.6v.6h-.6zM381.7 241.2h.6v.6h-.6zM382.7 260.4h.6v.6h-.6zM378.2 252.2h.6v.6h-.6zM373.0 255.5h.6v.6h-.6zM383.0 238.6h.6v.6h-.6zM386.4 248.4h.6v.6h-.6zM372.8 235.6h.6v.6h-.6zM383.0 245.1h.6v.6h-.6zM383.9 234.0h.6v.6h-.6zM379.2 255.8h.6v.6h-.6zM376.9 253.3h.6v.6h-.6zM378.2 250.4h.6v.6h-.6zM380.8 266.6h.6v.6h-.6zM374.7 254.1h.6v.6h-.6zM384.7 237.7h.6v.6h-.6zM379.9 267.3h.6v.6h-.6zM383.7 221.8h.6v.6h-.6zM378.6 232.7h.6v.6h-.6zM380.8 241.1h.6v.6h-.6zM377.4 240.2h.6v.6h-.6zM380.7 243.4h.6v.6h-.6zM376.0 245.4h.6v.6h-.6zM381.2 240.0h.6v.6h-.6zM383.9 233.1h.6v.6h-.6zM381.2 244.0h.6v.6h-.6zM385.7 241.9h.6v.6h-.6zM377.0 235.8h.6v.6h-.6zM387.4 252.7h.6v.6h-.6zM375.3 244.5h.6v.6h-.6zM375.8 260.5h.6v.6h-.6zM381.2 229.9h.6v.6h-.6zM380.4 255.3h.6v.6h-.6zM379.6 251.5h.6v.6h-.6zM379.1 249.2h.6v.6h-.6zM380.4 241.3h.6v.6h-.6zM380.9 248.8h.6v.6h-.6zM379.4 241.5h.6v.6h-.6zM375.6 249.5h.6v.6h-.6zM382.8 226.6h.6v.6h-.6zM377.5 259.1h.6v.6h-.6zM383.2 241.3h.6v.6h-.6zM384.9 238.9h.6v.6h-.6zM376.5 264.1h.6v.6h-.6zM377.9 245.5h.6v.6h-.6zM373.1 238.7h.6v.6h-.6zM375.0 246.2h.6v.6h-.6zM372.4 256.6h.6v.6h-.6zM378.2 242.2h.6v.6h-.6zM377.1 253.8h.6v.6h-.6zM385.6 243.9h.6v.6h-.6zM385.9 261.3h.6v.6h-.6zM384.8 250.0h.6v.6h-.6zM373.7 253.2h.6v.6h-.6zM378.0 249.1h.6v.6h-.6zM372.2 245.0h.6v.6h-.6zM380.5 239.3h.6v.6h-.6zM380.7 261.8h.6v.6h-.6zM380.5 241.5h.6v.6h-.6zM388.9 228.8h.6v.6h-.6zM376.0 250.9h.6v.6h-.6z"/>
<path fill="#c0c4ff" d="M383.8 218.4h.6v.6h-.6zM390.5 255.2h.6v.6h-.6zM382.2 262.6h.6v.6h-.6zM392.4 259.4h.6v.6h-.6zM376.5 245.3h.6v.6h-.6zM401.0 269.1h.6v.6h-.6zM398.8 245.4h.6v.6h-.6zM389.9 238.0h.6v.6h-.6zM397.1 237.2h.6v.6h-.6zM389.4 221.1h.6v.6h-.6zM376.6 266.3h.6v.6h-.6zM388.9 247.9h.6v.6h-.6zM371.2 245.0h.6v.6h-.6zM404.8 227.8h.6v.6h-.6zM369.7 243.5h.6v.6h-.6zM384.3 242.9h.6v.6h-.6zM378.6 229.4h.6v.6h-.6zM378.7 252.9h.6v.6h-.6zM388.1 255.1h.6v.6h-.6zM380.0 252.3h.6v.6h-.6zM385.0 246.4h.6v.6h-.6zM395.8 245.8h.6v.6h-.6zM385.7 225.7h.6v.6h-.6zM389.0 254.6h.6v.6h-.6zM383.5 244.6h.6v.6h-.6zM374.5 229.6h.6v.6h-.6zM391.6 260.7h.6v.6h-.6zM386.0 225.6h.6v.6h-.6zM385.5 226.9h.6v.6h-.6zM386.3 268.2h.6v.6h-.6zM390.8 243.6h.6v.6h-.6zM396.7 240.9h.6v.6h-.6zM391.1 247.8h.6v.6h-.6zM392.0 228.0h.6v.6h-.6zM394.1 255.8h.6v.6h-.6zM370.4 213.2h.6v.6h-.6zM381.4 263.1h.6v.6h-.6zM388.6 253.4h.6v.6h-.6zM392.9 255.9h.6v.6h-.6zM383.4 238.4h.6v.6h-.6z"/>
<ellipse cx="379.2" cy="247.8" rx="6.5" ry="14.5" fill="url(#hz)" opacity="0.45"/>
<ellipse cx="384.4" cy="245.4" rx="14.1" ry="16.1" fill="url(#hz)" opacity="0.2"/>
<g filter="url(#bl08)">
<ellipse cx="374.7" cy="233.7" rx="12.1" ry="7.3" fill="#1818ff"/>
<ellipse cx="384.4" cy="234.1" rx="4.8" ry="3.2" fill="#1818ff" opacity="0.6"/>
<ellipse cx="374.7" cy="233.7" rx="8.9" ry="5.4" fill="#0048ff"/>
<ellipse cx="374.7" cy="233.7" rx="5.9" ry="3.5" fill="#00c8ff"/>
<ellipse cx="374.7" cy="233.7" rx="3.1" ry="1.8" fill="#18e040"/>
</g></g>
<polyline points="387.9,221.2 387.9,245.8 412.7,245.8" fill="none" stroke="#b05aa0" stroke-width="0.8"/>
<text x="410.7" y="229.3" font-size="6.8" text-anchor="end" fill="#b05aa0" stroke="#b05aa0" stroke-width="0.18" >0.1</text>
<rect x="372.3" y="221.2" width="40.39999999999998" height="40.30000000000001" fill="none" stroke="#111" stroke-width="1"/>
<path d="M369.1 257.7H372.3M369.1 252.2H372.3M370.3 249.4H372.3M370.3 247.8H372.3M370.3 246.7H372.3M370.3 245.8H372.3M370.3 245.0H372.3M370.3 244.4H372.3M370.3 243.9H372.3M370.3 243.4H372.3M369.1 243.0H372.3M370.3 240.1H372.3M370.3 238.3H372.3M370.3 237.1H372.3M370.3 236.2H372.3M370.3 235.4H372.3M370.3 234.8H372.3M370.3 234.2H372.3M370.3 233.7H372.3M369.1 233.3H372.3M370.3 230.5H372.3M370.3 228.9H372.3M370.3 227.7H372.3M370.3 226.8H372.3M370.3 226.1H372.3M370.3 225.5H372.3M370.3 224.9H372.3M370.3 224.4H372.3M369.1 224.0H372.3M370.3 256.3H372.3M370.3 255.0H372.3M370.3 253.6H372.3M375.9 261.5V264.7M380.4 261.5V264.7M383.3 261.5V263.5M385.0 261.5V263.5M386.2 261.5V263.5M387.2 261.5V263.5M387.9 261.5V263.5M388.6 261.5V263.5M389.1 261.5V263.5M389.6 261.5V263.5M390.1 261.5V264.7M392.9 261.5V263.5M394.5 261.5V263.5M395.7 261.5V263.5M396.6 261.5V263.5M397.3 261.5V263.5M397.9 261.5V263.5M398.5 261.5V263.5M398.9 261.5V263.5M399.4 261.5V264.7M402.2 261.5V263.5M403.8 261.5V263.5M405.0 261.5V263.5M405.9 261.5V263.5M406.6 261.5V263.5M407.2 261.5V263.5M407.8 261.5V263.5M408.2 261.5V263.5M408.7 261.5V264.7M377.0 261.5V263.5M378.2 261.5V263.5M379.3 261.5V263.5" stroke="#111" stroke-width="0.75"/>
<clipPath id="c418_221"><rect x="418.3" y="221.2" width="40.89999999999998" height="40.30000000000001"/></clipPath>
<g clip-path="url(#c418_221)">
<path fill="#8088ff" d="M427.2 252.7h.6v.6h-.6zM428.0 250.4h.6v.6h-.6zM423.7 257.0h.6v.6h-.6zM427.6 256.7h.6v.6h-.6zM415.4 256.2h.6v.6h-.6zM415.9 249.2h.6v.6h-.6zM423.0 248.4h.6v.6h-.6zM423.7 244.7h.6v.6h-.6zM426.4 250.4h.6v.6h-.6zM422.4 225.3h.6v.6h-.6zM422.5 252.1h.6v.6h-.6zM422.3 251.1h.6v.6h-.6zM424.2 239.2h.6v.6h-.6zM430.4 261.9h.6v.6h-.6zM425.2 247.0h.6v.6h-.6zM429.5 235.8h.6v.6h-.6zM422.1 257.3h.6v.6h-.6zM429.3 243.1h.6v.6h-.6zM422.5 250.5h.6v.6h-.6zM420.0 243.0h.6v.6h-.6zM424.7 225.8h.6v.6h-.6zM428.0 254.1h.6v.6h-.6zM430.0 234.8h.6v.6h-.6zM420.5 240.2h.6v.6h-.6zM420.4 265.4h.6v.6h-.6zM421.7 244.6h.6v.6h-.6zM426.5 251.4h.6v.6h-.6zM431.5 237.8h.6v.6h-.6zM429.2 248.7h.6v.6h-.6zM420.9 248.7h.6v.6h-.6zM420.0 261.6h.6v.6h-.6zM422.7 256.2h.6v.6h-.6zM430.9 242.0h.6v.6h-.6zM422.0 248.5h.6v.6h-.6zM421.4 255.3h.6v.6h-.6zM426.4 240.7h.6v.6h-.6zM422.9 253.8h.6v.6h-.6zM419.8 262.3h.6v.6h-.6zM422.5 245.7h.6v.6h-.6zM421.9 261.7h.6v.6h-.6zM429.0 258.9h.6v.6h-.6zM428.3 248.2h.6v.6h-.6zM432.6 253.3h.6v.6h-.6zM427.4 252.5h.6v.6h-.6zM428.7 249.9h.6v.6h-.6zM425.0 233.3h.6v.6h-.6zM434.0 235.9h.6v.6h-.6zM416.9 241.1h.6v.6h-.6zM433.5 258.2h.6v.6h-.6zM423.2 249.7h.6v.6h-.6zM425.6 229.9h.6v.6h-.6zM424.3 250.0h.6v.6h-.6zM430.4 236.8h.6v.6h-.6zM416.5 233.5h.6v.6h-.6zM427.0 248.1h.6v.6h-.6zM426.3 248.7h.6v.6h-.6zM424.2 235.3h.6v.6h-.6zM427.5 250.8h.6v.6h-.6zM428.0 258.4h.6v.6h-.6zM420.6 226.7h.6v.6h-.6zM418.4 266.3h.6v.6h-.6zM421.9 250.9h.6v.6h-.6zM425.6 253.8h.6v.6h-.6zM438.8 242.8h.6v.6h-.6zM425.0 242.1h.6v.6h-.6zM426.7 252.0h.6v.6h-.6zM421.7 259.1h.6v.6h-.6zM430.3 251.3h.6v.6h-.6zM425.2 245.3h.6v.6h-.6zM418.9 253.2h.6v.6h-.6zM421.7 242.9h.6v.6h-.6zM429.7 239.2h.6v.6h-.6zM423.5 255.0h.6v.6h-.6zM433.3 241.3h.6v.6h-.6zM430.2 241.6h.6v.6h-.6zM427.2 251.7h.6v.6h-.6zM421.0 256.5h.6v.6h-.6zM433.0 247.9h.6v.6h-.6zM426.8 237.0h.6v.6h-.6zM433.0 248.0h.6v.6h-.6zM420.4 254.2h.6v.6h-.6zM419.7 241.3h.6v.6h-.6zM416.9 259.6h.6v.6h-.6zM434.7 241.8h.6v.6h-.6zM423.0 242.3h.6v.6h-.6zM423.3 252.3h.6v.6h-.6zM431.6 238.5h.6v.6h-.6zM427.5 231.4h.6v.6h-.6zM431.9 246.6h.6v.6h-.6zM422.8 261.0h.6v.6h-.6zM425.2 259.5h.6v.6h-.6zM430.1 262.1h.6v.6h-.6zM422.4 247.9h.6v.6h-.6zM427.2 245.7h.6v.6h-.6zM431.9 241.1h.6v.6h-.6zM429.8 259.5h.6v.6h-.6zM417.7 238.8h.6v.6h-.6zM422.0 242.6h.6v.6h-.6zM427.3 245.9h.6v.6h-.6zM426.0 243.3h.6v.6h-.6zM425.3 251.7h.6v.6h-.6zM428.7 240.5h.6v.6h-.6zM425.2 240.6h.6v.6h-.6zM424.9 234.7h.6v.6h-.6zM429.6 253.3h.6v.6h-.6zM425.2 241.3h.6v.6h-.6zM423.8 241.5h.6v.6h-.6zM419.3 261.9h.6v.6h-.6zM439.1 236.5h.6v.6h-.6zM420.9 252.5h.6v.6h-.6zM428.1 233.4h.6v.6h-.6zM417.8 252.2h.6v.6h-.6zM417.5 260.0h.6v.6h-.6zM423.6 248.2h.6v.6h-.6zM425.6 242.4h.6v.6h-.6zM425.1 244.7h.6v.6h-.6zM430.8 246.6h.6v.6h-.6zM425.5 242.7h.6v.6h-.6zM423.1 240.9h.6v.6h-.6zM425.7 263.7h.6v.6h-.6zM430.2 249.5h.6v.6h-.6zM432.5 256.4h.6v.6h-.6zM426.5 245.9h.6v.6h-.6zM421.2 249.6h.6v.6h-.6zM424.4 233.3h.6v.6h-.6zM420.4 264.6h.6v.6h-.6zM426.5 251.8h.6v.6h-.6zM426.5 243.3h.6v.6h-.6zM427.5 257.0h.6v.6h-.6zM424.4 251.9h.6v.6h-.6zM429.9 243.1h.6v.6h-.6zM426.4 240.8h.6v.6h-.6zM428.1 244.1h.6v.6h-.6zM430.4 240.6h.6v.6h-.6zM432.6 244.6h.6v.6h-.6zM422.2 239.4h.6v.6h-.6zM428.4 239.8h.6v.6h-.6zM433.0 258.8h.6v.6h-.6zM427.8 234.8h.6v.6h-.6zM425.6 241.0h.6v.6h-.6zM418.3 251.2h.6v.6h-.6zM434.7 242.6h.6v.6h-.6zM429.0 258.8h.6v.6h-.6zM421.7 244.4h.6v.6h-.6zM426.8 251.6h.6v.6h-.6zM421.0 249.3h.6v.6h-.6zM425.2 255.8h.6v.6h-.6zM419.1 242.4h.6v.6h-.6zM423.6 244.6h.6v.6h-.6zM428.6 241.8h.6v.6h-.6z"/>
<path fill="#c0c4ff" d="M457.1 236.8h.6v.6h-.6zM441.5 257.7h.6v.6h-.6zM442.6 242.9h.6v.6h-.6zM427.9 242.3h.6v.6h-.6zM440.1 246.8h.6v.6h-.6zM439.4 252.3h.6v.6h-.6zM427.4 234.1h.6v.6h-.6zM446.4 239.5h.6v.6h-.6zM421.7 267.9h.6v.6h-.6zM427.8 234.1h.6v.6h-.6zM442.6 231.7h.6v.6h-.6zM427.5 258.1h.6v.6h-.6zM428.0 275.7h.6v.6h-.6zM435.5 277.8h.6v.6h-.6zM435.7 246.0h.6v.6h-.6zM429.4 242.7h.6v.6h-.6zM430.6 245.1h.6v.6h-.6zM441.0 230.0h.6v.6h-.6zM427.2 220.1h.6v.6h-.6zM447.0 244.5h.6v.6h-.6zM434.5 244.7h.6v.6h-.6zM442.9 249.3h.6v.6h-.6zM441.6 243.4h.6v.6h-.6zM433.7 244.7h.6v.6h-.6zM419.4 258.6h.6v.6h-.6zM421.8 233.4h.6v.6h-.6zM440.1 246.0h.6v.6h-.6zM441.3 266.0h.6v.6h-.6zM449.9 262.1h.6v.6h-.6zM432.8 270.2h.6v.6h-.6zM427.5 244.3h.6v.6h-.6zM442.8 242.8h.6v.6h-.6zM433.7 241.1h.6v.6h-.6zM445.8 215.6h.6v.6h-.6zM445.1 258.2h.6v.6h-.6zM434.1 252.2h.6v.6h-.6zM426.7 258.8h.6v.6h-.6zM459.7 234.3h.6v.6h-.6zM446.1 244.7h.6v.6h-.6zM431.9 239.5h.6v.6h-.6z"/>
<ellipse cx="425.3" cy="247.8" rx="6.5" ry="14.5" fill="url(#hz)" opacity="0.45"/>
<ellipse cx="430.6" cy="245.4" rx="14.3" ry="16.1" fill="url(#hz)" opacity="0.2"/>
<g filter="url(#bl08)">
<ellipse cx="422.4" cy="233.3" rx="11.5" ry="6.9" fill="#1818ff"/>
<ellipse cx="431.4" cy="234.1" rx="4.1" ry="3.2" fill="#1818ff" opacity="0.5"/>
<ellipse cx="422.4" cy="233.3" rx="9.7" ry="5.8" fill="#0048ff"/>
<ellipse cx="422.4" cy="233.3" rx="7.9" ry="4.7" fill="#00c8ff"/>
<ellipse cx="422.4" cy="233.3" rx="6.2" ry="3.7" fill="#18e040"/>
<ellipse cx="422.4" cy="233.3" rx="4.6" ry="2.7" fill="#d0f000"/>
<ellipse cx="422.4" cy="233.3" rx="3.0" ry="1.8" fill="#ff9000"/>
<ellipse cx="422.4" cy="233.3" rx="1.6" ry="0.9" fill="#ff0800"/>
</g></g>
<polyline points="435.1,221.2 435.1,245.4 459.2,245.4" fill="none" stroke="#b05aa0" stroke-width="0.8"/>
<text x="457.2" y="229.3" font-size="6.8" text-anchor="end" fill="#b05aa0" stroke="#b05aa0" stroke-width="0.18" >0</text>
<rect x="418.3" y="221.2" width="40.89999999999998" height="40.30000000000001" fill="none" stroke="#111" stroke-width="1"/>
<path d="M415.1 257.7H418.3M415.1 252.2H418.3M416.3 249.4H418.3M416.3 247.8H418.3M416.3 246.7H418.3M416.3 245.8H418.3M416.3 245.0H418.3M416.3 244.4H418.3M416.3 243.9H418.3M416.3 243.4H418.3M415.1 243.0H418.3M416.3 240.1H418.3M416.3 238.3H418.3M416.3 237.1H418.3M416.3 236.2H418.3M416.3 235.4H418.3M416.3 234.8H418.3M416.3 234.2H418.3M416.3 233.7H418.3M415.1 233.3H418.3M416.3 230.5H418.3M416.3 228.9H418.3M416.3 227.7H418.3M416.3 226.8H418.3M416.3 226.1H418.3M416.3 225.5H418.3M416.3 224.9H418.3M416.3 224.4H418.3M415.1 224.0H418.3M416.3 256.3H418.3M416.3 255.0H418.3M416.3 253.6H418.3M422.0 261.5V264.7M426.5 261.5V264.7M429.4 261.5V263.5M431.2 261.5V263.5M432.4 261.5V263.5M433.3 261.5V263.5M434.1 261.5V263.5M434.8 261.5V263.5M435.3 261.5V263.5M435.8 261.5V263.5M436.3 261.5V264.7M439.1 261.5V263.5M440.8 261.5V263.5M442.0 261.5V263.5M442.9 261.5V263.5M443.6 261.5V263.5M444.2 261.5V263.5M444.8 261.5V263.5M445.3 261.5V263.5M445.7 261.5V264.7M448.5 261.5V263.5M450.2 261.5V263.5M451.4 261.5V263.5M452.3 261.5V263.5M453.0 261.5V263.5M453.7 261.5V263.5M454.2 261.5V263.5M454.7 261.5V263.5M455.1 261.5V264.7M423.1 261.5V263.5M424.2 261.5V263.5M425.4 261.5V263.5" stroke="#111" stroke-width="0.75"/>
<clipPath id="c372_266"><rect x="372.5" y="266.3" width="40.30000000000001" height="40.39999999999998"/></clipPath>
<g clip-path="url(#c372_266)">
<path fill="#a4aaff" d="M390.0 286.3h.6v.6h-.6zM373.5 307.5h.6v.6h-.6zM392.4 299.4h.6v.6h-.6zM397.0 298.9h.6v.6h-.6zM371.1 288.5h.6v.6h-.6zM401.6 302.6h.6v.6h-.6zM376.5 291.2h.6v.6h-.6zM377.6 300.1h.6v.6h-.6zM397.5 295.6h.6v.6h-.6zM383.5 297.9h.6v.6h-.6zM393.1 290.0h.6v.6h-.6zM397.4 290.6h.6v.6h-.6zM406.1 299.9h.6v.6h-.6zM383.0 299.7h.6v.6h-.6zM393.6 290.3h.6v.6h-.6zM379.8 283.3h.6v.6h-.6zM376.7 297.9h.6v.6h-.6zM409.7 290.8h.6v.6h-.6zM394.9 297.9h.6v.6h-.6zM403.7 298.6h.6v.6h-.6zM410.0 301.0h.6v.6h-.6zM381.9 298.3h.6v.6h-.6zM359.6 294.1h.6v.6h-.6zM392.9 299.6h.6v.6h-.6zM388.4 301.4h.6v.6h-.6zM411.3 289.3h.6v.6h-.6zM385.0 297.3h.6v.6h-.6zM399.6 296.4h.6v.6h-.6zM404.4 286.8h.6v.6h-.6zM403.6 303.9h.6v.6h-.6zM408.3 298.5h.6v.6h-.6zM389.3 298.3h.6v.6h-.6zM391.6 283.8h.6v.6h-.6zM384.1 295.1h.6v.6h-.6zM385.4 288.6h.6v.6h-.6zM389.4 292.7h.6v.6h-.6zM393.6 295.0h.6v.6h-.6zM395.1 302.6h.6v.6h-.6zM394.6 298.3h.6v.6h-.6zM375.4 274.0h.6v.6h-.6zM387.0 300.3h.6v.6h-.6zM387.9 290.9h.6v.6h-.6zM375.2 301.9h.6v.6h-.6zM385.2 297.2h.6v.6h-.6zM408.6 299.3h.6v.6h-.6zM424.3 294.4h.6v.6h-.6zM406.1 300.4h.6v.6h-.6zM383.4 295.7h.6v.6h-.6zM384.7 287.9h.6v.6h-.6zM396.9 289.8h.6v.6h-.6zM416.3 290.0h.6v.6h-.6zM385.0 296.1h.6v.6h-.6zM385.3 295.8h.6v.6h-.6zM384.1 285.0h.6v.6h-.6zM358.6 286.0h.6v.6h-.6zM414.1 298.6h.6v.6h-.6zM394.8 292.0h.6v.6h-.6zM390.6 297.6h.6v.6h-.6zM373.1 289.6h.6v.6h-.6zM380.1 304.5h.6v.6h-.6zM377.7 303.9h.6v.6h-.6zM386.1 315.2h.6v.6h-.6zM391.5 295.6h.6v.6h-.6zM411.7 301.7h.6v.6h-.6zM405.9 287.6h.6v.6h-.6zM408.7 307.6h.6v.6h-.6zM391.2 291.9h.6v.6h-.6zM377.3 302.8h.6v.6h-.6zM396.8 295.4h.6v.6h-.6zM375.2 307.2h.6v.6h-.6zM405.0 295.2h.6v.6h-.6zM413.5 288.5h.6v.6h-.6zM405.1 288.1h.6v.6h-.6zM412.6 293.4h.6v.6h-.6zM409.9 292.4h.6v.6h-.6zM398.3 303.7h.6v.6h-.6zM379.9 296.1h.6v.6h-.6zM380.8 301.6h.6v.6h-.6zM384.1 292.7h.6v.6h-.6zM389.8 303.9h.6v.6h-.6zM378.0 295.2h.6v.6h-.6zM388.0 291.4h.6v.6h-.6zM381.5 294.2h.6v.6h-.6zM395.4 284.1h.6v.6h-.6zM395.9 286.8h.6v.6h-.6zM392.9 312.0h.6v.6h-.6zM379.0 294.9h.6v.6h-.6zM389.1 302.5h.6v.6h-.6zM386.0 282.4h.6v.6h-.6zM369.9 296.7h.6v.6h-.6zM396.2 303.1h.6v.6h-.6zM385.1 300.2h.6v.6h-.6zM377.6 304.8h.6v.6h-.6zM391.6 290.5h.6v.6h-.6zM395.2 308.1h.6v.6h-.6zM380.7 286.4h.6v.6h-.6zM378.3 287.0h.6v.6h-.6zM391.9 297.9h.6v.6h-.6zM390.3 296.8h.6v.6h-.6zM409.4 293.3h.6v.6h-.6zM375.0 278.8h.6v.6h-.6zM396.1 290.4h.6v.6h-.6zM389.1 298.4h.6v.6h-.6zM399.2 284.0h.6v.6h-.6zM379.1 295.9h.6v.6h-.6zM390.6 303.7h.6v.6h-.6zM385.6 280.4h.6v.6h-.6zM409.2 283.5h.6v.6h-.6zM379.0 298.2h.6v.6h-.6zM377.7 313.5h.6v.6h-.6zM396.0 299.3h.6v.6h-.6zM386.5 311.5h.6v.6h-.6zM400.3 290.2h.6v.6h-.6zM410.3 283.1h.6v.6h-.6zM384.4 297.5h.6v.6h-.6zM394.6 288.4h.6v.6h-.6zM414.9 306.1h.6v.6h-.6zM379.5 298.1h.6v.6h-.6zM383.7 292.2h.6v.6h-.6zM406.6 296.3h.6v.6h-.6zM391.1 296.1h.6v.6h-.6zM376.1 304.3h.6v.6h-.6zM382.1 304.9h.6v.6h-.6zM386.2 292.1h.6v.6h-.6zM413.6 296.8h.6v.6h-.6zM383.6 291.5h.6v.6h-.6zM401.2 309.0h.6v.6h-.6zM401.3 292.5h.6v.6h-.6zM376.8 290.5h.6v.6h-.6zM391.0 297.2h.6v.6h-.6zM383.4 304.7h.6v.6h-.6zM379.1 290.2h.6v.6h-.6zM399.7 298.9h.6v.6h-.6zM387.1 302.4h.6v.6h-.6zM372.8 307.3h.6v.6h-.6zM423.5 309.6h.6v.6h-.6zM394.3 309.7h.6v.6h-.6zM393.4 305.1h.6v.6h-.6zM389.8 296.8h.6v.6h-.6zM400.0 282.7h.6v.6h-.6zM389.7 307.9h.6v.6h-.6zM351.4 298.2h.6v.6h-.6zM405.7 297.8h.6v.6h-.6zM395.4 305.5h.6v.6h-.6zM397.4 281.6h.6v.6h-.6zM379.3 293.2h.6v.6h-.6zM394.7 292.1h.6v.6h-.6zM391.2 307.5h.6v.6h-.6zM351.3 303.8h.6v.6h-.6zM405.9 299.8h.6v.6h-.6zM392.9 295.9h.6v.6h-.6zM397.8 297.1h.6v.6h-.6zM382.4 301.1h.6v.6h-.6zM381.0 295.1h.6v.6h-.6zM387.6 287.0h.6v.6h-.6zM401.2 294.9h.6v.6h-.6zM376.2 294.8h.6v.6h-.6zM373.2 305.8h.6v.6h-.6zM399.9 309.8h.6v.6h-.6zM384.7 300.5h.6v.6h-.6zM379.0 289.2h.6v.6h-.6zM391.4 298.4h.6v.6h-.6zM405.7 293.4h.6v.6h-.6zM408.2 302.4h.6v.6h-.6zM380.3 294.1h.6v.6h-.6zM379.8 307.8h.6v.6h-.6zM384.9 301.8h.6v.6h-.6zM405.5 293.5h.6v.6h-.6zM385.8 297.9h.6v.6h-.6zM381.8 286.2h.6v.6h-.6zM379.1 297.8h.6v.6h-.6zM395.4 308.2h.6v.6h-.6zM367.0 299.0h.6v.6h-.6zM376.4 303.8h.6v.6h-.6zM402.4 296.3h.6v.6h-.6zM413.4 292.7h.6v.6h-.6zM385.2 287.8h.6v.6h-.6zM383.4 296.2h.6v.6h-.6zM402.1 304.7h.6v.6h-.6zM388.9 290.1h.6v.6h-.6zM388.0 292.3h.6v.6h-.6zM386.1 292.5h.6v.6h-.6zM380.4 295.0h.6v.6h-.6zM385.5 294.2h.6v.6h-.6zM373.2 296.4h.6v.6h-.6zM400.7 300.1h.6v.6h-.6zM385.0 287.2h.6v.6h-.6zM374.4 286.9h.6v.6h-.6zM383.6 293.1h.6v.6h-.6zM367.8 300.2h.6v.6h-.6zM371.1 290.4h.6v.6h-.6zM382.5 301.4h.6v.6h-.6zM418.4 292.8h.6v.6h-.6zM388.8 292.6h.6v.6h-.6zM389.9 294.2h.6v.6h-.6zM427.2 287.5h.6v.6h-.6zM391.1 289.7h.6v.6h-.6zM397.6 291.6h.6v.6h-.6zM400.7 287.6h.6v.6h-.6zM422.2 296.9h.6v.6h-.6zM368.0 300.4h.6v.6h-.6zM386.1 287.1h.6v.6h-.6zM398.8 291.7h.6v.6h-.6zM403.0 291.5h.6v.6h-.6zM405.3 296.5h.6v.6h-.6zM397.6 296.5h.6v.6h-.6zM387.6 292.8h.6v.6h-.6zM399.0 300.5h.6v.6h-.6zM387.0 311.5h.6v.6h-.6zM416.3 287.2h.6v.6h-.6zM407.8 294.9h.6v.6h-.6zM395.9 289.7h.6v.6h-.6zM415.7 289.5h.6v.6h-.6zM391.5 290.2h.6v.6h-.6zM419.6 304.4h.6v.6h-.6zM374.3 292.2h.6v.6h-.6zM397.7 292.3h.6v.6h-.6zM387.7 287.7h.6v.6h-.6zM396.1 287.6h.6v.6h-.6zM404.3 312.6h.6v.6h-.6z"/>
<ellipse cx="390.6" cy="295.4" rx="24.2" ry="16.2" fill="url(#hz)" opacity="0.35"/>
<g filter="url(#bl08)">
<ellipse cx="392.6" cy="281.2" rx="23.4" ry="7.5" fill="#1818ff"/>
<ellipse cx="384.6" cy="280.6" rx="4.0" ry="2.8" fill="#1818ff"/>
<ellipse cx="398.3" cy="280.6" rx="5.6" ry="2.8" fill="#1818ff"/>
<ellipse cx="392.6" cy="280.8" rx="21.4" ry="5.7" fill="#0048ff"/>
<ellipse cx="384.6" cy="280.6" rx="3.0" ry="2.1" fill="#0048ff"/>
<ellipse cx="398.3" cy="280.6" rx="4.6" ry="2.3" fill="#0048ff"/>
<ellipse cx="392.6" cy="280.6" rx="19.3" ry="4.0" fill="#00c8ff"/>
<ellipse cx="384.6" cy="280.6" rx="2.0" ry="1.4" fill="#00c8ff"/>
<ellipse cx="398.3" cy="280.6" rx="3.6" ry="1.8" fill="#00c8ff"/>
<ellipse cx="393.5" cy="280.6" rx="16.9" ry="2.6" fill="#18e040"/>
<ellipse cx="384.6" cy="280.6" rx="1.0" ry="0.7" fill="#18e040"/>
<ellipse cx="398.3" cy="280.6" rx="2.7" ry="1.3" fill="#18e040"/>
<ellipse cx="398.3" cy="280.6" rx="1.8" ry="0.9" fill="#d0f000"/>
<ellipse cx="394.7" cy="280.6" rx="10.5" ry="1.4" fill="#d0f000"/>
<ellipse cx="398.3" cy="280.6" rx="0.9" ry="0.5" fill="#ff9000"/>
</g></g>
<polyline points="388.0,266.3 388.0,290.9 412.8,290.9" fill="none" stroke="#b05aa0" stroke-width="0.8"/>
<text x="410.8" y="274.4" font-size="6.8" text-anchor="end" fill="#b05aa0" stroke="#b05aa0" stroke-width="0.18" >69</text>
<rect x="372.5" y="266.3" width="40.30000000000001" height="40.39999999999998" fill="none" stroke="#111" stroke-width="1"/>
<path d="M369.3 302.9H372.5M369.3 297.4H372.5M370.5 294.6H372.5M370.5 293.0H372.5M370.5 291.8H372.5M370.5 290.9H372.5M370.5 290.2H372.5M370.5 289.6H372.5M370.5 289.0H372.5M370.5 288.5H372.5M369.3 288.1H372.5M370.5 285.2H372.5M370.5 283.5H372.5M370.5 282.3H372.5M370.5 281.3H372.5M370.5 280.6H372.5M370.5 279.9H372.5M370.5 279.4H372.5M370.5 278.9H372.5M369.3 278.4H372.5M370.5 275.6H372.5M370.5 274.0H372.5M370.5 272.8H372.5M370.5 271.9H372.5M370.5 271.2H372.5M370.5 270.6H372.5M370.5 270.0H372.5M370.5 269.6H372.5M369.3 269.1H372.5M370.5 301.5H372.5M370.5 300.1H372.5M370.5 298.8H372.5M376.1 306.7V309.9M380.6 306.7V309.9M383.5 306.7V308.7M385.2 306.7V308.7M386.4 306.7V308.7M387.3 306.7V308.7M388.1 306.7V308.7M388.7 306.7V308.7M389.3 306.7V308.7M389.8 306.7V308.7M390.2 306.7V309.9M393.0 306.7V308.7M394.7 306.7V308.7M395.8 306.7V308.7M396.7 306.7V308.7M397.4 306.7V308.7M398.1 306.7V308.7M398.6 306.7V308.7M399.1 306.7V308.7M399.5 306.7V309.9M402.3 306.7V308.7M403.9 306.7V308.7M405.1 306.7V308.7M406.0 306.7V308.7M406.7 306.7V308.7M407.3 306.7V308.7M407.9 306.7V308.7M408.3 306.7V308.7M408.8 306.7V309.9M377.2 306.7V308.7M378.3 306.7V308.7M379.5 306.7V308.7" stroke="#111" stroke-width="0.75"/>
<clipPath id="c418_266"><rect x="418.6" y="266.3" width="40.39999999999998" height="40.39999999999998"/></clipPath>
<g clip-path="url(#c418_266)">
<path fill="#a4aaff" d="M434.3 307.2h.6v.6h-.6zM444.0 290.6h.6v.6h-.6zM434.0 288.5h.6v.6h-.6zM440.4 300.4h.6v.6h-.6zM451.8 293.4h.6v.6h-.6zM422.2 294.9h.6v.6h-.6zM462.1 297.4h.6v.6h-.6zM437.9 280.5h.6v.6h-.6zM432.8 299.3h.6v.6h-.6zM425.6 305.0h.6v.6h-.6zM430.9 289.2h.6v.6h-.6zM430.7 294.7h.6v.6h-.6zM452.7 291.4h.6v.6h-.6zM414.0 294.8h.6v.6h-.6zM446.1 306.4h.6v.6h-.6zM423.2 306.0h.6v.6h-.6zM448.2 298.7h.6v.6h-.6zM428.1 289.1h.6v.6h-.6zM425.5 302.1h.6v.6h-.6zM441.9 303.0h.6v.6h-.6zM464.1 295.5h.6v.6h-.6zM438.1 309.1h.6v.6h-.6zM420.6 292.2h.6v.6h-.6zM433.7 292.7h.6v.6h-.6zM440.8 289.4h.6v.6h-.6zM455.0 285.7h.6v.6h-.6zM427.5 283.4h.6v.6h-.6zM419.3 299.6h.6v.6h-.6zM447.6 294.0h.6v.6h-.6zM450.5 299.8h.6v.6h-.6zM430.8 295.1h.6v.6h-.6zM443.9 309.7h.6v.6h-.6zM432.7 298.1h.6v.6h-.6zM446.4 304.1h.6v.6h-.6zM444.7 303.1h.6v.6h-.6zM424.0 293.6h.6v.6h-.6zM411.9 295.1h.6v.6h-.6zM471.2 297.1h.6v.6h-.6zM440.0 297.3h.6v.6h-.6zM440.8 286.0h.6v.6h-.6zM429.2 294.2h.6v.6h-.6zM441.1 289.3h.6v.6h-.6zM437.3 290.2h.6v.6h-.6zM420.5 290.7h.6v.6h-.6zM427.6 301.4h.6v.6h-.6zM457.4 299.5h.6v.6h-.6zM435.9 291.5h.6v.6h-.6zM417.0 291.7h.6v.6h-.6zM460.5 303.6h.6v.6h-.6zM441.9 293.7h.6v.6h-.6zM438.9 298.4h.6v.6h-.6zM438.7 298.5h.6v.6h-.6zM428.1 295.8h.6v.6h-.6zM433.9 303.1h.6v.6h-.6zM421.6 304.6h.6v.6h-.6zM437.6 291.9h.6v.6h-.6zM439.1 296.3h.6v.6h-.6zM435.6 298.4h.6v.6h-.6zM430.8 283.4h.6v.6h-.6zM448.5 295.3h.6v.6h-.6zM462.0 298.2h.6v.6h-.6zM411.0 304.2h.6v.6h-.6zM429.2 299.3h.6v.6h-.6zM469.6 303.2h.6v.6h-.6zM423.6 294.8h.6v.6h-.6zM416.5 300.2h.6v.6h-.6zM446.6 288.2h.6v.6h-.6zM445.1 302.1h.6v.6h-.6zM450.0 290.7h.6v.6h-.6zM429.2 287.5h.6v.6h-.6zM420.8 297.7h.6v.6h-.6zM439.4 304.7h.6v.6h-.6zM442.6 293.2h.6v.6h-.6zM419.0 306.4h.6v.6h-.6zM441.1 295.2h.6v.6h-.6zM424.8 288.0h.6v.6h-.6zM447.6 288.6h.6v.6h-.6zM446.9 299.9h.6v.6h-.6zM433.5 284.0h.6v.6h-.6zM444.5 305.4h.6v.6h-.6zM427.3 286.5h.6v.6h-.6zM453.9 296.5h.6v.6h-.6zM430.1 304.1h.6v.6h-.6zM435.0 298.6h.6v.6h-.6zM433.2 290.1h.6v.6h-.6zM441.9 289.4h.6v.6h-.6zM414.2 291.6h.6v.6h-.6zM455.9 303.2h.6v.6h-.6zM469.0 302.5h.6v.6h-.6zM461.2 297.2h.6v.6h-.6zM432.8 298.7h.6v.6h-.6zM425.6 300.6h.6v.6h-.6zM432.6 297.3h.6v.6h-.6zM427.0 294.5h.6v.6h-.6zM452.4 293.9h.6v.6h-.6zM429.5 297.5h.6v.6h-.6zM451.0 294.1h.6v.6h-.6zM422.6 284.5h.6v.6h-.6zM420.2 303.0h.6v.6h-.6zM437.6 298.8h.6v.6h-.6zM453.7 297.5h.6v.6h-.6zM445.5 291.9h.6v.6h-.6zM416.5 299.9h.6v.6h-.6zM437.5 299.5h.6v.6h-.6zM424.0 294.5h.6v.6h-.6zM466.7 289.5h.6v.6h-.6zM440.2 304.7h.6v.6h-.6zM435.6 296.3h.6v.6h-.6zM409.3 300.9h.6v.6h-.6zM432.7 304.5h.6v.6h-.6zM437.5 292.8h.6v.6h-.6zM444.8 293.8h.6v.6h-.6zM431.7 306.3h.6v.6h-.6zM452.4 296.2h.6v.6h-.6zM450.0 301.3h.6v.6h-.6zM446.9 295.8h.6v.6h-.6zM439.8 298.3h.6v.6h-.6zM446.6 298.0h.6v.6h-.6zM431.2 295.0h.6v.6h-.6zM445.1 288.6h.6v.6h-.6zM438.7 300.8h.6v.6h-.6zM441.1 293.5h.6v.6h-.6zM438.5 292.1h.6v.6h-.6zM452.4 292.8h.6v.6h-.6zM415.7 287.0h.6v.6h-.6zM443.0 296.9h.6v.6h-.6zM432.3 286.3h.6v.6h-.6zM436.7 289.6h.6v.6h-.6zM429.7 295.5h.6v.6h-.6zM428.2 297.7h.6v.6h-.6zM428.6 292.2h.6v.6h-.6zM435.7 305.7h.6v.6h-.6zM460.6 302.1h.6v.6h-.6zM428.6 295.5h.6v.6h-.6zM451.5 301.1h.6v.6h-.6zM416.3 295.1h.6v.6h-.6zM428.6 300.7h.6v.6h-.6zM447.6 291.8h.6v.6h-.6zM468.5 293.6h.6v.6h-.6zM472.6 294.3h.6v.6h-.6zM437.6 308.7h.6v.6h-.6zM431.5 292.2h.6v.6h-.6zM459.2 295.2h.6v.6h-.6zM445.4 286.7h.6v.6h-.6zM463.6 302.3h.6v.6h-.6zM443.7 300.4h.6v.6h-.6zM431.9 292.2h.6v.6h-.6zM417.1 298.1h.6v.6h-.6zM455.9 301.5h.6v.6h-.6zM451.5 300.4h.6v.6h-.6zM426.1 286.4h.6v.6h-.6zM447.7 296.7h.6v.6h-.6zM452.4 293.6h.6v.6h-.6zM426.6 298.6h.6v.6h-.6zM431.1 284.1h.6v.6h-.6zM430.4 289.4h.6v.6h-.6zM423.4 291.7h.6v.6h-.6zM451.9 311.8h.6v.6h-.6zM462.7 292.6h.6v.6h-.6zM454.6 295.0h.6v.6h-.6zM444.4 290.8h.6v.6h-.6zM437.8 283.9h.6v.6h-.6zM463.6 290.2h.6v.6h-.6zM446.9 291.4h.6v.6h-.6zM442.5 287.4h.6v.6h-.6zM433.6 301.8h.6v.6h-.6zM447.0 282.1h.6v.6h-.6zM450.6 286.4h.6v.6h-.6zM442.7 299.1h.6v.6h-.6zM429.9 293.3h.6v.6h-.6zM435.4 298.3h.6v.6h-.6zM451.5 304.9h.6v.6h-.6zM443.3 309.3h.6v.6h-.6zM425.7 307.8h.6v.6h-.6zM435.2 300.8h.6v.6h-.6zM437.1 296.1h.6v.6h-.6zM426.1 298.2h.6v.6h-.6zM466.8 296.5h.6v.6h-.6zM438.5 295.5h.6v.6h-.6zM448.7 294.1h.6v.6h-.6zM438.7 297.0h.6v.6h-.6zM456.8 302.1h.6v.6h-.6zM424.2 291.1h.6v.6h-.6zM439.1 301.4h.6v.6h-.6zM452.2 294.1h.6v.6h-.6zM468.2 294.4h.6v.6h-.6zM458.3 305.3h.6v.6h-.6zM460.9 296.9h.6v.6h-.6zM446.8 285.0h.6v.6h-.6zM414.2 291.3h.6v.6h-.6zM448.8 302.9h.6v.6h-.6zM437.4 302.7h.6v.6h-.6zM446.8 306.0h.6v.6h-.6zM416.8 289.8h.6v.6h-.6zM425.6 288.3h.6v.6h-.6zM461.6 289.1h.6v.6h-.6zM427.3 292.8h.6v.6h-.6zM451.0 292.3h.6v.6h-.6zM449.0 299.3h.6v.6h-.6zM429.9 279.2h.6v.6h-.6zM426.1 286.9h.6v.6h-.6zM461.5 290.5h.6v.6h-.6zM424.0 298.1h.6v.6h-.6zM439.5 289.0h.6v.6h-.6zM454.0 301.8h.6v.6h-.6zM442.7 290.3h.6v.6h-.6zM426.7 281.3h.6v.6h-.6zM444.1 298.2h.6v.6h-.6zM426.1 295.7h.6v.6h-.6zM484.2 287.7h.6v.6h-.6zM415.2 299.7h.6v.6h-.6zM432.9 292.1h.6v.6h-.6zM447.4 294.6h.6v.6h-.6zM452.6 299.1h.6v.6h-.6zM454.9 296.3h.6v.6h-.6zM408.9 304.9h.6v.6h-.6zM415.2 302.7h.6v.6h-.6zM442.3 285.9h.6v.6h-.6zM439.7 301.6h.6v.6h-.6zM424.6 295.8h.6v.6h-.6z"/>
<ellipse cx="436.8" cy="295.4" rx="24.2" ry="16.2" fill="url(#hz)" opacity="0.35"/>
<g filter="url(#bl08)">
<ellipse cx="438.8" cy="281.2" rx="23.4" ry="7.5" fill="#1818ff"/>
<ellipse cx="429.1" cy="280.6" rx="4.0" ry="2.8" fill="#1818ff"/>
<ellipse cx="448.5" cy="280.6" rx="5.7" ry="2.8" fill="#1818ff"/>
<ellipse cx="438.8" cy="280.8" rx="21.4" ry="5.7" fill="#0048ff"/>
<ellipse cx="429.1" cy="280.6" rx="3.4" ry="2.4" fill="#0048ff"/>
<ellipse cx="448.5" cy="280.6" rx="4.8" ry="2.4" fill="#0048ff"/>
<ellipse cx="438.8" cy="280.6" rx="19.4" ry="4.0" fill="#00c8ff"/>
<ellipse cx="429.1" cy="280.6" rx="2.8" ry="2.0" fill="#00c8ff"/>
<ellipse cx="448.5" cy="280.6" rx="3.9" ry="2.0" fill="#00c8ff"/>
<ellipse cx="439.6" cy="280.6" rx="17.0" ry="2.6" fill="#18e040"/>
<ellipse cx="429.1" cy="280.6" rx="2.2" ry="1.5" fill="#18e040"/>
<ellipse cx="448.5" cy="280.6" rx="3.1" ry="1.5" fill="#18e040"/>
<ellipse cx="429.1" cy="280.6" rx="1.6" ry="1.1" fill="#d0f000"/>
<ellipse cx="448.5" cy="280.6" rx="2.3" ry="1.1" fill="#d0f000"/>
<ellipse cx="429.1" cy="280.6" rx="1.1" ry="0.7" fill="#ff9000"/>
<ellipse cx="448.5" cy="280.6" rx="1.5" ry="0.7" fill="#ff9000"/>
<ellipse cx="429.1" cy="280.6" rx="0.6" ry="0.4" fill="#ff0800"/>
<ellipse cx="448.5" cy="280.6" rx="0.8" ry="0.4" fill="#ff0800"/>
</g></g>
<polyline points="435.2,266.3 435.2,290.9 459.0,290.9" fill="none" stroke="#b05aa0" stroke-width="0.8"/>
<text x="457.0" y="274.4" font-size="6.8" text-anchor="end" fill="#b05aa0" stroke="#b05aa0" stroke-width="0.18" >67</text>
<rect x="418.6" y="266.3" width="40.39999999999998" height="40.39999999999998" fill="none" stroke="#111" stroke-width="1"/>
<path d="M415.4 302.9H418.6M415.4 297.4H418.6M416.6 294.6H418.6M416.6 293.0H418.6M416.6 291.8H418.6M416.6 290.9H418.6M416.6 290.2H418.6M416.6 289.6H418.6M416.6 289.0H418.6M416.6 288.5H418.6M415.4 288.1H418.6M416.6 285.2H418.6M416.6 283.5H418.6M416.6 282.3H418.6M416.6 281.3H418.6M416.6 280.6H418.6M416.6 279.9H418.6M416.6 279.4H418.6M416.6 278.9H418.6M415.4 278.4H418.6M416.6 275.6H418.6M416.6 274.0H418.6M416.6 272.8H418.6M416.6 271.9H418.6M416.6 271.2H418.6M416.6 270.6H418.6M416.6 270.0H418.6M416.6 269.6H418.6M415.4 269.1H418.6M416.6 301.5H418.6M416.6 300.1H418.6M416.6 298.8H418.6M422.2 306.7V309.9M426.7 306.7V309.9M429.6 306.7V308.7M431.3 306.7V308.7M432.5 306.7V308.7M433.5 306.7V308.7M434.2 306.7V308.7M434.9 306.7V308.7M435.4 306.7V308.7M435.9 306.7V308.7M436.4 306.7V309.9M439.2 306.7V308.7M440.8 306.7V308.7M442.0 306.7V308.7M442.9 306.7V308.7M443.6 306.7V308.7M444.2 306.7V308.7M444.8 306.7V308.7M445.2 306.7V308.7M445.7 306.7V309.9M448.5 306.7V308.7M450.1 306.7V308.7M451.3 306.7V308.7M452.2 306.7V308.7M452.9 306.7V308.7M453.5 306.7V308.7M454.1 306.7V308.7M454.5 306.7V308.7M455.0 306.7V309.9M423.3 306.7V308.7M424.5 306.7V308.7M425.6 306.7V308.7" stroke="#111" stroke-width="0.75"/>
<clipPath id="c373_312"><rect x="373.2" y="312.7" width="40.0" height="40.0"/></clipPath>
<g clip-path="url(#c373_312)">
<path fill="#a4aaff" d="M382.5 334.7h.6v.6h-.6zM383.9 350.3h.6v.6h-.6zM399.3 341.4h.6v.6h-.6zM390.2 342.5h.6v.6h-.6zM394.6 342.9h.6v.6h-.6zM371.0 347.9h.6v.6h-.6zM381.1 323.8h.6v.6h-.6zM399.5 333.3h.6v.6h-.6zM389.5 340.9h.6v.6h-.6zM384.2 345.2h.6v.6h-.6zM388.0 339.7h.6v.6h-.6zM380.0 339.7h.6v.6h-.6zM379.0 341.9h.6v.6h-.6zM406.8 348.5h.6v.6h-.6zM396.2 332.3h.6v.6h-.6zM403.3 348.0h.6v.6h-.6zM415.5 326.2h.6v.6h-.6zM391.4 339.3h.6v.6h-.6zM404.0 334.1h.6v.6h-.6zM386.7 357.5h.6v.6h-.6zM402.9 327.9h.6v.6h-.6zM391.4 350.9h.6v.6h-.6zM383.9 345.7h.6v.6h-.6zM392.4 331.6h.6v.6h-.6zM383.8 349.3h.6v.6h-.6zM405.2 337.4h.6v.6h-.6zM404.5 336.7h.6v.6h-.6zM394.1 341.4h.6v.6h-.6zM376.5 343.8h.6v.6h-.6zM386.6 322.7h.6v.6h-.6zM381.4 335.8h.6v.6h-.6zM381.3 334.9h.6v.6h-.6zM383.1 324.7h.6v.6h-.6zM401.7 342.1h.6v.6h-.6zM394.2 339.7h.6v.6h-.6zM392.0 339.8h.6v.6h-.6zM378.3 331.1h.6v.6h-.6zM392.1 348.5h.6v.6h-.6zM394.0 352.6h.6v.6h-.6zM375.1 339.7h.6v.6h-.6zM383.9 350.0h.6v.6h-.6zM411.2 338.0h.6v.6h-.6zM399.8 339.9h.6v.6h-.6zM379.4 340.8h.6v.6h-.6zM378.9 352.2h.6v.6h-.6zM398.2 349.7h.6v.6h-.6zM395.4 324.8h.6v.6h-.6zM400.7 342.2h.6v.6h-.6zM363.1 342.2h.6v.6h-.6zM403.1 353.3h.6v.6h-.6zM379.1 347.0h.6v.6h-.6zM395.1 340.4h.6v.6h-.6zM387.9 345.2h.6v.6h-.6zM398.0 346.1h.6v.6h-.6zM386.4 332.5h.6v.6h-.6zM406.8 350.5h.6v.6h-.6zM384.5 341.3h.6v.6h-.6zM400.7 329.4h.6v.6h-.6zM397.1 358.2h.6v.6h-.6zM394.4 336.7h.6v.6h-.6zM415.3 341.6h.6v.6h-.6zM393.7 338.6h.6v.6h-.6zM393.3 329.2h.6v.6h-.6zM376.1 331.4h.6v.6h-.6zM401.8 340.9h.6v.6h-.6zM404.8 327.5h.6v.6h-.6zM384.1 351.6h.6v.6h-.6zM381.9 328.7h.6v.6h-.6zM382.4 339.1h.6v.6h-.6zM391.0 350.5h.6v.6h-.6zM406.9 352.2h.6v.6h-.6zM398.1 338.1h.6v.6h-.6zM385.4 331.3h.6v.6h-.6zM406.2 350.2h.6v.6h-.6zM392.3 335.4h.6v.6h-.6zM399.2 344.9h.6v.6h-.6zM393.0 333.5h.6v.6h-.6zM394.0 337.6h.6v.6h-.6zM399.9 345.6h.6v.6h-.6zM396.4 338.6h.6v.6h-.6zM409.2 346.9h.6v.6h-.6zM406.2 347.3h.6v.6h-.6zM399.0 344.2h.6v.6h-.6zM378.6 329.0h.6v.6h-.6zM380.2 345.7h.6v.6h-.6zM401.9 342.8h.6v.6h-.6zM392.3 354.2h.6v.6h-.6zM386.5 329.2h.6v.6h-.6zM373.0 339.3h.6v.6h-.6zM399.5 346.6h.6v.6h-.6zM388.6 347.2h.6v.6h-.6zM390.6 336.5h.6v.6h-.6zM386.7 346.7h.6v.6h-.6zM402.4 333.8h.6v.6h-.6zM379.6 342.4h.6v.6h-.6zM416.2 333.4h.6v.6h-.6zM376.4 344.4h.6v.6h-.6zM397.2 337.3h.6v.6h-.6zM390.9 344.9h.6v.6h-.6zM370.7 341.3h.6v.6h-.6zM398.3 347.9h.6v.6h-.6zM404.9 341.0h.6v.6h-.6zM374.2 350.8h.6v.6h-.6zM400.3 337.1h.6v.6h-.6zM403.4 348.7h.6v.6h-.6zM389.6 325.2h.6v.6h-.6zM385.7 336.3h.6v.6h-.6zM381.4 340.9h.6v.6h-.6zM378.5 344.2h.6v.6h-.6zM413.4 333.3h.6v.6h-.6zM403.4 337.8h.6v.6h-.6zM397.6 340.6h.6v.6h-.6zM406.3 336.6h.6v.6h-.6zM399.8 336.2h.6v.6h-.6zM393.9 341.4h.6v.6h-.6zM404.0 330.6h.6v.6h-.6zM375.3 351.1h.6v.6h-.6zM395.7 353.2h.6v.6h-.6zM379.1 343.0h.6v.6h-.6zM398.3 353.7h.6v.6h-.6zM390.6 338.4h.6v.6h-.6zM399.6 340.8h.6v.6h-.6zM382.4 346.8h.6v.6h-.6zM368.8 334.5h.6v.6h-.6zM407.2 338.1h.6v.6h-.6zM387.4 344.1h.6v.6h-.6zM404.4 345.1h.6v.6h-.6zM379.9 337.6h.6v.6h-.6zM403.5 340.7h.6v.6h-.6zM383.8 347.5h.6v.6h-.6zM404.6 356.5h.6v.6h-.6zM378.6 336.6h.6v.6h-.6zM383.1 344.0h.6v.6h-.6zM385.6 349.2h.6v.6h-.6zM359.7 348.1h.6v.6h-.6zM383.7 339.6h.6v.6h-.6zM397.9 342.9h.6v.6h-.6zM379.3 351.9h.6v.6h-.6zM398.0 338.1h.6v.6h-.6zM393.7 333.9h.6v.6h-.6zM376.8 339.4h.6v.6h-.6zM395.5 342.2h.6v.6h-.6zM382.1 331.9h.6v.6h-.6zM371.5 352.5h.6v.6h-.6zM395.5 336.0h.6v.6h-.6zM405.1 345.2h.6v.6h-.6zM386.4 337.3h.6v.6h-.6zM404.5 343.8h.6v.6h-.6zM410.4 344.0h.6v.6h-.6zM384.4 337.4h.6v.6h-.6zM383.0 343.3h.6v.6h-.6zM394.2 345.7h.6v.6h-.6zM396.5 334.3h.6v.6h-.6zM388.8 335.0h.6v.6h-.6zM396.8 332.4h.6v.6h-.6zM384.4 335.6h.6v.6h-.6zM384.0 339.7h.6v.6h-.6zM408.9 339.7h.6v.6h-.6zM374.4 339.4h.6v.6h-.6zM400.0 345.3h.6v.6h-.6zM394.0 355.3h.6v.6h-.6zM404.2 342.1h.6v.6h-.6zM405.4 332.3h.6v.6h-.6zM389.2 335.5h.6v.6h-.6zM393.3 352.7h.6v.6h-.6zM385.4 352.5h.6v.6h-.6zM379.3 351.4h.6v.6h-.6zM371.4 335.6h.6v.6h-.6zM402.9 340.9h.6v.6h-.6zM392.9 341.4h.6v.6h-.6zM393.3 340.3h.6v.6h-.6zM379.8 339.5h.6v.6h-.6zM392.5 335.3h.6v.6h-.6zM396.7 353.7h.6v.6h-.6zM372.1 337.7h.6v.6h-.6zM387.9 341.6h.6v.6h-.6zM392.3 336.5h.6v.6h-.6zM390.8 341.5h.6v.6h-.6zM390.2 352.1h.6v.6h-.6zM392.7 331.3h.6v.6h-.6zM372.9 345.6h.6v.6h-.6zM387.2 337.2h.6v.6h-.6zM375.4 339.4h.6v.6h-.6zM390.1 336.8h.6v.6h-.6zM387.1 347.6h.6v.6h-.6zM400.4 345.3h.6v.6h-.6zM389.2 332.1h.6v.6h-.6zM400.3 351.8h.6v.6h-.6zM406.1 349.5h.6v.6h-.6zM394.4 344.1h.6v.6h-.6zM391.0 350.2h.6v.6h-.6zM388.1 356.3h.6v.6h-.6zM400.3 339.3h.6v.6h-.6zM391.2 330.4h.6v.6h-.6zM382.7 339.4h.6v.6h-.6zM419.8 335.9h.6v.6h-.6zM401.9 342.0h.6v.6h-.6zM387.8 345.8h.6v.6h-.6zM368.0 348.0h.6v.6h-.6zM413.8 343.5h.6v.6h-.6zM390.5 342.6h.6v.6h-.6zM398.9 338.1h.6v.6h-.6zM392.6 345.0h.6v.6h-.6zM387.1 344.2h.6v.6h-.6zM395.1 346.4h.6v.6h-.6zM379.7 337.8h.6v.6h-.6zM386.2 349.8h.6v.6h-.6zM394.1 330.1h.6v.6h-.6zM376.3 354.9h.6v.6h-.6zM395.2 332.6h.6v.6h-.6zM380.6 342.5h.6v.6h-.6zM407.8 352.7h.6v.6h-.6zM387.0 339.4h.6v.6h-.6zM413.6 334.7h.6v.6h-.6zM409.4 343.8h.6v.6h-.6zM392.3 350.4h.6v.6h-.6zM396.8 335.7h.6v.6h-.6zM373.4 341.6h.6v.6h-.6zM397.2 350.9h.6v.6h-.6zM360.8 350.8h.6v.6h-.6z"/>
<ellipse cx="391.2" cy="339.1" rx="6.4" ry="12.0" fill="url(#hz)" opacity="0.6"/>
<ellipse cx="391.2" cy="342.7" rx="20.0" ry="14.0" fill="url(#hz)" opacity="0.3"/>
<g filter="url(#bl08)">
<ellipse cx="389.2" cy="327.9" rx="14.4" ry="5.2" fill="#1818ff"/>
<ellipse cx="380.8" cy="327.9" rx="9.2" ry="6.4" fill="#1818ff"/>
<ellipse cx="397.2" cy="327.1" rx="11.2" ry="7.2" fill="#1818ff"/>
<ellipse cx="380.8" cy="327.9" rx="6.8" ry="4.7" fill="#0048ff"/>
<ellipse cx="397.2" cy="327.1" rx="9.5" ry="6.1" fill="#0048ff"/>
<ellipse cx="380.8" cy="327.9" rx="4.5" ry="3.1" fill="#00c8ff"/>
<ellipse cx="397.2" cy="327.1" rx="7.8" ry="5.0" fill="#00c8ff"/>
<ellipse cx="380.8" cy="327.9" rx="2.3" ry="1.6" fill="#18e040"/>
<ellipse cx="397.2" cy="327.1" rx="6.1" ry="3.9" fill="#18e040"/>
<ellipse cx="397.2" cy="327.1" rx="4.5" ry="2.9" fill="#d0f000"/>
<ellipse cx="397.2" cy="327.1" rx="3.0" ry="1.9" fill="#ff9000"/>
<ellipse cx="397.2" cy="327.1" rx="1.5" ry="1.0" fill="#ff0800"/>
</g></g>
<polyline points="388.6,312.7 388.6,337.3 413.2,337.3" fill="none" stroke="#b05aa0" stroke-width="0.8"/>
<text x="411.2" y="320.7" font-size="6.8" text-anchor="end" fill="#b05aa0" stroke="#b05aa0" stroke-width="0.18" >78</text>
<rect x="373.2" y="312.7" width="40.0" height="40.0" fill="none" stroke="#111" stroke-width="1"/>
<path d="M370.0 348.9H373.2M370.0 343.5H373.2M371.2 340.7H373.2M371.2 339.1H373.2M371.2 338.0H373.2M371.2 337.1H373.2M371.2 336.3H373.2M371.2 335.7H373.2M371.2 335.2H373.2M371.2 334.7H373.2M370.0 334.3H373.2M371.2 331.4H373.2M371.2 329.7H373.2M371.2 328.5H373.2M371.2 327.6H373.2M371.2 326.8H373.2M371.2 326.2H373.2M371.2 325.6H373.2M371.2 325.1H373.2M370.0 324.7H373.2M371.2 321.9H373.2M371.2 320.3H373.2M371.2 319.2H373.2M371.2 318.3H373.2M371.2 317.5H373.2M371.2 316.9H373.2M371.2 316.4H373.2M371.2 315.9H373.2M370.0 315.5H373.2M371.2 347.6H373.2M371.2 346.2H373.2M371.2 344.8H373.2M376.8 352.7V355.9M381.2 352.7V355.9M384.1 352.7V354.7M385.8 352.7V354.7M387.0 352.7V354.7M387.9 352.7V354.7M388.7 352.7V354.7M389.3 352.7V354.7M389.9 352.7V354.7M390.4 352.7V354.7M390.8 352.7V355.9M393.6 352.7V354.7M395.2 352.7V354.7M396.3 352.7V354.7M397.2 352.7V354.7M398.0 352.7V354.7M398.6 352.7V354.7M399.1 352.7V354.7M399.6 352.7V354.7M400.0 352.7V355.9M402.8 352.7V354.7M404.4 352.7V354.7M405.5 352.7V354.7M406.4 352.7V354.7M407.2 352.7V354.7M407.8 352.7V354.7M408.3 352.7V354.7M408.8 352.7V354.7M409.2 352.7V355.9M377.9 352.7V354.7M379.0 352.7V354.7M380.1 352.7V354.7" stroke="#111" stroke-width="0.75"/>
<text x="368.7" y="350.5" font-size="4.6" text-anchor="end" fill="#444" >0</text>
<text x="368.7" y="345.1" font-size="4.6" text-anchor="end" fill="#444" >10<tspan font-size="2.8" dy="-2">2</tspan></text>
<text x="368.7" y="335.9" font-size="4.6" text-anchor="end" fill="#444" >10<tspan font-size="2.8" dy="-2">3</tspan></text>
<text x="368.7" y="326.3" font-size="4.6" text-anchor="end" fill="#444" >10<tspan font-size="2.8" dy="-2">4</tspan></text>
<text x="368.7" y="317.1" font-size="4.6" text-anchor="end" fill="#444" >10<tspan font-size="2.8" dy="-2">5</tspan></text>
<text x="376.8" y="361.1" font-size="4.6" text-anchor="middle" fill="#444" >0</text>
<text x="382.0" y="361.1" font-size="4.6" text-anchor="middle" fill="#444" >10<tspan font-size="2.8" dy="-2">2</tspan></text>
<text x="391.6" y="361.1" font-size="4.6" text-anchor="middle" fill="#444" >10<tspan font-size="2.8" dy="-2">3</tspan></text>
<text x="400.8" y="361.1" font-size="4.6" text-anchor="middle" fill="#444" >10<tspan font-size="2.8" dy="-2">4</tspan></text>
<text x="410.0" y="361.1" font-size="4.6" text-anchor="middle" fill="#444" >10<tspan font-size="2.8" dy="-2">5</tspan></text>
<clipPath id="c418_312"><rect x="418.5" y="312.7" width="40.0" height="40.0"/></clipPath>
<g clip-path="url(#c418_312)">
<path fill="#a4aaff" d="M443.7 352.0h.6v.6h-.6zM445.8 343.0h.6v.6h-.6zM441.5 344.3h.6v.6h-.6zM429.2 340.7h.6v.6h-.6zM438.0 338.4h.6v.6h-.6zM419.4 331.5h.6v.6h-.6zM442.4 345.1h.6v.6h-.6zM437.8 333.4h.6v.6h-.6zM446.4 338.8h.6v.6h-.6zM412.3 352.3h.6v.6h-.6zM419.1 357.1h.6v.6h-.6zM442.7 338.5h.6v.6h-.6zM409.1 336.6h.6v.6h-.6zM453.8 350.9h.6v.6h-.6zM439.5 329.7h.6v.6h-.6zM432.1 339.5h.6v.6h-.6zM441.9 340.6h.6v.6h-.6zM440.5 330.2h.6v.6h-.6zM429.0 351.5h.6v.6h-.6zM419.6 347.9h.6v.6h-.6zM463.4 346.0h.6v.6h-.6zM420.3 350.1h.6v.6h-.6zM414.9 343.8h.6v.6h-.6zM431.7 350.1h.6v.6h-.6zM450.2 342.8h.6v.6h-.6zM457.4 348.3h.6v.6h-.6zM430.9 334.7h.6v.6h-.6zM465.2 338.7h.6v.6h-.6zM441.3 340.7h.6v.6h-.6zM431.0 330.4h.6v.6h-.6zM434.8 340.7h.6v.6h-.6zM447.9 337.9h.6v.6h-.6zM418.3 334.1h.6v.6h-.6zM436.0 343.2h.6v.6h-.6zM444.9 338.9h.6v.6h-.6zM442.8 342.5h.6v.6h-.6zM456.2 341.1h.6v.6h-.6zM438.2 345.4h.6v.6h-.6zM450.7 335.1h.6v.6h-.6zM431.0 339.6h.6v.6h-.6zM411.7 350.5h.6v.6h-.6zM449.0 341.7h.6v.6h-.6zM475.7 350.3h.6v.6h-.6zM460.1 352.4h.6v.6h-.6zM447.1 331.7h.6v.6h-.6zM454.4 344.4h.6v.6h-.6zM422.6 341.9h.6v.6h-.6zM445.3 348.3h.6v.6h-.6zM438.5 337.9h.6v.6h-.6zM445.4 336.2h.6v.6h-.6zM435.6 346.8h.6v.6h-.6zM419.7 344.1h.6v.6h-.6zM413.7 335.1h.6v.6h-.6zM422.2 340.9h.6v.6h-.6zM444.8 341.2h.6v.6h-.6zM447.2 342.2h.6v.6h-.6zM434.1 344.9h.6v.6h-.6zM433.7 342.4h.6v.6h-.6zM448.6 337.5h.6v.6h-.6zM449.9 333.8h.6v.6h-.6zM433.9 329.5h.6v.6h-.6zM430.3 352.5h.6v.6h-.6zM440.7 350.3h.6v.6h-.6zM419.4 334.5h.6v.6h-.6zM441.9 347.2h.6v.6h-.6zM446.3 329.9h.6v.6h-.6zM442.5 341.0h.6v.6h-.6zM437.9 344.8h.6v.6h-.6zM433.2 329.8h.6v.6h-.6zM424.0 331.5h.6v.6h-.6zM421.2 340.6h.6v.6h-.6zM451.8 336.5h.6v.6h-.6zM427.6 333.5h.6v.6h-.6zM416.3 342.0h.6v.6h-.6zM430.8 339.8h.6v.6h-.6zM425.3 344.9h.6v.6h-.6zM422.5 345.3h.6v.6h-.6zM428.8 347.0h.6v.6h-.6zM426.1 344.6h.6v.6h-.6zM441.6 340.9h.6v.6h-.6zM455.6 342.7h.6v.6h-.6zM426.1 346.3h.6v.6h-.6zM426.9 337.7h.6v.6h-.6zM436.6 342.8h.6v.6h-.6zM456.4 329.4h.6v.6h-.6zM433.5 349.4h.6v.6h-.6zM434.6 343.7h.6v.6h-.6zM454.3 332.9h.6v.6h-.6zM437.0 347.0h.6v.6h-.6zM429.6 329.3h.6v.6h-.6zM424.8 342.9h.6v.6h-.6zM438.7 354.3h.6v.6h-.6zM452.0 330.7h.6v.6h-.6zM448.6 347.9h.6v.6h-.6zM455.4 340.4h.6v.6h-.6zM430.0 342.5h.6v.6h-.6zM454.6 345.8h.6v.6h-.6zM456.3 347.0h.6v.6h-.6zM429.6 334.5h.6v.6h-.6zM458.2 331.0h.6v.6h-.6zM432.4 339.3h.6v.6h-.6zM425.8 337.5h.6v.6h-.6zM436.6 358.0h.6v.6h-.6zM435.7 337.9h.6v.6h-.6zM438.0 348.0h.6v.6h-.6zM427.0 338.7h.6v.6h-.6zM416.1 346.4h.6v.6h-.6zM444.5 352.0h.6v.6h-.6zM422.5 356.6h.6v.6h-.6zM446.7 339.6h.6v.6h-.6zM431.9 339.3h.6v.6h-.6zM422.3 346.9h.6v.6h-.6zM429.4 336.5h.6v.6h-.6zM442.5 342.3h.6v.6h-.6zM429.7 339.9h.6v.6h-.6zM430.7 350.9h.6v.6h-.6zM448.2 336.4h.6v.6h-.6zM436.0 351.1h.6v.6h-.6zM433.1 353.9h.6v.6h-.6zM441.7 346.2h.6v.6h-.6zM412.2 347.4h.6v.6h-.6zM440.5 345.6h.6v.6h-.6zM442.1 345.2h.6v.6h-.6zM430.6 347.8h.6v.6h-.6zM437.2 334.2h.6v.6h-.6zM424.6 342.6h.6v.6h-.6zM440.4 326.1h.6v.6h-.6zM412.4 348.8h.6v.6h-.6zM436.4 361.4h.6v.6h-.6zM418.6 339.8h.6v.6h-.6zM429.5 345.4h.6v.6h-.6zM453.0 352.7h.6v.6h-.6zM424.7 350.1h.6v.6h-.6zM422.3 343.7h.6v.6h-.6zM438.5 345.8h.6v.6h-.6zM427.1 350.8h.6v.6h-.6zM435.7 341.4h.6v.6h-.6zM433.4 334.1h.6v.6h-.6zM444.9 343.8h.6v.6h-.6zM441.8 354.5h.6v.6h-.6zM426.3 339.5h.6v.6h-.6zM436.6 347.5h.6v.6h-.6zM434.4 348.0h.6v.6h-.6zM441.8 329.2h.6v.6h-.6zM428.5 327.3h.6v.6h-.6zM433.2 338.6h.6v.6h-.6zM443.4 342.7h.6v.6h-.6zM435.8 350.3h.6v.6h-.6zM443.5 332.9h.6v.6h-.6zM428.4 343.8h.6v.6h-.6zM456.4 340.1h.6v.6h-.6zM434.5 343.4h.6v.6h-.6zM445.7 340.9h.6v.6h-.6zM440.0 338.6h.6v.6h-.6zM430.1 336.0h.6v.6h-.6zM444.2 337.6h.6v.6h-.6zM442.9 344.3h.6v.6h-.6zM447.9 322.7h.6v.6h-.6zM425.2 333.0h.6v.6h-.6zM434.6 347.1h.6v.6h-.6zM466.2 352.3h.6v.6h-.6zM452.4 344.2h.6v.6h-.6zM432.0 345.2h.6v.6h-.6zM411.0 348.0h.6v.6h-.6zM436.6 345.8h.6v.6h-.6zM424.4 333.8h.6v.6h-.6zM429.0 341.2h.6v.6h-.6zM440.6 339.0h.6v.6h-.6zM440.6 346.3h.6v.6h-.6zM422.9 340.8h.6v.6h-.6zM418.3 337.7h.6v.6h-.6zM447.1 336.5h.6v.6h-.6zM458.3 345.0h.6v.6h-.6zM446.9 342.2h.6v.6h-.6zM446.6 349.2h.6v.6h-.6zM437.8 337.8h.6v.6h-.6zM430.1 355.0h.6v.6h-.6zM434.4 338.3h.6v.6h-.6zM428.2 329.7h.6v.6h-.6zM430.6 343.8h.6v.6h-.6zM430.8 336.2h.6v.6h-.6zM441.3 344.7h.6v.6h-.6zM431.4 343.7h.6v.6h-.6zM425.1 347.5h.6v.6h-.6zM424.9 339.1h.6v.6h-.6zM438.1 338.6h.6v.6h-.6zM423.1 356.2h.6v.6h-.6zM454.3 329.3h.6v.6h-.6zM437.9 332.6h.6v.6h-.6zM440.2 332.4h.6v.6h-.6zM443.3 345.2h.6v.6h-.6zM456.5 349.9h.6v.6h-.6zM431.1 348.1h.6v.6h-.6zM431.1 340.7h.6v.6h-.6zM430.6 329.2h.6v.6h-.6zM443.6 327.3h.6v.6h-.6zM433.7 345.2h.6v.6h-.6zM437.8 330.5h.6v.6h-.6zM428.9 346.3h.6v.6h-.6zM449.4 352.7h.6v.6h-.6zM415.2 344.7h.6v.6h-.6zM430.9 346.9h.6v.6h-.6zM416.7 340.5h.6v.6h-.6zM444.8 337.0h.6v.6h-.6zM432.3 334.6h.6v.6h-.6zM449.6 332.2h.6v.6h-.6zM425.8 339.2h.6v.6h-.6zM432.8 356.3h.6v.6h-.6zM439.7 335.7h.6v.6h-.6zM443.3 343.9h.6v.6h-.6zM439.8 341.0h.6v.6h-.6zM441.9 333.3h.6v.6h-.6zM422.4 338.5h.6v.6h-.6zM423.6 346.4h.6v.6h-.6zM459.3 350.2h.6v.6h-.6zM441.7 343.9h.6v.6h-.6zM428.5 332.4h.6v.6h-.6zM442.9 331.1h.6v.6h-.6zM440.0 340.5h.6v.6h-.6zM445.3 341.9h.6v.6h-.6z"/>
<ellipse cx="436.5" cy="339.1" rx="6.4" ry="12.0" fill="url(#hz)" opacity="0.6"/>
<ellipse cx="436.5" cy="342.7" rx="20.0" ry="14.0" fill="url(#hz)" opacity="0.3"/>
<g filter="url(#bl08)">
<ellipse cx="434.5" cy="327.9" rx="14.4" ry="5.2" fill="#1818ff"/>
<ellipse cx="426.5" cy="327.9" rx="9.2" ry="6.4" fill="#1818ff"/>
<ellipse cx="442.5" cy="327.1" rx="10.8" ry="6.8" fill="#1818ff"/>
<ellipse cx="426.5" cy="327.9" rx="6.8" ry="4.7" fill="#0048ff"/>
<ellipse cx="442.5" cy="327.1" rx="8.9" ry="5.6" fill="#0048ff"/>
<ellipse cx="426.5" cy="327.9" rx="4.5" ry="3.1" fill="#00c8ff"/>
<ellipse cx="442.5" cy="327.1" rx="7.0" ry="4.4" fill="#00c8ff"/>
<ellipse cx="426.5" cy="327.9" rx="2.3" ry="1.6" fill="#18e040"/>
<ellipse cx="442.5" cy="327.1" rx="5.1" ry="3.2" fill="#18e040"/>
<ellipse cx="442.5" cy="327.1" rx="3.4" ry="2.1" fill="#d0f000"/>
<ellipse cx="442.5" cy="327.1" rx="1.8" ry="1.1" fill="#ff9000"/>
</g></g>
<polyline points="434.9,312.7 434.9,337.3 458.5,337.3" fill="none" stroke="#b05aa0" stroke-width="0.8"/>
<text x="456.5" y="320.7" font-size="6.8" text-anchor="end" fill="#b05aa0" stroke="#b05aa0" stroke-width="0.18" >65</text>
<rect x="418.5" y="312.7" width="40.0" height="40.0" fill="none" stroke="#111" stroke-width="1"/>
<path d="M415.3 348.9H418.5M415.3 343.5H418.5M416.5 340.7H418.5M416.5 339.1H418.5M416.5 338.0H418.5M416.5 337.1H418.5M416.5 336.3H418.5M416.5 335.7H418.5M416.5 335.2H418.5M416.5 334.7H418.5M415.3 334.3H418.5M416.5 331.4H418.5M416.5 329.7H418.5M416.5 328.5H418.5M416.5 327.6H418.5M416.5 326.8H418.5M416.5 326.2H418.5M416.5 325.6H418.5M416.5 325.1H418.5M415.3 324.7H418.5M416.5 321.9H418.5M416.5 320.3H418.5M416.5 319.2H418.5M416.5 318.3H418.5M416.5 317.5H418.5M416.5 316.9H418.5M416.5 316.4H418.5M416.5 315.9H418.5M415.3 315.5H418.5M416.5 347.6H418.5M416.5 346.2H418.5M416.5 344.8H418.5M422.1 352.7V355.9M426.5 352.7V355.9M429.4 352.7V354.7M431.1 352.7V354.7M432.3 352.7V354.7M433.2 352.7V354.7M434.0 352.7V354.7M434.6 352.7V354.7M435.2 352.7V354.7M435.7 352.7V354.7M436.1 352.7V355.9M438.9 352.7V354.7M440.5 352.7V354.7M441.6 352.7V354.7M442.5 352.7V354.7M443.3 352.7V354.7M443.9 352.7V354.7M444.4 352.7V354.7M444.9 352.7V354.7M445.3 352.7V355.9M448.1 352.7V354.7M449.7 352.7V354.7M450.8 352.7V354.7M451.7 352.7V354.7M452.5 352.7V354.7M453.1 352.7V354.7M453.6 352.7V354.7M454.1 352.7V354.7M454.5 352.7V355.9M423.2 352.7V354.7M424.3 352.7V354.7M425.4 352.7V354.7" stroke="#111" stroke-width="0.75"/>
<text x="475.5" y="239.5" font-size="7" text-anchor="middle" stroke="#231f20" stroke-width="0.18" textLength="24" lengthAdjust="spacingAndGlyphs" >No virus</text>
<text x="475.2" y="247.3" font-size="7" text-anchor="middle" stroke="#231f20" stroke-width="0.18" textLength="15.7" lengthAdjust="spacingAndGlyphs" >Mock</text>
<text x="474.8" y="285" font-size="7" text-anchor="middle" stroke="#231f20" stroke-width="0.18" textLength="26" lengthAdjust="spacingAndGlyphs" >Lentiviral</text>
<text x="474.8" y="292.8" font-size="7" text-anchor="middle" stroke="#231f20" stroke-width="0.18" textLength="14.4" lengthAdjust="spacingAndGlyphs" >GIPZ</text>
<text x="475.3" y="331.5" font-size="7" text-anchor="middle" stroke="#231f20" stroke-width="0.18" textLength="27.7" lengthAdjust="spacingAndGlyphs" >Retroviral</text>
<text x="475.4" y="338.9" font-size="7" text-anchor="middle" stroke="#231f20" stroke-width="0.18" textLength="17.2" lengthAdjust="spacingAndGlyphs" >MSCV</text>
<text x="374" y="369.3" font-size="6" fill="#333" stroke="#333" stroke-width="0.18" textLength="9.1" lengthAdjust="spacingAndGlyphs" >GFP</text>
<line x1="386" y1="368" x2="447.4" y2="368" stroke="#111" stroke-width="0.9"/>
<path d="M451.4 368 L446.4 365.8 L446.4 370.2 Z" fill="#111"/>
<line x1="355" y1="230" x2="355" y2="326" stroke="#111" stroke-width="0.9"/>
<path d="M355 226 L352.8 231 L357.2 231 Z" fill="#111"/>
<text x="356.4" y="346.5" font-size="6" text-anchor="middle" fill="#333" stroke="#333" stroke-width="0.18" transform="rotate(-90 356.4 346.5)" >CD138</text>
<text x="6.5" y="364" font-size="14" fill="#000" font-weight="bold" >J</text>
<line x1="52.5" y1="400.8" x2="52.5" y2="476.3" stroke="#231f20" stroke-width="1.1" />
<text x="47.1" y="479.2" font-size="8" text-anchor="end" stroke="#231f20" stroke-width="0.18" >0</text>
<text x="47.1" y="464.2" font-size="8" text-anchor="end" stroke="#231f20" stroke-width="0.18" >0.2</text>
<text x="47.1" y="449.2" font-size="8" text-anchor="end" stroke="#231f20" stroke-width="0.18" >0.4</text>
<text x="47.1" y="434.2" font-size="8" text-anchor="end" stroke="#231f20" stroke-width="0.18" >0.6</text>
<text x="47.1" y="419.2" font-size="8" text-anchor="end" stroke="#231f20" stroke-width="0.18" >0.8</text>
<text x="47.1" y="404.2" font-size="8" text-anchor="end" stroke="#231f20" stroke-width="0.18" >1.0</text>
<path d="M49.7 476.3H52.5M49.7 461.3H52.5M49.7 446.3H52.5M49.7 431.3H52.5M49.7 416.3H52.5M49.7 401.3H52.5" stroke="#231f20" stroke-width="1"/>
<line x1="52.5" y1="476.3" x2="155.5" y2="476.3" stroke="#231f20" stroke-width="1.1" />
<path d="M52.5 476.3V479.1M78.2 476.3V479.1M103.6 476.3V479.1M129.0 476.3V479.1M154.9 476.3V479.1" stroke="#231f20" stroke-width="1"/>
<text x="52.5" y="489.5" font-size="8" text-anchor="middle" stroke="#231f20" stroke-width="0.18" >0</text>
<text x="78.2" y="489.5" font-size="8" text-anchor="middle" stroke="#231f20" stroke-width="0.18" >1</text>
<text x="103.6" y="489.5" font-size="8" text-anchor="middle" stroke="#231f20" stroke-width="0.18" >5</text>
<text x="129" y="489.5" font-size="8" text-anchor="middle" stroke="#231f20" stroke-width="0.18" >10</text>
<text x="154.9" y="489.5" font-size="8" text-anchor="middle" stroke="#231f20" stroke-width="0.18" >40</text>
<text x="30" y="489.5" font-size="8" stroke="#231f20" stroke-width="0.18" textLength="16.5" lengthAdjust="spacingAndGlyphs" >(nM)</text>
<text x="82.4" y="502.1" font-size="9.6" stroke="#231f20" stroke-width="0.18" textLength="46.3" lengthAdjust="spacingAndGlyphs" >Trametinib (T)</text>
<text x="30.4" y="437.3" font-size="10" text-anchor="middle" stroke="#231f20" stroke-width="0.18" textLength="56.3" lengthAdjust="spacingAndGlyphs" transform="rotate(-90 30.4 437.3)" >Relative cell titer</text>
<polyline points="52.5,401.3 78.2,412.6 103.6,435.8 129.0,441.1 154.9,459.8" fill="none" stroke="#2c4a82" stroke-width="1.1" stroke-dasharray="3 2"/>
<polyline points="52.5,401.3 78.2,404.3 103.6,415.6 129.0,427.6 154.9,444.8" fill="none" stroke="#a8042c" stroke-width="1.1"/>
<circle cx="52.5" cy="401.3" r="1.2" fill="#a8042c"/>
<circle cx="78.2" cy="404.3" r="1.2" fill="#a8042c"/>
<circle cx="103.6" cy="415.6" r="1.2" fill="#a8042c"/>
<circle cx="129" cy="427.6" r="1.2" fill="#a8042c"/>
<circle cx="154.9" cy="444.8" r="1.2" fill="#a8042c"/>
<circle cx="52.5" cy="401.3" r="1.0" fill="#2c4a82"/>
<circle cx="78.2" cy="412.6" r="1.0" fill="#2c4a82"/>
<circle cx="103.6" cy="435.8" r="1.0" fill="#2c4a82"/>
<circle cx="129" cy="441.1" r="1.0" fill="#2c4a82"/>
<circle cx="154.9" cy="459.8" r="1.0" fill="#2c4a82"/>
<line x1="56.9" y1="456.5" x2="79" y2="456.5" stroke="#a8042c" stroke-width="1.2" />
<circle cx="68" cy="456.5" r="1.3" fill="#a8042c"/>
<line x1="56.9" y1="469.5" x2="79" y2="469.5" stroke="#2c4a82" stroke-width="1.2" stroke-dasharray="3 2"/>
<circle cx="68" cy="469.5" r="1.1" fill="#2c4a82"/>
<text x="81" y="459" font-size="8" stroke="#231f20" stroke-width="0.18" textLength="32.7" lengthAdjust="spacingAndGlyphs" >Cell-4935</text>
<text x="81" y="472.3" font-size="8" stroke="#231f20" stroke-width="0.18" textLength="32.7" lengthAdjust="spacingAndGlyphs" >Cell-4938</text>
<text x="174.6" y="364.3" font-size="14" fill="#000" textLength="12.5" lengthAdjust="spacingAndGlyphs" font-weight="bold" >K</text>
<line x1="218" y1="357.6" x2="218" y2="476.5" stroke="#231f20" stroke-width="1.1" />
<text x="212.6" y="479.4" font-size="8" text-anchor="end" stroke="#231f20" stroke-width="0.18" >0</text>
<text x="212.6" y="439.9" font-size="8" text-anchor="end" stroke="#231f20" stroke-width="0.18" >0.5</text>
<text x="212.6" y="400.5" font-size="8" text-anchor="end" stroke="#231f20" stroke-width="0.18" >1.0</text>
<text x="212.6" y="361.0" font-size="8" text-anchor="end" stroke="#231f20" stroke-width="0.18" >1.5</text>
<path d="M215.2 476.5H218M215.2 437.1H218M215.2 397.6H218M215.2 358.1H218" stroke="#231f20" stroke-width="1"/>
<line x1="218" y1="476.5" x2="310.4" y2="476.5" stroke="#231f20" stroke-width="1.1" />
<path d="M218.5 476.5V479.3M240.4 476.5V479.3M262.8 476.5V479.3M285.5 476.5V479.3M307.9 476.5V479.3" stroke="#231f20" stroke-width="1"/>
<rect x="222.0" y="397.6" width="6.6" height="78.9" fill="#2c4a82" />
<path d="M225.3 397.6V397.6M224.1 397.6H226.5" stroke="#111" stroke-width="0.8"/>
<rect x="230.5" y="423.6" width="7.2" height="52.9" fill="#a8042c" />
<path d="M234.1 423.6V414.2M232.5 414.2H235.7" stroke="#111" stroke-width="0.8"/>
<rect x="244.4" y="397.6" width="6.6" height="78.9" fill="#2c4a82" />
<path d="M247.7 397.6V397.6M246.5 397.6H248.9" stroke="#111" stroke-width="0.8"/>
<rect x="252.7" y="425.2" width="7.2" height="51.3" fill="#a8042c" />
<path d="M256.3 425.2V416.5M254.7 416.5H257.9" stroke="#111" stroke-width="0.8"/>
<rect x="266.5" y="397.6" width="6.6" height="78.9" fill="#2c4a82" />
<path d="M269.8 397.6V397.6M268.6 397.6H271.0" stroke="#111" stroke-width="0.8"/>
<rect x="275.0" y="391.3" width="7.2" height="85.2" fill="#a8042c" />
<path d="M278.6 391.3V370.8M277.0 370.8H280.2" stroke="#111" stroke-width="0.8"/>
<rect x="288.5" y="397.6" width="6.6" height="78.9" fill="#2c4a82" />
<path d="M291.8 397.6V397.6M290.6 397.6H293.0" stroke="#111" stroke-width="0.8"/>
<rect x="297.0" y="419.7" width="7.2" height="56.8" fill="#a8042c" />
<path d="M300.6 419.7V393.7M299.0 393.7H302.2" stroke="#111" stroke-width="0.8"/>
<line x1="220.8" y1="391.6" x2="238.1" y2="391.6" stroke="#231f20" stroke-width="0.8" />
<line x1="243.4" y1="391.6" x2="260.5" y2="391.6" stroke="#231f20" stroke-width="0.8" />
<text x="229.6" y="390.5" font-size="7" text-anchor="middle" stroke="#231f20" stroke-width="0.18" >*</text>
<text x="252" y="390.5" font-size="7" text-anchor="middle" stroke="#231f20" stroke-width="0.18" >*</text>
<text x="229.6" y="489.5" font-size="8" text-anchor="middle" stroke="#231f20" stroke-width="0.18" textLength="18" lengthAdjust="spacingAndGlyphs" >4935</text>
<text x="252" y="489.5" font-size="8" text-anchor="middle" stroke="#231f20" stroke-width="0.18" textLength="18" lengthAdjust="spacingAndGlyphs" >4938</text>
<text x="273.9" y="489.5" font-size="8" text-anchor="middle" stroke="#231f20" stroke-width="0.18" textLength="18" lengthAdjust="spacingAndGlyphs" >4935</text>
<text x="296.5" y="489.5" font-size="8" text-anchor="middle" stroke="#231f20" stroke-width="0.18" textLength="18" lengthAdjust="spacingAndGlyphs" >4938</text>
<line x1="220.3" y1="494.3" x2="261.2" y2="494.3" stroke="#231f20" stroke-width="0.8" />
<line x1="265.4" y1="494.3" x2="306.7" y2="494.3" stroke="#231f20" stroke-width="0.8" />
<text x="240.4" y="504.2" font-size="8" text-anchor="middle" stroke="#231f20" stroke-width="0.18" textLength="21.5" lengthAdjust="spacingAndGlyphs" >PD-L1</text>
<text x="285.9" y="504.2" font-size="8" text-anchor="middle" stroke="#231f20" stroke-width="0.18" textLength="24" lengthAdjust="spacingAndGlyphs" >CD155</text>
<rect x="226.1" y="358.5" width="3.9" height="3.6" fill="#2c4a82" />
<text x="231.9" y="362.6" font-size="8" stroke="#231f20" stroke-width="0.18" textLength="13.8" lengthAdjust="spacingAndGlyphs" >Veh</text>
<rect x="226.1" y="368.5" width="3.9" height="3.6" fill="#a8042c" />
<text x="231.9" y="372.6" font-size="8" stroke="#231f20" stroke-width="0.18" >T</text>
<text x="195.9" y="415.6" font-size="9.6" text-anchor="middle" stroke="#231f20" stroke-width="0.18" textLength="41.8" lengthAdjust="spacingAndGlyphs" transform="rotate(-90 195.9 415.6)" >Relative MFI</text>
<text x="326" y="408.5" font-size="14" fill="#000" font-weight="bold" >L</text>
<line x1="372.7" y1="401.5" x2="372.7" y2="475.9" stroke="#231f20" stroke-width="1.1" />
<text x="367.3" y="478.8" font-size="8" text-anchor="end" stroke="#231f20" stroke-width="0.18" >0</text>
<text x="367.3" y="460.3" font-size="8" text-anchor="end" stroke="#231f20" stroke-width="0.18" >0.5</text>
<text x="367.3" y="441.8" font-size="8" text-anchor="end" stroke="#231f20" stroke-width="0.18" >1.0</text>
<text x="367.3" y="423.4" font-size="8" text-anchor="end" stroke="#231f20" stroke-width="0.18" >1.5</text>
<text x="367.3" y="404.9" font-size="8" text-anchor="end" stroke="#231f20" stroke-width="0.18" >2.0</text>
<path d="M369.9 475.9H372.7M369.9 457.4H372.7M369.9 438.9H372.7M369.9 420.5H372.7M369.9 402.0H372.7" stroke="#231f20" stroke-width="1"/>
<line x1="372.7" y1="475.9" x2="490" y2="475.9" stroke="#231f20" stroke-width="1.1" />
<path d="M372.7 475.9V478.7M387.0 475.9V478.7M401.3 475.9V478.7M415.4 475.9V478.7M430.2 475.9V478.7M444.3 475.9V478.7M458.9 475.9V478.7M473.4 475.9V478.7M487.3 475.9V478.7" stroke="#231f20" stroke-width="1"/>
<text x="372.7" y="488.6" font-size="8" text-anchor="middle" stroke="#231f20" stroke-width="0.18" >0</text>
<text x="387" y="488.6" font-size="8" text-anchor="middle" stroke="#231f20" stroke-width="0.18" textLength="14" lengthAdjust="spacingAndGlyphs" >0.02</text>
<text x="401.3" y="488.6" font-size="8" text-anchor="middle" stroke="#231f20" stroke-width="0.18" >0.1</text>
<text x="415.4" y="488.6" font-size="8" text-anchor="middle" stroke="#231f20" stroke-width="0.18" >0.5</text>
<text x="430.2" y="488.6" font-size="8" text-anchor="middle" stroke="#231f20" stroke-width="0.18" >1</text>
<text x="444.3" y="488.6" font-size="8" text-anchor="middle" stroke="#231f20" stroke-width="0.18" >2</text>
<text x="458.9" y="488.6" font-size="8" text-anchor="middle" stroke="#231f20" stroke-width="0.18" >5</text>
<text x="473.4" y="488.6" font-size="8" text-anchor="middle" stroke="#231f20" stroke-width="0.18" >10</text>
<text x="487.3" y="488.6" font-size="8" text-anchor="middle" stroke="#231f20" stroke-width="0.18" >20</text>
<text x="350" y="488.6" font-size="8" stroke="#231f20" stroke-width="0.18" textLength="16.2" lengthAdjust="spacingAndGlyphs" >(µM)</text>
<text x="404.7" y="502.5" font-size="9" stroke="#231f20" stroke-width="0.18" textLength="54.5" lengthAdjust="spacingAndGlyphs" >GSK525762 (G)</text>
<text x="350.3" y="438" font-size="10" text-anchor="middle" stroke="#231f20" stroke-width="0.18" textLength="55.9" lengthAdjust="spacingAndGlyphs" transform="rotate(-90 350.3 438)" >Relative cell titer</text>
<polyline points="372.7,437.1 387.0,413.8 401.3,411.2 415.4,410.5 430.2,413.1 444.3,436.0 458.9,471.5 473.4,474.8 487.3,475.2" fill="none" stroke="#2c4a82" stroke-width="1.1" stroke-dasharray="3 2"/>
<polyline points="372.7,438.9 387.0,430.1 401.3,431.9 415.4,425.6 430.2,423.8 444.3,427.9 458.9,472.2 473.4,473.7 487.3,474.1" fill="none" stroke="#a8042c" stroke-width="1.1"/>
<circle cx="372.7" cy="438.9" r="1.2" fill="#a8042c"/>
<circle cx="387" cy="430.1" r="1.2" fill="#a8042c"/>
<circle cx="401.3" cy="431.9" r="1.2" fill="#a8042c"/>
<circle cx="415.4" cy="425.6" r="1.2" fill="#a8042c"/>
<circle cx="430.2" cy="423.8" r="1.2" fill="#a8042c"/>
<circle cx="444.3" cy="427.9" r="1.2" fill="#a8042c"/>
<circle cx="458.9" cy="472.2" r="1.2" fill="#a8042c"/>
<circle cx="473.4" cy="473.7" r="1.2" fill="#a8042c"/>
<circle cx="487.3" cy="474.1" r="1.2" fill="#a8042c"/>
<circle cx="372.7" cy="437.1" r="1.0" fill="#2c4a82"/>
<circle cx="387" cy="413.8" r="1.0" fill="#2c4a82"/>
<circle cx="401.3" cy="411.2" r="1.0" fill="#2c4a82"/>
<circle cx="415.4" cy="410.5" r="1.0" fill="#2c4a82"/>
<circle cx="430.2" cy="413.1" r="1.0" fill="#2c4a82"/>
<circle cx="444.3" cy="436.0" r="1.0" fill="#2c4a82"/>
<circle cx="458.9" cy="471.5" r="1.0" fill="#2c4a82"/>
<circle cx="473.4" cy="474.8" r="1.0" fill="#2c4a82"/>
<circle cx="487.3" cy="475.2" r="1.0" fill="#2c4a82"/>
<line x1="375.4" y1="455.5" x2="396.2" y2="455.5" stroke="#a8042c" stroke-width="1.2" />
<circle cx="386" cy="455.5" r="1.3" fill="#a8042c"/>
<line x1="375.4" y1="468.5" x2="396.2" y2="468.5" stroke="#2c4a82" stroke-width="1.2" stroke-dasharray="3 2"/>
<circle cx="386" cy="468.5" r="1.1" fill="#2c4a82"/>
<text x="399" y="458.7" font-size="8" stroke="#231f20" stroke-width="0.18" textLength="33" lengthAdjust="spacingAndGlyphs" >Cell-4935</text>
<text x="399" y="471.4" font-size="8" stroke="#231f20" stroke-width="0.18" textLength="33" lengthAdjust="spacingAndGlyphs" >Cell-4938</text>
<text x="5.2" y="531.5" font-size="14" fill="#000" textLength="15.5" lengthAdjust="spacingAndGlyphs" font-weight="bold" >M</text>
<line x1="52.7" y1="525.3" x2="52.7" y2="643.3" stroke="#231f20" stroke-width="1.1" />
<text x="47.3" y="646.2" font-size="8" text-anchor="end" stroke="#231f20" stroke-width="0.18" >0</text>
<text x="47.3" y="616.8" font-size="8" text-anchor="end" stroke="#231f20" stroke-width="0.18" >0.5</text>
<text x="47.3" y="587.4" font-size="8" text-anchor="end" stroke="#231f20" stroke-width="0.18" >1.0</text>
<text x="47.3" y="558.1" font-size="8" text-anchor="end" stroke="#231f20" stroke-width="0.18" >1.5</text>
<text x="47.3" y="528.7" font-size="8" text-anchor="end" stroke="#231f20" stroke-width="0.18" >2.0</text>
<path d="M49.9 643.3H52.7M49.9 613.9H52.7M49.9 584.5H52.7M49.9 555.2H52.7M49.9 525.8H52.7" stroke="#231f20" stroke-width="1"/>
<line x1="52.7" y1="643.3" x2="144.5" y2="643.3" stroke="#231f20" stroke-width="1.1" />
<path d="M52.7 643.3V646.0999999999999M75.5 643.3V646.0999999999999M98.0 643.3V646.0999999999999M121.0 643.3V646.0999999999999M144.0 643.3V646.0999999999999" stroke="#231f20" stroke-width="1"/>
<rect x="56.2" y="584.5" width="7.0" height="58.8" fill="#2c4a82" />
<rect x="65.1" y="593.4" width="7.0" height="49.9" fill="#a8042c" />
<path d="M68.6 593.4V592.2M67.0 592.2H70.2" stroke="#111" stroke-width="0.8"/>
<rect x="78.7" y="584.5" width="7.0" height="58.8" fill="#2c4a82" />
<rect x="87.9" y="572.2" width="7.0" height="71.1" fill="#a8042c" />
<path d="M91.4 572.2V539.3M89.8 539.3H93.0" stroke="#111" stroke-width="0.8"/>
<rect x="101.4" y="584.5" width="7.0" height="58.8" fill="#2c4a82" />
<rect x="110.7" y="582.2" width="7.0" height="61.1" fill="#a8042c" />
<path d="M114.2 582.2V579.8M112.6 579.8H115.8" stroke="#111" stroke-width="0.8"/>
<rect x="123.9" y="584.5" width="7.0" height="58.8" fill="#2c4a82" />
<rect x="133.4" y="561.0" width="7.0" height="82.2" fill="#a8042c" />
<path d="M136.9 561.0V554.0M135.3 554.0H138.5" stroke="#111" stroke-width="0.8"/>
<text x="64" y="656" font-size="8" text-anchor="middle" stroke="#231f20" stroke-width="0.18" textLength="18" lengthAdjust="spacingAndGlyphs" >4935</text>
<text x="86.5" y="656" font-size="8" text-anchor="middle" stroke="#231f20" stroke-width="0.18" textLength="18" lengthAdjust="spacingAndGlyphs" >4938</text>
<text x="109" y="656" font-size="8" text-anchor="middle" stroke="#231f20" stroke-width="0.18" textLength="18" lengthAdjust="spacingAndGlyphs" >4935</text>
<text x="132" y="656" font-size="8" text-anchor="middle" stroke="#231f20" stroke-width="0.18" textLength="18" lengthAdjust="spacingAndGlyphs" >4938</text>
<line x1="54.8" y1="661.2" x2="96.5" y2="661.2" stroke="#777" stroke-width="1" />
<line x1="100.3" y1="661.2" x2="141.8" y2="661.2" stroke="#777" stroke-width="1" />
<text x="75.5" y="671.3" font-size="8" text-anchor="middle" stroke="#231f20" stroke-width="0.18" textLength="21.5" lengthAdjust="spacingAndGlyphs" >PD-L1</text>
<text x="121" y="671.3" font-size="8" text-anchor="middle" stroke="#231f20" stroke-width="0.18" textLength="24" lengthAdjust="spacingAndGlyphs" >CD155</text>
<rect x="59.7" y="532.1" width="3.8" height="3.8" fill="#2c4a82" />
<text x="66.9" y="536.3" font-size="8" stroke="#231f20" stroke-width="0.18" textLength="13.8" lengthAdjust="spacingAndGlyphs" >Veh</text>
<rect x="59.7" y="542.2" width="3.8" height="3.8" fill="#a8042c" />
<text x="66.9" y="546.4" font-size="8" stroke="#231f20" stroke-width="0.18" >G</text>
<text x="30.1" y="582.6" font-size="9.6" text-anchor="middle" stroke="#231f20" stroke-width="0.18" textLength="41.7" lengthAdjust="spacingAndGlyphs" transform="rotate(-90 30.1 582.6)" >Relative MFI</text>
<text x="174.4" y="532.1" font-size="14" fill="#000" textLength="13.8" lengthAdjust="spacingAndGlyphs" font-weight="bold" >N</text>
<line x1="217.5" y1="546.9" x2="217.5" y2="642.3" stroke="#231f20" stroke-width="1.1" />
<text x="212.1" y="645.2" font-size="8" text-anchor="end" stroke="#231f20" stroke-width="0.18" >0</text>
<text x="212.1" y="613.7" font-size="8" text-anchor="end" stroke="#231f20" stroke-width="0.18" >1</text>
<text x="212.1" y="582.2" font-size="8" text-anchor="end" stroke="#231f20" stroke-width="0.18" >2</text>
<text x="212.1" y="550.7" font-size="8" text-anchor="end" stroke="#231f20" stroke-width="0.18" >3</text>
<path d="M214.7 642.3H217.5M214.7 610.8H217.5M214.7 579.3H217.5M214.7 547.8H217.5" stroke="#231f20" stroke-width="1"/>
<line x1="217.5" y1="642.3" x2="310.6" y2="642.3" stroke="#231f20" stroke-width="1.1" />
<path d="M217.5 642.3V645.0999999999999M263.7 642.3V645.0999999999999M310.6 642.3V645.0999999999999" stroke="#231f20" stroke-width="1"/>
<rect x="219.6" y="628.4" width="8.9" height="13.9" fill="#521f62" />
<path d="M224.1 628.4V625.0M222.2 625.0H225.9" stroke="#111" stroke-width="0.8"/>
<rect x="230.5" y="628.4" width="9.2" height="13.9" fill="#2c4a82" />
<path d="M235.1 628.4V624.0M233.3 624.0H236.9" stroke="#111" stroke-width="0.8"/>
<rect x="242.0" y="627.5" width="9.3" height="14.8" fill="#6cb048" />
<path d="M246.7 627.5V622.8M244.8 622.8H248.5" stroke="#111" stroke-width="0.8"/>
<rect x="253.3" y="627.5" width="8.9" height="14.8" fill="#a8042c" />
<path d="M257.8 627.5V622.8M255.9 622.8H259.6" stroke="#111" stroke-width="0.8"/>
<rect x="264.2" y="595.7" width="9.0" height="46.6" fill="#521f62" />
<path d="M268.7 595.7V592.5M266.9 592.5H270.5" stroke="#111" stroke-width="0.8"/>
<rect x="275.5" y="581.5" width="8.6" height="60.8" fill="#2c4a82" />
<path d="M279.8 581.5V563.5M278.0 563.5H281.6" stroke="#111" stroke-width="0.8"/>
<rect x="286.4" y="576.8" width="9.0" height="65.5" fill="#6cb048" />
<path d="M290.9 576.8V562.9M289.1 562.9H292.7" stroke="#111" stroke-width="0.8"/>
<rect x="297.7" y="608.3" width="8.9" height="34.0" fill="#a8042c" />
<path d="M302.1 608.3V606.4M300.3 606.4H303.9" stroke="#111" stroke-width="0.8"/>
<text x="240.75" y="655.8" font-size="8" text-anchor="middle" stroke="#231f20" stroke-width="0.18" textLength="11.5" lengthAdjust="spacingAndGlyphs" >Pre</text>
<text x="285.15" y="655.8" font-size="8" text-anchor="middle" stroke="#231f20" stroke-width="0.18" textLength="15.1" lengthAdjust="spacingAndGlyphs" >Post</text>
<text x="223.7" y="556.5" font-size="7.8" fill="#521f62" stroke="#521f62" stroke-width="0.18" textLength="32.6" lengthAdjust="spacingAndGlyphs" >Veh (n=6)</text>
<text x="223.7" y="567.5" font-size="7.8" fill="#2c4a82" stroke="#2c4a82" stroke-width="0.18" textLength="24.4" lengthAdjust="spacingAndGlyphs" >T (n=8)</text>
<text x="223.7" y="578.1" font-size="7.8" fill="#6cb048" stroke="#6cb048" stroke-width="0.18" textLength="26.3" lengthAdjust="spacingAndGlyphs" >G (n=8)</text>
<text x="223.7" y="588.7" font-size="7.8" fill="#a8042c" stroke="#a8042c" stroke-width="0.18" textLength="30.7" lengthAdjust="spacingAndGlyphs" >TG (n=8)</text>
<path d="M269.4 575.2V541.2H300V586.7M289.6 553.5V549.2H300" fill="none" stroke="#333" stroke-width="1"/>
<text x="284.6" y="540.5" font-size="6.5" text-anchor="middle" stroke="#231f20" stroke-width="0.18" >**</text>
<text x="294.2" y="548.2" font-size="6.5" text-anchor="middle" stroke="#231f20" stroke-width="0.18" >*</text>
<text x="202.3" y="593.5" font-size="9" text-anchor="middle" stroke="#231f20" stroke-width="0.18" textLength="53" lengthAdjust="spacingAndGlyphs" transform="rotate(-90 202.3 593.5)" >γ/albumin ratio</text>
<text x="325.8" y="531.5" font-size="14" fill="#000" textLength="12.8" lengthAdjust="spacingAndGlyphs" font-weight="bold" >O</text>
<line x1="372.5" y1="551" x2="372.5" y2="642.5" stroke="#231f20" stroke-width="1.1" />
<path d="M369.7 642.5H372.5M370.9 637.9H372.5M370.9 633.4H372.5M370.9 628.8H372.5M369.7 624.3H372.5M370.9 619.7H372.5M370.9 615.1H372.5M370.9 610.6H372.5M369.7 606.0H372.5M370.9 601.5H372.5M370.9 596.9H372.5M370.9 592.3H372.5M369.7 587.8H372.5M370.9 583.2H372.5M370.9 578.7H372.5M370.9 574.1H372.5M369.7 569.5H372.5M370.9 565.0H372.5M370.9 560.4H372.5M370.9 555.9H372.5M369.7 551.3H372.5" stroke="#231f20" stroke-width="0.9"/>
<line x1="372.5" y1="642.5" x2="511.2" y2="642.5" stroke="#231f20" stroke-width="1.1" />
<path d="M372.7 642.5V645.3M380.7 642.5V644.1M388.8 642.5V644.1M396.8 642.5V644.1M404.8 642.5V645.3M412.8 642.5V644.1M420.8 642.5V644.1M428.9 642.5V644.1M436.9 642.5V645.3M444.9 642.5V644.1M452.9 642.5V644.1M461.0 642.5V644.1M469.0 642.5V645.3M477.0 642.5V644.1M485.0 642.5V644.1M493.1 642.5V644.1M501.1 642.5V645.3M509.1 642.5V644.1" stroke="#231f20" stroke-width="0.9"/>
<text x="368" y="645.4" font-size="8" text-anchor="end" stroke="#231f20" stroke-width="0.18" >0</text>
<text x="368" y="627.2" font-size="8" text-anchor="end" stroke="#231f20" stroke-width="0.18" >20</text>
<text x="368" y="608.9" font-size="8" text-anchor="end" stroke="#231f20" stroke-width="0.18" >40</text>
<text x="368" y="590.7" font-size="8" text-anchor="end" stroke="#231f20" stroke-width="0.18" >60</text>
<text x="368" y="572.4" font-size="8" text-anchor="end" stroke="#231f20" stroke-width="0.18" >80</text>
<text x="368" y="554.2" font-size="8" text-anchor="end" stroke="#231f20" stroke-width="0.18" >100</text>
<text x="372.7" y="655.5" font-size="8" text-anchor="middle" stroke="#231f20" stroke-width="0.18" >0</text>
<text x="404.8" y="655.5" font-size="8" text-anchor="middle" stroke="#231f20" stroke-width="0.18" >20</text>
<text x="436.9" y="655.5" font-size="8" text-anchor="middle" stroke="#231f20" stroke-width="0.18" >40</text>
<text x="469.0" y="655.5" font-size="8" text-anchor="middle" stroke="#231f20" stroke-width="0.18" >60</text>
<text x="501.1" y="655.5" font-size="8" text-anchor="middle" stroke="#231f20" stroke-width="0.18" >80</text>
<text x="407.8" y="669.2" font-size="9.8" stroke="#231f20" stroke-width="0.18" textLength="70.1" lengthAdjust="spacingAndGlyphs" >Days since treatment</text>
<text x="348.2" y="595.4" font-size="9.5" text-anchor="middle" stroke="#231f20" stroke-width="0.18" textLength="40.5" lengthAdjust="spacingAndGlyphs" transform="rotate(-90 348.2 595.4)" >Survival (%)</text>
<path d="M372.5 551.5 L402.4 551.5 L402.4 566.6 L403.5 566.6 L403.5 581.9 L416.0 581.9 L416.0 612.2 L423.0 612.2 L423.0 627.8 L438.5 627.8 L438.5 642.0" fill="none" stroke="#521f62" stroke-width="1.4"/>
<path d="M372.5 551.5 L406.5 551.5 L406.5 563.0 L416.1 563.0 L416.1 585.8 L423.0 585.8 L423.0 597.3 L424.2 597.3 L424.2 608.4 L438.8 608.4 L438.8 632.0 L441.9 632.0 L441.9 642.0" fill="none" stroke="#6cb048" stroke-width="1.4"/>
<path d="M372.5 551.5 L409.9 551.5 L409.9 563.0 L424.2 563.0 L424.2 585.8 L438.8 585.8 L438.8 597.3 L440.4 597.3 L440.4 620.0 L445.0 620.0 L445.0 631.5 L458.1 631.5 L458.1 642.0" fill="none" stroke="#2c4a82" stroke-width="1.4"/>
<path d="M372.5 551.5 L398.1 551.5 L398.1 563.0 L445.5 563.0 L445.5 576.5 L449.6 576.5 L449.6 589.6 L458.0 589.6 L458.0 602.7 L461.5 602.7 L461.5 629.3 L506.0 629.3 L506.0 642.0" fill="none" stroke="#a8042c" stroke-width="1.4"/>
<text x="452.8" y="551.4" font-size="7.8" fill="#521f62" stroke="#521f62" stroke-width="0.18" textLength="32.3" lengthAdjust="spacingAndGlyphs" >Veh (n=6)</text>
<text x="453.3" y="561.8" font-size="7.8" fill="#2c4a82" stroke="#2c4a82" stroke-width="0.18" textLength="23.7" lengthAdjust="spacingAndGlyphs" >T (n=8)</text>
<text x="453.3" y="571.2" font-size="7.8" fill="#6cb048" stroke="#6cb048" stroke-width="0.18" textLength="24.7" lengthAdjust="spacingAndGlyphs" >G (n=8)</text>
<text x="453.3" y="581" font-size="7.8" fill="#a8042c" stroke="#a8042c" stroke-width="0.18" textLength="29.4" lengthAdjust="spacingAndGlyphs" >TG (n=8)</text>
<path d="M491 547.8V561.3M498.8 547.8V572M498.8 559.1H503.5V579.3H489.1" fill="none" stroke="#444" stroke-width="1.1"/>
<text x="495" y="557.6" font-size="6.5" text-anchor="middle" stroke="#231f20" stroke-width="0.18" >*</text>
<text x="506.9" y="571.1" font-size="6.5" text-anchor="middle" stroke="#231f20" stroke-width="0.18" >*</text>
<rect x="0.5" y="0.5" width="519" height="679" fill="none" stroke="#000" stroke-width="1.2"/>
</svg>
</body></html>
